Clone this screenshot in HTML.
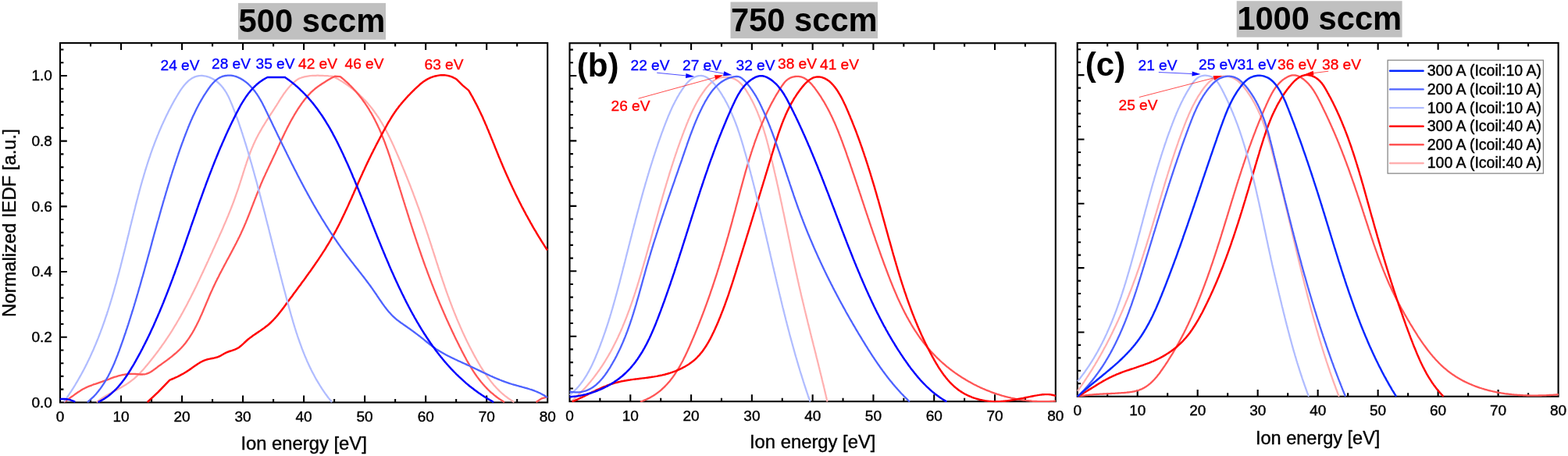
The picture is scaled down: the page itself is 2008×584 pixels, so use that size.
<!DOCTYPE html>
<html lang="en"><head><meta charset="utf-8"><title>Normalized IEDF</title>
<style>html,body{margin:0;padding:0;background:#fff}svg{display:block}text{stroke-linejoin:round}.t{stroke:#000;stroke-width:.4px}.tb{stroke:#00f;stroke-width:.35px}.tr{stroke:#f00;stroke-width:.35px}</style></head>
<body>
<svg width="2008" height="584" viewBox="0 0 2008 584" font-family='"Liberation Sans", sans-serif'>
<rect x="0" y="0" width="2008" height="584" fill="#fff"/>
<rect x="77.0" y="55.1" width="624.2" height="460.29999999999995" fill="none" stroke="#000" stroke-width="2.1"/>
<path d="M116.01,515.4 v-4.4 M116.01,55.1 v4.4 M155.03,515.4 v-8.8 M155.03,55.1 v8.8 M194.04,515.4 v-4.4 M194.04,55.1 v4.4 M233.05,515.4 v-8.8 M233.05,55.1 v8.8 M272.06,515.4 v-4.4 M272.06,55.1 v4.4 M311.08,515.4 v-8.8 M311.08,55.1 v8.8 M350.09,515.4 v-4.4 M350.09,55.1 v4.4 M389.10,515.4 v-8.8 M389.10,55.1 v8.8 M428.11,515.4 v-4.4 M428.11,55.1 v4.4 M467.12,515.4 v-8.8 M467.12,55.1 v8.8 M506.14,515.4 v-4.4 M506.14,55.1 v4.4 M545.15,515.4 v-8.8 M545.15,55.1 v8.8 M584.16,515.4 v-4.4 M584.16,55.1 v4.4 M623.18,515.4 v-8.8 M623.18,55.1 v8.8 M662.19,515.4 v-4.4 M662.19,55.1 v4.4 M77.0,498.66 h4.4 M77.0,481.92 h4.4 M77.0,465.19 h4.4 M77.0,448.45 h4.4 M77.0,431.71 h8.8 M77.0,414.97 h4.4 M77.0,398.23 h4.4 M77.0,381.49 h4.4 M77.0,364.76 h4.4 M77.0,348.02 h8.8 M77.0,331.28 h4.4 M77.0,314.54 h4.4 M77.0,297.80 h4.4 M77.0,281.07 h4.4 M77.0,264.33 h8.8 M77.0,247.59 h4.4 M77.0,230.85 h4.4 M77.0,214.11 h4.4 M77.0,197.37 h4.4 M77.0,180.64 h8.8 M77.0,163.90 h4.4 M77.0,147.16 h4.4 M77.0,130.42 h4.4 M77.0,113.68 h4.4 M77.0,96.95 h8.8 M77.0,80.21 h4.4 M77.0,63.47 h4.4" stroke="#000" stroke-width="2.1" fill="none"/>
<clipPath id="cp1"><rect x="76.0" y="54.1" width="626.2" height="462.29999999999995"/></clipPath>
<g clip-path="url(#cp1)" fill="none" stroke-linejoin="round" stroke-linecap="butt">
<path d="M123.7,515.0 L124.9,514.1 L126.1,513.2 L127.3,512.3 L128.5,511.4 L129.7,510.6 L131.0,509.8 L132.3,509.0 L133.5,508.2 L134.8,507.4 L136.1,506.6 L137.4,505.9 L138.7,505.1 L140.0,504.4 L141.3,503.7 L142.7,503.0 L144.0,502.2 L145.3,501.5 L146.6,500.8 L148.0,500.1 L149.3,499.4 L150.6,498.7 L151.9,497.9 L153.2,497.2 L154.6,496.5 L155.9,495.7 L157.1,495.0 L158.4,494.2 L159.7,493.5 L161.0,492.7 L162.2,491.9 L163.5,491.1 L164.7,490.2 L165.9,489.4 L167.1,488.5 L168.3,487.6 L169.5,486.7 L170.6,485.8 L171.8,484.9 L172.9,483.9 L174.0,482.9 L175.1,481.9 L176.1,480.9 L177.2,479.9 L178.2,478.8 L179.3,477.8 L180.3,476.7 L181.3,475.6 L182.3,474.5 L183.3,473.4 L184.3,472.3 L185.3,471.1 L186.2,470.0 L187.2,468.8 L188.2,467.7 L189.1,466.5 L190.1,465.4 L191.0,464.2 L192.0,463.1 L192.9,461.9 L193.8,460.7 L194.8,459.5 L195.7,458.4 L196.6,457.2 L197.5,456.0 L198.5,454.8 L199.4,453.6 L200.3,452.4 L201.2,451.2 L202.1,450.0 L203.0,448.8 L203.9,447.6 L204.7,446.4 L205.6,445.2 L206.5,444.0 L207.4,442.7 L208.2,441.5 L209.1,440.3 L210.0,439.1 L210.8,437.8 L211.7,436.6 L212.5,435.3 L213.3,434.1 L214.2,432.9 L215.0,431.6 L215.8,430.4 L216.7,429.1 L217.5,427.8 L218.3,426.6 L219.1,425.3 L219.9,424.1 L220.7,422.8 L221.5,421.5 L222.3,420.2 L223.0,419.0 L223.8,417.7 L224.6,416.4 L225.4,415.1 L226.1,413.8 L226.9,412.5 L227.6,411.2 L228.4,410.0 L229.1,408.7 L229.9,407.4 L230.6,406.1 L231.4,404.8 L232.1,403.4 L232.8,402.1 L233.6,400.8 L234.3,399.5 L235.0,398.2 L235.7,396.9 L236.4,395.6 L237.1,394.3 L237.8,392.9 L238.6,391.6 L239.3,390.3 L240.0,389.0 L240.6,387.6 L241.3,386.3 L242.0,385.0 L242.7,383.6 L243.4,382.3 L244.1,381.0 L244.8,379.6 L245.4,378.3 L246.1,376.9 L246.8,375.6 L247.4,374.3 L248.1,372.9 L248.8,371.6 L249.4,370.2 L250.1,368.9 L250.8,367.5 L251.4,366.2 L252.1,364.8 L252.7,363.5 L253.4,362.1 L254.0,360.8 L254.7,359.4 L255.3,358.1 L255.9,356.7 L256.6,355.3 L257.2,354.0 L257.9,352.6 L258.5,351.3 L259.1,349.9 L259.8,348.6 L260.4,347.2 L261.0,345.8 L261.7,344.5 L262.3,343.1 L262.9,341.7 L263.6,340.4 L264.2,339.0 L264.8,337.7 L265.4,336.3 L266.1,334.9 L266.7,333.6 L267.3,332.2 L267.9,330.8 L268.6,329.5 L269.2,328.1 L269.8,326.7 L270.4,325.4 L271.1,324.0 L271.7,322.7 L272.3,321.3 L272.9,319.9 L273.5,318.6 L274.2,317.2 L274.8,315.8 L275.4,314.5 L276.0,313.1 L276.6,311.7 L277.3,310.4 L277.9,309.0 L278.5,307.7 L279.1,306.3 L279.7,304.9 L280.3,303.6 L280.9,302.2 L281.5,300.8 L282.1,299.5 L282.8,298.1 L283.4,296.7 L284.0,295.3 L284.6,294.0 L285.2,292.6 L285.8,291.2 L286.3,289.9 L286.9,288.5 L287.5,287.1 L288.1,285.7 L288.7,284.4 L289.3,283.0 L289.9,281.6 L290.4,280.2 L291.0,278.9 L291.6,277.5 L292.2,276.1 L292.7,274.7 L293.3,273.3 L293.9,271.9 L294.4,270.5 L295.0,269.2 L295.5,267.8 L296.1,266.4 L296.6,265.0 L297.1,263.6 L297.7,262.2 L298.2,260.8 L298.8,259.4 L299.3,258.0 L299.8,256.6 L300.3,255.2 L300.8,253.8 L301.3,252.4 L301.8,251.0 L302.3,249.5 L302.8,248.1 L303.3,246.7 L303.8,245.3 L304.3,243.9 L304.8,242.5 L305.3,241.0 L305.7,239.6 L306.2,238.2 L306.7,236.7 L307.1,235.3 L307.6,233.9 L308.0,232.4 L308.5,231.0 L309.0,229.6 L309.4,228.1 L309.9,226.7 L310.3,225.3 L310.8,223.8 L311.2,222.4 L311.7,221.0 L312.1,219.5 L312.6,218.1 L313.0,216.7 L313.5,215.2 L314.0,213.8 L314.4,212.4 L314.9,211.0 L315.4,209.5 L315.8,208.1 L316.3,206.7 L316.8,205.3 L317.3,203.9 L317.8,202.4 L318.3,201.0 L318.8,199.6 L319.3,198.2 L319.9,196.8 L320.4,195.4 L320.9,194.0 L321.5,192.6 L322.0,191.2 L322.6,189.9 L323.2,188.5 L323.8,187.1 L324.3,185.7 L325.0,184.4 L325.6,183.0 L326.2,181.7 L326.8,180.3 L327.5,179.0 L328.1,177.6 L328.8,176.3 L329.5,175.0 L330.2,173.6 L330.9,172.3 L331.6,171.0 L332.4,169.7 L333.1,168.4 L333.8,167.1 L334.6,165.8 L335.3,164.5 L336.1,163.2 L336.9,161.9 L337.7,160.6 L338.5,159.3 L339.2,158.1 L340.0,156.8 L340.8,155.5 L341.6,154.2 L342.5,153.0 L343.3,151.7 L344.1,150.4 L344.9,149.2 L345.7,147.9 L346.5,146.6 L347.3,145.4 L348.2,144.1 L349.0,142.9 L349.8,141.6 L350.6,140.3 L351.4,139.1 L352.2,137.8 L353.0,136.5 L353.9,135.3 L354.7,134.0 L355.5,132.7 L356.3,131.5 L357.0,130.2 L357.8,128.9 L358.6,127.7 L359.4,126.4 L360.2,125.2 L361.1,123.9 L361.9,122.7 L362.7,121.4 L363.5,120.2 L364.4,119.0 L365.3,117.8 L366.1,116.6 L367.0,115.4 L368.0,114.3 L368.9,113.1 L369.9,112.0 L370.8,110.9 L371.8,109.8 L372.9,108.7 L373.9,107.7 L375.0,106.6 L376.2,105.6 L377.3,104.6 L378.5,103.7 L379.7,102.7 L381.0,101.8 L382.3,101.0 L382.5,100.8 L383.9,100.2 L385.3,99.7 L386.7,99.2 L388.2,98.8 L389.6,98.4 L391.0,98.1 L392.5,97.8 L394.0,97.6 L395.5,97.4 L396.9,97.2 L398.4,97.0 L399.9,96.9 L401.4,96.8 L402.9,96.8 L404.5,96.8 L406.0,96.7 L407.5,96.7 L409.0,96.8 L410.5,96.8 L412.0,96.8 L413.5,96.9 L415.0,97.0 L416.5,97.0 L418.0,97.1 L419.5,97.2 L421.0,97.4 L422.5,97.5 L424.0,97.6 L425.5,97.7 L426.2,97.8 L427.6,98.5 L428.9,99.2 L430.3,99.9 L431.6,100.6 L432.9,101.3 L434.2,102.1 L435.5,102.9 L436.8,103.6 L438.1,104.4 L439.4,105.2 L440.6,106.0 L441.9,106.9 L443.1,107.7 L444.4,108.6 L445.6,109.4 L446.8,110.3 L448.0,111.2 L449.2,112.1 L450.4,113.0 L451.6,113.9 L452.7,114.9 L453.9,115.8 L455.0,116.8 L456.2,117.7 L457.3,118.7 L458.4,119.7 L459.5,120.7 L460.6,121.7 L461.7,122.8 L462.8,123.8 L463.8,124.8 L464.9,125.9 L465.9,127.0 L467.0,128.0 L468.0,129.1 L469.0,130.2 L470.0,131.3 L471.0,132.4 L472.0,133.6 L472.9,134.7 L473.9,135.8 L474.8,137.0 L475.8,138.2 L476.7,139.3 L477.6,140.5 L478.5,141.7 L479.4,142.9 L480.2,144.1 L481.1,145.3 L482.0,146.5 L482.8,147.8 L483.6,149.0 L484.5,150.2 L485.3,151.5 L486.1,152.7 L486.9,154.0 L487.6,155.3 L488.4,156.5 L489.2,157.8 L489.9,159.1 L490.7,160.4 L491.4,161.7 L492.2,163.0 L492.9,164.3 L493.6,165.6 L494.3,166.9 L495.0,168.2 L495.7,169.6 L496.4,170.9 L497.1,172.2 L497.7,173.6 L498.4,174.9 L499.1,176.3 L499.7,177.6 L500.4,179.0 L501.0,180.3 L501.7,181.7 L502.3,183.0 L502.9,184.4 L503.6,185.8 L504.2,187.1 L504.8,188.5 L505.4,189.9 L506.0,191.2 L506.6,192.6 L507.2,194.0 L507.8,195.4 L508.4,196.8 L509.0,198.1 L509.6,199.5 L510.2,200.9 L510.8,202.3 L511.4,203.7 L512.0,205.0 L512.6,206.4 L513.2,207.8 L513.8,209.2 L514.3,210.6 L514.9,212.0 L515.5,213.4 L516.1,214.7 L516.6,216.1 L517.2,217.5 L517.8,218.9 L518.3,220.3 L518.9,221.7 L519.5,223.1 L520.0,224.5 L520.6,225.9 L521.2,227.3 L521.7,228.7 L522.3,230.1 L522.8,231.4 L523.4,232.8 L523.9,234.2 L524.5,235.6 L525.0,237.0 L525.6,238.4 L526.1,239.8 L526.6,241.2 L527.2,242.6 L527.7,244.0 L528.3,245.4 L528.8,246.8 L529.3,248.2 L529.8,249.6 L530.4,251.1 L530.9,252.5 L531.4,253.9 L531.9,255.3 L532.5,256.7 L533.0,258.1 L533.5,259.5 L534.0,260.9 L534.5,262.3 L535.0,263.7 L535.6,265.1 L536.1,266.5 L536.6,267.9 L537.1,269.4 L537.6,270.8 L538.1,272.2 L538.6,273.6 L539.1,275.0 L539.6,276.4 L540.1,277.8 L540.6,279.2 L541.1,280.7 L541.6,282.1 L542.0,283.5 L542.5,284.9 L543.0,286.3 L543.5,287.7 L544.0,289.2 L544.5,290.6 L544.9,292.0 L545.4,293.4 L545.9,294.8 L546.4,296.2 L546.8,297.7 L547.3,299.1 L547.8,300.5 L548.3,301.9 L548.7,303.3 L549.2,304.8 L549.7,306.2 L550.1,307.6 L550.6,309.0 L551.0,310.4 L551.5,311.9 L552.0,313.3 L552.4,314.7 L552.9,316.1 L553.3,317.6 L553.8,319.0 L554.3,320.4 L554.7,321.8 L555.2,323.3 L555.6,324.7 L556.1,326.1 L556.5,327.5 L557.0,328.9 L557.5,330.4 L557.9,331.8 L558.4,333.2 L558.8,334.6 L559.3,336.1 L559.7,337.5 L560.2,338.9 L560.7,340.3 L561.1,341.8 L561.6,343.2 L562.0,344.6 L562.5,346.0 L563.0,347.4 L563.4,348.9 L563.9,350.3 L564.4,351.7 L564.8,353.1 L565.3,354.5 L565.8,356.0 L566.3,357.4 L566.7,358.8 L567.2,360.2 L567.7,361.6 L568.2,363.1 L568.7,364.5 L569.2,365.9 L569.6,367.3 L570.1,368.7 L570.6,370.1 L571.1,371.6 L571.6,373.0 L572.1,374.4 L572.6,375.8 L573.1,377.2 L573.6,378.6 L574.2,380.0 L574.7,381.5 L575.2,382.9 L575.7,384.3 L576.2,385.7 L576.8,387.1 L577.3,388.5 L577.8,389.9 L578.4,391.3 L578.9,392.7 L579.4,394.1 L580.0,395.5 L580.5,396.9 L581.1,398.3 L581.6,399.7 L582.2,401.1 L582.8,402.5 L583.3,403.9 L583.9,405.3 L584.5,406.7 L585.0,408.1 L585.6,409.5 L586.2,410.9 L586.8,412.2 L587.4,413.6 L588.0,415.0 L588.6,416.4 L589.2,417.8 L589.8,419.2 L590.4,420.5 L591.0,421.9 L591.6,423.3 L592.2,424.6 L592.8,426.0 L593.5,427.4 L594.1,428.7 L594.7,430.1 L595.4,431.5 L596.0,432.8 L596.7,434.2 L597.3,435.5 L598.0,436.9 L598.6,438.2 L599.3,439.6 L600.0,440.9 L600.6,442.3 L601.3,443.6 L602.0,445.0 L602.7,446.3 L603.4,447.6 L604.1,449.0 L604.8,450.3 L605.5,451.6 L606.2,452.9 L606.9,454.3 L607.6,455.6 L608.3,456.9 L609.0,458.2 L609.8,459.5 L610.5,460.8 L611.3,462.1 L612.0,463.4 L612.7,464.7 L613.5,466.0 L614.3,467.3 L615.0,468.6 L615.8,469.9 L616.6,471.1 L617.4,472.4 L618.2,473.7 L619.0,474.9 L619.8,476.2 L620.6,477.4 L621.5,478.7 L622.3,479.9 L623.2,481.1 L624.0,482.3 L624.9,483.5 L625.8,484.7 L626.7,485.9 L627.6,487.1 L628.5,488.3 L629.4,489.4 L630.3,490.6 L631.3,491.7 L632.2,492.9 L633.2,494.0 L634.2,495.1 L635.2,496.2 L636.2,497.3 L637.2,498.3 L638.3,499.4 L639.3,500.4 L640.4,501.5 L641.5,502.5 L642.6,503.5 L643.7,504.5 L644.9,505.4 L646.0,506.4 L647.2,507.3 L648.4,508.2 L649.6,509.2 L650.8,510.0 L652.1,510.9 L653.3,511.8 L654.6,512.6 L655.9,513.4 L657.2,514.2 L658.5,515.0" stroke="#ffb0b0" stroke-width="2.25"/>
<path d="M81.9,514.8 L83.2,514.0 L84.4,513.2 L85.7,512.3 L86.9,511.5 L88.2,510.6 L89.4,509.8 L90.6,508.9 L91.8,508.0 L93.1,507.2 L94.3,506.3 L95.5,505.4 L96.7,504.5 L97.9,503.7 L99.2,502.8 L100.4,502.0 L101.7,501.2 L102.9,500.4 L104.2,499.6 L105.5,498.8 L106.8,498.1 L108.1,497.4 L109.4,496.7 L110.7,496.1 L112.1,495.5 L113.5,494.9 L114.9,494.3 L116.3,493.8 L117.7,493.3 L119.1,492.7 L120.5,492.2 L121.9,491.8 L123.3,491.3 L124.8,490.8 L126.2,490.3 L127.6,489.8 L129.0,489.3 L130.5,488.9 L131.9,488.4 L133.3,487.9 L134.7,487.4 L136.1,486.8 L137.5,486.3 L138.9,485.8 L140.3,485.3 L141.7,484.7 L143.1,484.2 L144.5,483.7 L145.9,483.2 L147.3,482.7 L148.7,482.3 L150.2,481.8 L151.6,481.4 L153.0,481.0 L154.5,480.7 L155.9,480.3 L157.4,480.0 L158.8,479.8 L160.3,479.5 L161.8,479.3 L163.2,479.1 L164.7,478.9 L166.2,478.8 L167.7,478.8 L169.1,478.8 L170.6,478.8 L172.1,478.9 L173.6,479.0 L175.1,479.1 L176.6,479.2 L178.1,479.4 L179.5,479.5 L181.0,479.5 L182.4,479.5 L183.8,479.4 L185.2,479.3 L186.6,479.0 L187.9,478.6 L189.2,478.2 L190.5,477.6 L191.8,477.0 L193.1,476.3 L194.3,475.5 L195.5,474.7 L196.7,473.8 L198.0,472.9 L199.2,472.0 L200.4,471.1 L201.6,470.2 L202.8,469.2 L204.0,468.3 L205.3,467.5 L206.5,466.6 L207.7,465.7 L208.9,464.8 L210.1,463.9 L211.4,463.1 L212.6,462.2 L213.8,461.3 L215.0,460.4 L216.2,459.5 L217.3,458.6 L218.5,457.7 L219.7,456.8 L220.8,455.9 L221.9,454.9 L223.0,454.0 L224.2,453.0 L225.3,452.1 L226.4,451.1 L227.5,450.1 L228.5,449.1 L229.6,448.1 L230.7,447.0 L231.7,446.0 L232.7,444.9 L233.7,443.8 L234.7,442.7 L235.7,441.5 L236.6,440.4 L237.6,439.2 L238.5,438.0 L239.4,436.8 L240.2,435.6 L241.1,434.4 L242.0,433.1 L242.8,431.9 L243.6,430.6 L244.4,429.3 L245.2,428.1 L246.0,426.8 L246.8,425.5 L247.5,424.2 L248.3,422.9 L249.0,421.6 L249.7,420.2 L250.4,418.9 L251.1,417.6 L251.8,416.2 L252.4,414.9 L253.1,413.6 L253.8,412.2 L254.4,410.9 L255.1,409.5 L255.7,408.2 L256.3,406.8 L256.9,405.4 L257.5,404.1 L258.2,402.7 L258.8,401.3 L259.4,399.9 L260.0,398.6 L260.5,397.2 L261.1,395.8 L261.7,394.4 L262.3,393.0 L262.9,391.6 L263.5,390.3 L264.0,388.9 L264.6,387.5 L265.2,386.1 L265.8,384.7 L266.4,383.3 L267.0,382.0 L267.5,380.6 L268.1,379.2 L268.7,377.8 L269.3,376.4 L269.9,375.1 L270.5,373.7 L271.2,372.3 L271.8,371.0 L272.4,369.6 L273.0,368.2 L273.7,366.9 L274.3,365.5 L274.9,364.2 L275.6,362.8 L276.2,361.5 L276.9,360.1 L277.6,358.8 L278.2,357.4 L278.9,356.1 L279.6,354.8 L280.3,353.4 L280.9,352.1 L281.6,350.7 L282.3,349.4 L283.0,348.1 L283.7,346.8 L284.4,345.4 L285.1,344.1 L285.8,342.8 L286.5,341.4 L287.2,340.1 L287.9,338.8 L288.6,337.5 L289.3,336.2 L290.0,334.8 L290.7,333.5 L291.4,332.2 L292.2,330.9 L292.9,329.5 L293.6,328.2 L294.3,326.9 L295.0,325.6 L295.7,324.3 L296.4,322.9 L297.1,321.6 L297.8,320.3 L298.5,318.9 L299.2,317.6 L299.9,316.3 L300.6,315.0 L301.3,313.6 L302.0,312.3 L302.7,311.0 L303.3,309.6 L304.0,308.3 L304.7,306.9 L305.3,305.6 L306.0,304.3 L306.7,302.9 L307.3,301.6 L308.0,300.2 L308.6,298.9 L309.2,297.5 L309.8,296.1 L310.5,294.8 L311.1,293.4 L311.7,292.0 L312.3,290.7 L312.9,289.3 L313.5,287.9 L314.1,286.5 L314.7,285.1 L315.2,283.8 L315.8,282.4 L316.4,281.0 L316.9,279.6 L317.5,278.2 L318.1,276.8 L318.6,275.4 L319.2,274.0 L319.7,272.6 L320.3,271.2 L320.8,269.8 L321.4,268.4 L321.9,267.0 L322.4,265.6 L323.0,264.2 L323.5,262.8 L324.1,261.4 L324.6,260.0 L325.1,258.6 L325.7,257.2 L326.2,255.8 L326.8,254.4 L327.3,253.0 L327.9,251.6 L328.4,250.2 L329.0,248.8 L329.5,247.4 L330.1,246.0 L330.6,244.6 L331.2,243.2 L331.8,241.9 L332.3,240.5 L332.9,239.1 L333.5,237.7 L334.0,236.3 L334.6,234.9 L335.2,233.6 L335.8,232.2 L336.4,230.8 L337.0,229.4 L337.6,228.1 L338.2,226.7 L338.9,225.3 L339.5,224.0 L340.1,222.6 L340.7,221.3 L341.4,219.9 L342.0,218.5 L342.6,217.2 L343.3,215.8 L343.9,214.5 L344.5,213.1 L345.2,211.8 L345.8,210.4 L346.5,209.1 L347.1,207.7 L347.7,206.4 L348.4,205.0 L349.0,203.6 L349.7,202.3 L350.3,200.9 L350.9,199.6 L351.6,198.2 L352.2,196.9 L352.9,195.5 L353.5,194.1 L354.1,192.8 L354.8,191.4 L355.4,190.0 L356.0,188.7 L356.6,187.3 L357.3,186.0 L357.9,184.6 L358.5,183.2 L359.2,181.9 L359.8,180.5 L360.5,179.1 L361.1,177.8 L361.7,176.4 L362.4,175.1 L363.0,173.7 L363.7,172.4 L364.3,171.0 L365.0,169.6 L365.6,168.3 L366.3,167.0 L367.0,165.6 L367.6,164.3 L368.3,162.9 L369.0,161.6 L369.7,160.3 L370.4,158.9 L371.1,157.6 L371.8,156.3 L372.5,155.0 L373.2,153.7 L374.0,152.4 L374.7,151.1 L375.4,149.8 L376.2,148.5 L376.9,147.2 L377.7,145.9 L378.5,144.6 L379.2,143.3 L380.0,142.1 L380.8,140.8 L381.6,139.5 L382.5,138.3 L383.3,137.0 L384.1,135.8 L385.0,134.6 L385.8,133.3 L386.7,132.1 L387.6,130.9 L388.5,129.7 L389.4,128.5 L390.3,127.3 L391.3,126.2 L392.2,125.0 L393.2,123.9 L394.1,122.7 L395.1,121.6 L396.2,120.5 L397.2,119.4 L398.2,118.4 L399.3,117.3 L400.4,116.3 L401.5,115.3 L402.7,114.4 L403.8,113.4 L405.0,112.5 L406.2,111.6 L407.4,110.7 L408.6,109.9 L409.9,109.0 L411.1,108.2 L412.4,107.3 L413.7,106.5 L414.9,105.7 L416.2,104.9 L417.5,104.1 L418.7,103.3 L420.0,102.5 L421.3,101.7 L422.6,101.0 L423.9,100.3 L425.2,99.6 L426.5,98.9 L427.8,98.2 L428.7,97.7 L435.6,98.1 L436.8,99.0 L438.0,100.0 L439.1,100.9 L440.3,101.9 L441.4,102.9 L442.5,103.9 L443.7,104.9 L444.8,105.9 L445.9,106.9 L446.9,107.9 L448.0,109.0 L449.1,110.0 L450.1,111.1 L451.2,112.2 L452.2,113.3 L453.2,114.4 L454.2,115.5 L455.2,116.6 L456.2,117.7 L457.2,118.9 L458.1,120.0 L459.1,121.2 L460.0,122.3 L460.9,123.5 L461.9,124.7 L462.8,125.9 L463.7,127.1 L464.6,128.3 L465.4,129.5 L466.3,130.7 L467.2,131.9 L468.0,133.2 L468.8,134.4 L469.7,135.6 L470.5,136.9 L471.3,138.2 L472.1,139.4 L472.9,140.7 L473.6,142.0 L474.4,143.3 L475.2,144.5 L475.9,145.8 L476.6,147.1 L477.4,148.4 L478.1,149.8 L478.8,151.1 L479.5,152.4 L480.2,153.7 L480.8,155.0 L481.5,156.4 L482.2,157.7 L482.8,159.1 L483.5,160.4 L484.1,161.8 L484.7,163.1 L485.4,164.5 L486.0,165.8 L486.6,167.2 L487.2,168.6 L487.8,169.9 L488.3,171.3 L488.9,172.7 L489.5,174.1 L490.0,175.5 L490.6,176.9 L491.1,178.3 L491.7,179.6 L492.2,181.0 L492.8,182.4 L493.3,183.9 L493.8,185.3 L494.3,186.7 L494.8,188.1 L495.3,189.5 L495.9,190.9 L496.4,192.3 L496.8,193.7 L497.3,195.2 L497.8,196.6 L498.3,198.0 L498.8,199.4 L499.3,200.9 L499.7,202.3 L500.2,203.7 L500.7,205.2 L501.1,206.6 L501.6,208.0 L502.0,209.5 L502.5,210.9 L503.0,212.3 L503.4,213.8 L503.9,215.2 L504.3,216.6 L504.8,218.1 L505.2,219.5 L505.7,221.0 L506.1,222.4 L506.5,223.8 L507.0,225.3 L507.4,226.7 L507.9,228.2 L508.3,229.6 L508.8,231.0 L509.2,232.5 L509.7,233.9 L510.1,235.3 L510.5,236.8 L511.0,238.2 L511.4,239.7 L511.9,241.1 L512.3,242.5 L512.8,244.0 L513.2,245.4 L513.7,246.8 L514.1,248.3 L514.5,249.7 L515.0,251.1 L515.4,252.6 L515.9,254.0 L516.3,255.4 L516.8,256.9 L517.2,258.3 L517.7,259.7 L518.1,261.2 L518.6,262.6 L519.0,264.0 L519.5,265.5 L519.9,266.9 L520.4,268.3 L520.8,269.7 L521.3,271.2 L521.7,272.6 L522.2,274.0 L522.6,275.5 L523.1,276.9 L523.5,278.3 L524.0,279.7 L524.4,281.2 L524.9,282.6 L525.3,284.0 L525.8,285.5 L526.3,286.9 L526.7,288.3 L527.2,289.7 L527.6,291.2 L528.1,292.6 L528.6,294.0 L529.0,295.4 L529.5,296.8 L530.0,298.3 L530.4,299.7 L530.9,301.1 L531.4,302.5 L531.8,303.9 L532.3,305.4 L532.8,306.8 L533.3,308.2 L533.7,309.6 L534.2,311.0 L534.7,312.5 L535.2,313.9 L535.6,315.3 L536.1,316.7 L536.6,318.1 L537.1,319.5 L537.6,321.0 L538.1,322.4 L538.6,323.8 L539.0,325.2 L539.5,326.6 L540.0,328.0 L540.5,329.4 L541.0,330.8 L541.5,332.2 L542.0,333.7 L542.5,335.1 L543.0,336.5 L543.5,337.9 L544.0,339.3 L544.5,340.7 L545.0,342.1 L545.6,343.5 L546.1,344.9 L546.6,346.3 L547.1,347.7 L547.6,349.1 L548.1,350.5 L548.7,351.9 L549.2,353.3 L549.7,354.7 L550.3,356.1 L550.8,357.5 L551.3,358.9 L551.9,360.3 L552.4,361.7 L552.9,363.1 L553.5,364.5 L554.0,365.9 L554.6,367.3 L555.1,368.7 L555.7,370.1 L556.2,371.5 L556.8,372.9 L557.3,374.3 L557.9,375.7 L558.5,377.1 L559.0,378.5 L559.6,379.8 L560.2,381.2 L560.7,382.6 L561.3,384.0 L561.9,385.4 L562.5,386.8 L563.0,388.2 L563.6,389.5 L564.2,390.9 L564.8,392.3 L565.4,393.7 L566.0,395.1 L566.6,396.5 L567.2,397.8 L567.8,399.2 L568.4,400.6 L569.0,402.0 L569.6,403.3 L570.2,404.7 L570.8,406.1 L571.4,407.5 L572.0,408.8 L572.6,410.2 L573.3,411.6 L573.9,412.9 L574.5,414.3 L575.1,415.7 L575.8,417.1 L576.4,418.4 L577.0,419.8 L577.7,421.1 L578.3,422.5 L578.9,423.9 L579.6,425.2 L580.2,426.6 L580.9,427.9 L581.5,429.3 L582.2,430.7 L582.8,432.0 L583.5,433.4 L584.1,434.7 L584.8,436.1 L585.5,437.4 L586.1,438.8 L586.8,440.1 L587.5,441.5 L588.1,442.8 L588.8,444.2 L589.5,445.5 L590.2,446.8 L590.8,448.2 L591.5,449.5 L592.2,450.9 L592.9,452.2 L593.6,453.5 L594.3,454.9 L595.0,456.2 L595.7,457.5 L596.4,458.8 L597.1,460.2 L597.8,461.5 L598.6,462.8 L599.3,464.1 L600.0,465.4 L600.8,466.7 L601.6,468.0 L602.3,469.2 L603.1,470.5 L603.9,471.8 L604.7,473.1 L605.5,474.3 L606.3,475.6 L607.1,476.8 L607.9,478.0 L608.7,479.3 L609.6,480.5 L610.4,481.7 L611.3,482.9 L612.2,484.1 L613.1,485.3 L614.0,486.5 L614.9,487.6 L615.8,488.8 L616.8,489.9 L617.7,491.1 L618.7,492.2 L619.7,493.3 L620.7,494.4 L621.7,495.5 L622.7,496.6 L623.7,497.6 L624.8,498.7 L625.8,499.7 L626.9,500.8 L628.0,501.8 L629.1,502.8 L630.2,503.7 L631.4,504.7 L632.5,505.7 L633.7,506.6 L634.9,507.5 L636.1,508.5 L637.3,509.4 L638.5,510.2 L639.8,511.1 L641.0,511.9 L642.3,512.8 L643.6,513.6 L645.0,514.4 L646.0,515.0 M686.6,515.0 L693.5,510.4 L701.0,508.5" stroke="#ff5555" stroke-width="2.3"/>
<path d="M188.8,515.0 L202.5,502.2 L217.5,486.6 L218.9,486.1 L220.3,485.5 L221.7,484.9 L223.1,484.3 L224.4,483.7 L225.8,483.1 L227.1,482.5 L228.5,481.8 L229.8,481.1 L231.2,480.4 L232.5,479.7 L233.8,479.0 L235.1,478.3 L236.4,477.5 L237.7,476.7 L239.0,475.9 L240.2,475.1 L241.5,474.3 L242.7,473.4 L244.0,472.6 L245.2,471.7 L246.4,470.8 L247.6,470.0 L248.9,469.1 L250.1,468.2 L251.3,467.4 L252.6,466.6 L253.8,465.8 L255.1,465.0 L256.3,464.2 L257.6,463.5 L258.9,462.9 L260.3,462.2 L261.6,461.6 L263.0,461.1 L264.4,460.6 L265.8,460.2 L267.2,459.9 L268.7,459.6 L270.2,459.3 L271.7,459.0 L273.2,458.7 L274.6,458.4 L276.1,458.0 L277.5,457.6 L278.9,457.2 L280.3,456.6 L281.7,456.0 L283.0,455.3 L284.3,454.5 L285.6,453.8 L286.9,453.0 L288.2,452.3 L289.5,451.7 L290.9,451.1 L292.3,450.5 L293.7,450.0 L295.2,449.5 L296.6,449.1 L298.0,448.6 L299.4,448.1 L300.8,447.6 L302.2,447.0 L303.5,446.4 L304.8,445.7 L306.0,444.9 L307.2,444.0 L308.4,443.1 L309.5,442.1 L310.6,441.1 L311.7,440.1 L312.8,439.0 L313.9,438.0 L315.0,437.0 L316.1,436.0 L317.2,435.0 L318.4,434.1 L319.6,433.1 L320.7,432.2 L321.9,431.4 L323.1,430.5 L324.4,429.6 L325.6,428.8 L326.8,427.9 L328.1,427.1 L329.3,426.2 L330.6,425.4 L331.8,424.5 L333.1,423.7 L334.4,422.8 L335.6,421.9 L336.9,421.0 L338.1,420.2 L339.3,419.3 L340.5,418.3 L341.7,417.4 L342.9,416.5 L344.1,415.5 L345.2,414.5 L346.3,413.5 L347.4,412.5 L348.4,411.4 L349.5,410.4 L350.5,409.3 L351.5,408.2 L352.5,407.1 L353.5,406.0 L354.5,404.9 L355.5,403.7 L356.4,402.6 L357.3,401.4 L358.3,400.3 L359.2,399.1 L360.1,397.9 L361.0,396.7 L361.9,395.6 L362.8,394.4 L363.7,393.2 L364.6,392.0 L365.5,390.8 L366.4,389.5 L367.2,388.3 L368.1,387.1 L369.0,385.9 L369.9,384.7 L370.8,383.5 L371.7,382.3 L372.6,381.1 L373.5,379.9 L374.4,378.7 L375.2,377.5 L376.1,376.3 L377.0,375.1 L377.9,373.9 L378.8,372.7 L379.7,371.5 L380.6,370.3 L381.5,369.0 L382.4,367.8 L383.3,366.6 L384.2,365.4 L385.1,364.2 L385.9,363.0 L386.8,361.8 L387.7,360.6 L388.6,359.4 L389.5,358.2 L390.4,356.9 L391.3,355.7 L392.1,354.5 L393.0,353.3 L393.9,352.1 L394.8,350.8 L395.6,349.6 L396.5,348.4 L397.4,347.2 L398.3,346.0 L399.1,344.7 L400.0,343.5 L400.9,342.3 L401.7,341.0 L402.6,339.8 L403.4,338.6 L404.3,337.3 L405.1,336.1 L406.0,334.9 L406.8,333.6 L407.7,332.4 L408.5,331.1 L409.3,329.9 L410.2,328.6 L411.0,327.4 L411.8,326.1 L412.6,324.9 L413.4,323.6 L414.2,322.4 L415.1,321.1 L415.9,319.8 L416.7,318.6 L417.4,317.3 L418.2,316.0 L419.0,314.7 L419.8,313.5 L420.6,312.2 L421.4,310.9 L422.1,309.6 L422.9,308.3 L423.6,307.0 L424.4,305.7 L425.1,304.4 L425.9,303.1 L426.6,301.8 L427.3,300.5 L428.1,299.2 L428.8,297.9 L429.5,296.6 L430.2,295.3 L430.9,294.0 L431.6,292.6 L432.3,291.3 L433.0,290.0 L433.7,288.6 L434.4,287.3 L435.0,286.0 L435.7,284.6 L436.4,283.3 L437.0,281.9 L437.7,280.6 L438.3,279.2 L439.0,277.9 L439.6,276.5 L440.3,275.2 L440.9,273.8 L441.6,272.5 L442.2,271.1 L442.8,269.8 L443.5,268.4 L444.1,267.0 L444.7,265.7 L445.4,264.3 L446.0,262.9 L446.6,261.6 L447.2,260.2 L447.8,258.8 L448.4,257.5 L449.1,256.1 L449.7,254.7 L450.3,253.4 L450.9,252.0 L451.5,250.6 L452.1,249.2 L452.7,247.9 L453.3,246.5 L453.9,245.1 L454.5,243.7 L455.1,242.4 L455.7,241.0 L456.4,239.6 L457.0,238.2 L457.6,236.9 L458.2,235.5 L458.8,234.1 L459.4,232.8 L460.0,231.4 L460.6,230.0 L461.2,228.6 L461.8,227.3 L462.4,225.9 L463.1,224.5 L463.7,223.2 L464.3,221.8 L464.9,220.4 L465.5,219.1 L466.2,217.7 L466.8,216.4 L467.4,215.0 L468.1,213.6 L468.7,212.3 L469.3,210.9 L470.0,209.6 L470.6,208.2 L471.3,206.9 L471.9,205.5 L472.6,204.2 L473.2,202.8 L473.9,201.5 L474.5,200.2 L475.2,198.8 L475.8,197.5 L476.5,196.1 L477.2,194.8 L477.9,193.5 L478.5,192.1 L479.2,190.8 L479.9,189.5 L480.6,188.1 L481.2,186.8 L481.9,185.5 L482.6,184.1 L483.3,182.8 L484.0,181.5 L484.7,180.2 L485.4,178.8 L486.1,177.5 L486.8,176.2 L487.5,174.9 L488.2,173.5 L488.9,172.2 L489.6,170.9 L490.3,169.6 L491.0,168.2 L491.8,166.9 L492.5,165.6 L493.2,164.3 L493.9,163.0 L494.7,161.6 L495.4,160.3 L496.1,159.0 L496.9,157.7 L497.6,156.4 L498.4,155.1 L499.2,153.8 L499.9,152.6 L500.7,151.3 L501.5,150.0 L502.3,148.7 L503.1,147.5 L503.9,146.2 L504.8,145.0 L505.6,143.7 L506.5,142.5 L507.3,141.3 L508.2,140.1 L509.1,138.9 L510.0,137.7 L510.9,136.5 L511.8,135.3 L512.8,134.2 L513.7,133.0 L514.7,131.9 L515.6,130.7 L516.6,129.6 L517.6,128.5 L518.6,127.4 L519.6,126.2 L520.6,125.1 L521.6,124.0 L522.6,122.9 L523.6,121.9 L524.7,120.8 L525.7,119.7 L526.8,118.6 L527.8,117.6 L528.9,116.5 L530.0,115.5 L531.0,114.4 L532.1,113.4 L533.2,112.3 L534.3,111.3 L535.4,110.3 L536.5,109.3 L537.6,108.3 L538.8,107.3 L539.9,106.4 L541.1,105.5 L542.3,104.6 L543.6,103.7 L544.8,102.9 L546.1,102.1 L547.4,101.4 L548.8,100.7 L550.1,100.0 L551.5,99.4 L552.9,98.9 L554.3,98.4 L555.8,97.9 L557.2,97.5 L558.7,97.2 L560.2,96.9 L561.6,96.6 L563.1,96.4 L564.6,96.3 L566.1,96.2 L567.6,96.2 L569.1,96.3 L570.5,96.4 L572.0,96.6 L573.5,96.9 L574.9,97.2 L576.4,97.6 L577.8,98.1 L579.2,98.6 L580.6,99.3 L581.9,100.0 L583.3,100.7 L584.6,101.6 L585.0,101.9 L592.5,109.4 L600.0,115.6 L600.8,116.9 L601.6,118.2 L602.3,119.5 L603.1,120.8 L603.8,122.1 L604.6,123.4 L605.3,124.7 L606.0,126.0 L606.7,127.3 L607.4,128.6 L608.1,130.0 L608.8,131.3 L609.5,132.6 L610.2,133.9 L610.9,135.3 L611.6,136.6 L612.2,138.0 L612.9,139.3 L613.5,140.6 L614.2,142.0 L614.8,143.3 L615.5,144.7 L616.1,146.1 L616.7,147.4 L617.4,148.8 L618.0,150.1 L618.6,151.5 L619.2,152.9 L619.8,154.2 L620.4,155.6 L621.0,157.0 L621.6,158.4 L622.2,159.7 L622.8,161.1 L623.4,162.5 L623.9,163.9 L624.5,165.3 L625.1,166.6 L625.7,168.0 L626.2,169.4 L626.8,170.8 L627.4,172.2 L628.0,173.6 L628.5,175.0 L629.1,176.3 L629.6,177.7 L630.2,179.1 L630.8,180.5 L631.3,181.9 L631.9,183.3 L632.5,184.7 L633.0,186.1 L633.6,187.5 L634.1,188.9 L634.7,190.3 L635.3,191.7 L635.8,193.0 L636.4,194.4 L636.9,195.8 L637.5,197.2 L638.1,198.6 L638.6,200.0 L639.2,201.4 L639.8,202.8 L640.4,204.1 L640.9,205.5 L641.5,206.9 L642.1,208.3 L642.7,209.7 L643.3,211.1 L643.8,212.4 L644.4,213.8 L645.0,215.2 L645.6,216.6 L646.2,217.9 L646.8,219.3 L647.4,220.7 L648.0,222.1 L648.6,223.4 L649.2,224.8 L649.8,226.2 L650.5,227.5 L651.1,228.9 L651.7,230.3 L652.3,231.6 L652.9,233.0 L653.6,234.4 L654.2,235.7 L654.8,237.1 L655.5,238.4 L656.1,239.8 L656.7,241.1 L657.4,242.5 L658.0,243.8 L658.7,245.2 L659.3,246.5 L660.0,247.9 L660.6,249.2 L661.3,250.6 L662.0,251.9 L662.6,253.3 L663.3,254.6 L664.0,256.0 L664.6,257.3 L665.3,258.6 L666.0,260.0 L666.7,261.3 L667.3,262.6 L668.0,264.0 L668.7,265.3 L669.4,266.6 L670.1,267.9 L670.8,269.3 L671.5,270.6 L672.2,271.9 L672.9,273.2 L673.6,274.6 L674.3,275.9 L675.1,277.2 L675.8,278.5 L676.5,279.8 L677.2,281.1 L678.0,282.4 L678.7,283.7 L679.4,285.1 L680.2,286.4 L680.9,287.7 L681.6,289.0 L682.4,290.3 L683.1,291.6 L683.9,292.9 L684.6,294.2 L685.4,295.4 L686.2,296.7 L686.9,298.0 L687.7,299.3 L688.5,300.6 L689.2,301.9 L690.0,303.2 L690.8,304.4 L691.6,305.7 L692.4,307.0 L693.2,308.3 L694.0,309.6 L694.8,310.8 L695.6,312.1 L696.4,313.4 L697.2,314.6 L698.0,315.9 L698.8,317.2 L699.6,318.4 L700.5,319.7 L701.0,320.5" stroke="#ff0000" stroke-width="2.45"/>
<path d="M81.9,514.5 L82.8,513.3 L83.7,512.1 L84.5,510.8 L85.4,509.6 L86.3,508.4 L87.1,507.1 L88.0,505.9 L88.8,504.6 L89.6,503.4 L90.5,502.1 L91.3,500.9 L92.1,499.6 L92.9,498.3 L93.7,497.1 L94.5,495.8 L95.3,494.5 L96.1,493.3 L96.8,492.0 L97.6,490.7 L98.4,489.4 L99.1,488.1 L99.9,486.8 L100.6,485.5 L101.4,484.2 L102.1,482.9 L102.8,481.6 L103.6,480.3 L104.3,479.0 L105.0,477.7 L105.7,476.4 L106.4,475.1 L107.1,473.8 L107.8,472.5 L108.5,471.1 L109.2,469.8 L109.8,468.5 L110.5,467.1 L111.2,465.8 L111.8,464.5 L112.5,463.1 L113.1,461.8 L113.8,460.4 L114.4,459.1 L115.1,457.7 L115.7,456.4 L116.3,455.0 L116.9,453.7 L117.5,452.3 L118.1,451.0 L118.8,449.6 L119.4,448.2 L120.0,446.9 L120.5,445.5 L121.1,444.1 L121.7,442.7 L122.3,441.4 L122.9,440.0 L123.4,438.6 L124.0,437.2 L124.6,435.8 L125.1,434.5 L125.7,433.1 L126.2,431.7 L126.8,430.3 L127.3,428.9 L127.8,427.5 L128.4,426.1 L128.9,424.7 L129.4,423.3 L129.9,421.9 L130.5,420.5 L131.0,419.1 L131.5,417.7 L132.0,416.2 L132.5,414.8 L133.0,413.4 L133.5,412.0 L134.0,410.6 L134.5,409.2 L134.9,407.7 L135.4,406.3 L135.9,404.9 L136.4,403.5 L136.9,402.1 L137.3,400.6 L137.8,399.2 L138.3,397.8 L138.7,396.3 L139.2,394.9 L139.6,393.5 L140.1,392.0 L140.5,390.6 L141.0,389.2 L141.4,387.7 L141.8,386.3 L142.3,384.8 L142.7,383.4 L143.2,381.9 L143.6,380.5 L144.0,379.1 L144.4,377.6 L144.9,376.2 L145.3,374.7 L145.7,373.3 L146.1,371.8 L146.5,370.4 L146.9,368.9 L147.3,367.5 L147.7,366.0 L148.1,364.6 L148.6,363.1 L149.0,361.6 L149.3,360.2 L149.7,358.7 L150.1,357.3 L150.5,355.8 L150.9,354.4 L151.3,352.9 L151.7,351.4 L152.1,350.0 L152.5,348.5 L152.9,347.0 L153.2,345.6 L153.6,344.1 L154.0,342.7 L154.4,341.2 L154.7,339.7 L155.1,338.3 L155.5,336.8 L155.9,335.3 L156.2,333.9 L156.6,332.4 L157.0,330.9 L157.3,329.5 L157.7,328.0 L158.1,326.5 L158.4,325.1 L158.8,323.6 L159.2,322.1 L159.5,320.7 L159.9,319.2 L160.3,317.8 L160.6,316.3 L161.0,314.8 L161.3,313.4 L161.7,311.9 L162.1,310.4 L162.4,309.0 L162.8,307.5 L163.1,306.0 L163.5,304.6 L163.8,303.1 L164.2,301.6 L164.6,300.2 L164.9,298.7 L165.3,297.2 L165.6,295.8 L166.0,294.3 L166.3,292.9 L166.7,291.4 L167.0,289.9 L167.4,288.5 L167.8,287.0 L168.1,285.6 L168.5,284.1 L168.8,282.6 L169.2,281.2 L169.6,279.7 L169.9,278.3 L170.3,276.8 L170.6,275.4 L171.0,273.9 L171.4,272.5 L171.7,271.0 L172.1,269.6 L172.5,268.1 L172.8,266.7 L173.2,265.2 L173.5,263.8 L173.9,262.3 L174.3,260.9 L174.7,259.4 L175.0,258.0 L175.4,256.5 L175.8,255.1 L176.2,253.7 L176.5,252.2 L176.9,250.8 L177.3,249.3 L177.7,247.9 L178.1,246.5 L178.4,245.0 L178.8,243.6 L179.2,242.2 L179.6,240.7 L180.0,239.3 L180.4,237.9 L180.8,236.4 L181.2,235.0 L181.6,233.6 L182.0,232.2 L182.4,230.7 L182.8,229.3 L183.3,227.9 L183.7,226.5 L184.1,225.0 L184.5,223.6 L184.9,222.2 L185.4,220.8 L185.8,219.3 L186.2,217.9 L186.7,216.5 L187.1,215.1 L187.5,213.7 L188.0,212.3 L188.4,210.8 L188.9,209.4 L189.3,208.0 L189.8,206.6 L190.3,205.2 L190.7,203.8 L191.2,202.4 L191.7,201.0 L192.2,199.6 L192.6,198.1 L193.1,196.7 L193.6,195.3 L194.1,193.9 L194.6,192.5 L195.1,191.1 L195.6,189.7 L196.1,188.3 L196.7,186.9 L197.2,185.5 L197.7,184.1 L198.2,182.7 L198.8,181.3 L199.3,179.9 L199.9,178.5 L200.4,177.1 L201.0,175.7 L201.5,174.3 L202.1,172.9 L202.7,171.6 L203.2,170.2 L203.8,168.8 L204.4,167.4 L205.0,166.0 L205.6,164.6 L206.2,163.2 L206.8,161.8 L207.4,160.4 L208.0,159.1 L208.7,157.7 L209.3,156.3 L209.9,154.9 L210.6,153.5 L211.2,152.2 L211.9,150.8 L212.5,149.4 L213.2,148.0 L213.9,146.6 L214.6,145.3 L215.2,143.9 L215.9,142.5 L216.6,141.1 L217.3,139.8 L218.1,138.4 L218.8,137.0 L219.5,135.6 L220.2,134.3 L221.0,132.9 L221.7,131.5 L222.5,130.2 L223.2,128.8 L224.0,127.4 L224.8,126.1 L225.6,124.7 L226.4,123.3 L227.2,122.0 L228.0,120.6 L228.8,119.3 L229.6,118.0 L230.5,116.7 L231.3,115.4 L232.2,114.1 L233.1,112.9 L234.0,111.7 L234.9,110.5 L235.8,109.3 L236.8,108.2 L237.7,107.1 L238.7,106.1 L239.7,105.1 L240.7,104.1 L241.8,103.2 L242.8,102.4 L243.9,101.6 L245.0,100.8 L246.1,100.1 L247.3,99.5 L248.5,98.9 L249.7,98.4 L250.9,98.0 L252.1,97.6 L253.4,97.3 L254.7,97.1 L256.1,97.0 L257.4,96.9 L258.8,96.9 L260.3,97.1 L261.7,97.3 L263.2,97.5 L264.7,97.9 L266.1,98.3 L267.6,98.8 L269.1,99.4 L270.5,100.0 L272.0,100.7 L273.4,101.5 L274.7,102.3 L276.0,103.2 L277.3,104.2 L278.6,105.2 L279.7,106.2 L280.9,107.3 L282.0,108.4 L283.1,109.5 L284.1,110.7 L285.1,111.8 L286.0,113.0 L286.9,114.3 L287.8,115.5 L288.6,116.8 L289.4,118.0 L290.2,119.3 L290.9,120.7 L291.6,122.0 L292.3,123.3 L293.0,124.7 L293.6,126.0 L294.2,127.4 L294.9,128.8 L295.4,130.2 L296.0,131.6 L296.6,133.0 L297.2,134.4 L297.7,135.8 L298.3,137.2 L298.8,138.6 L299.4,140.0 L299.9,141.4 L300.4,142.8 L301.0,144.2 L301.5,145.6 L302.0,147.0 L302.5,148.4 L303.0,149.9 L303.6,151.3 L304.1,152.7 L304.6,154.1 L305.1,155.5 L305.6,156.9 L306.1,158.3 L306.6,159.8 L307.0,161.2 L307.5,162.6 L308.0,164.0 L308.5,165.4 L309.0,166.9 L309.4,168.3 L309.9,169.7 L310.4,171.1 L310.8,172.5 L311.3,174.0 L311.7,175.4 L312.2,176.8 L312.6,178.2 L313.1,179.7 L313.5,181.1 L314.0,182.5 L314.4,184.0 L314.9,185.4 L315.3,186.8 L315.7,188.2 L316.2,189.7 L316.6,191.1 L317.0,192.5 L317.5,194.0 L317.9,195.4 L318.3,196.8 L318.7,198.3 L319.2,199.7 L319.6,201.1 L320.0,202.6 L320.4,204.0 L320.8,205.5 L321.2,206.9 L321.7,208.3 L322.1,209.8 L322.5,211.2 L322.9,212.6 L323.3,214.1 L323.7,215.5 L324.1,217.0 L324.5,218.4 L324.9,219.8 L325.3,221.3 L325.7,222.7 L326.1,224.2 L326.5,225.6 L326.9,227.1 L327.3,228.5 L327.7,229.9 L328.1,231.4 L328.5,232.8 L328.9,234.3 L329.3,235.7 L329.7,237.2 L330.0,238.6 L330.4,240.1 L330.8,241.5 L331.2,243.0 L331.6,244.4 L332.0,245.8 L332.4,247.3 L332.7,248.7 L333.1,250.2 L333.5,251.6 L333.9,253.1 L334.3,254.5 L334.6,256.0 L335.0,257.4 L335.4,258.9 L335.8,260.3 L336.1,261.8 L336.5,263.2 L336.9,264.7 L337.3,266.1 L337.6,267.6 L338.0,269.0 L338.4,270.5 L338.8,271.9 L339.1,273.4 L339.5,274.8 L339.9,276.3 L340.2,277.8 L340.6,279.2 L341.0,280.7 L341.3,282.1 L341.7,283.6 L342.1,285.0 L342.4,286.5 L342.8,287.9 L343.2,289.4 L343.6,290.8 L343.9,292.3 L344.3,293.7 L344.7,295.2 L345.0,296.7 L345.4,298.1 L345.7,299.6 L346.1,301.0 L346.5,302.5 L346.8,303.9 L347.2,305.4 L347.6,306.8 L347.9,308.3 L348.3,309.7 L348.7,311.2 L349.0,312.7 L349.4,314.1 L349.8,315.6 L350.1,317.0 L350.5,318.5 L350.9,319.9 L351.2,321.4 L351.6,322.9 L352.0,324.3 L352.3,325.8 L352.7,327.2 L353.1,328.7 L353.4,330.1 L353.8,331.6 L354.2,333.0 L354.5,334.5 L354.9,336.0 L355.3,337.4 L355.7,338.9 L356.0,340.3 L356.4,341.8 L356.8,343.2 L357.1,344.7 L357.5,346.1 L357.9,347.6 L358.3,349.1 L358.6,350.5 L359.0,352.0 L359.4,353.4 L359.7,354.9 L360.1,356.3 L360.5,357.8 L360.9,359.2 L361.3,360.7 L361.6,362.1 L362.0,363.6 L362.4,365.1 L362.8,366.5 L363.2,368.0 L363.5,369.4 L363.9,370.9 L364.3,372.3 L364.7,373.8 L365.1,375.2 L365.5,376.7 L365.9,378.1 L366.2,379.6 L366.6,381.0 L367.0,382.5 L367.4,383.9 L367.8,385.4 L368.2,386.8 L368.6,388.3 L369.0,389.7 L369.4,391.2 L369.8,392.6 L370.2,394.1 L370.6,395.5 L371.0,397.0 L371.4,398.4 L371.8,399.9 L372.2,401.3 L372.6,402.8 L373.0,404.2 L373.4,405.7 L373.9,407.1 L374.3,408.5 L374.7,410.0 L375.1,411.4 L375.5,412.9 L376.0,414.3 L376.4,415.7 L376.8,417.2 L377.3,418.6 L377.7,420.0 L378.2,421.5 L378.6,422.9 L379.1,424.3 L379.5,425.8 L380.0,427.2 L380.5,428.6 L380.9,430.0 L381.4,431.5 L381.9,432.9 L382.4,434.3 L382.9,435.7 L383.4,437.1 L383.8,438.5 L384.4,439.9 L384.9,441.3 L385.4,442.7 L385.9,444.1 L386.4,445.5 L386.9,446.9 L387.5,448.3 L388.0,449.7 L388.6,451.1 L389.1,452.5 L389.7,453.9 L390.2,455.2 L390.8,456.6 L391.4,458.0 L392.0,459.4 L392.6,460.7 L393.1,462.1 L393.7,463.5 L394.4,464.8 L395.0,466.2 L395.6,467.5 L396.2,468.9 L396.9,470.2 L397.5,471.6 L398.2,472.9 L398.8,474.2 L399.5,475.6 L400.2,476.9 L400.9,478.2 L401.6,479.5 L402.3,480.8 L403.0,482.2 L403.7,483.5 L404.4,484.8 L405.2,486.1 L405.9,487.4 L406.7,488.6 L407.4,489.9 L408.2,491.2 L409.0,492.5 L409.8,493.8 L410.6,495.0 L411.4,496.3 L412.2,497.6 L413.0,498.8 L413.9,500.1 L414.7,501.3 L415.6,502.6 L416.4,503.8 L417.3,505.0 L418.2,506.2 L419.1,507.5 L420.0,508.7 L420.9,509.9 L421.9,511.1 L422.8,512.3 L423.8,513.5 L424.7,514.7 L425.0,515.0" stroke="#b0bcff" stroke-width="2.25"/>
<path d="M111.9,515.0 L113.1,514.1 L114.2,513.1 L115.3,512.2 L116.4,511.2 L117.5,510.2 L118.6,509.2 L119.7,508.1 L120.7,507.1 L121.7,506.0 L122.7,504.9 L123.7,503.7 L124.7,502.6 L125.6,501.4 L126.5,500.3 L127.5,499.1 L128.4,497.9 L129.3,496.6 L130.1,495.4 L131.0,494.2 L131.8,492.9 L132.7,491.6 L133.5,490.4 L134.3,489.1 L135.1,487.8 L135.8,486.5 L136.6,485.2 L137.3,483.8 L138.1,482.5 L138.8,481.2 L139.5,479.8 L140.2,478.5 L140.9,477.2 L141.5,475.8 L142.2,474.4 L142.8,473.1 L143.4,471.7 L144.1,470.4 L144.7,469.0 L145.3,467.6 L145.9,466.2 L146.5,464.9 L147.0,463.5 L147.6,462.1 L148.2,460.7 L148.7,459.3 L149.3,457.9 L149.8,456.5 L150.4,455.2 L150.9,453.8 L151.4,452.4 L151.9,451.0 L152.5,449.6 L153.0,448.1 L153.5,446.7 L154.0,445.3 L154.5,443.9 L155.0,442.5 L155.5,441.1 L156.0,439.7 L156.5,438.3 L157.0,436.9 L157.5,435.5 L158.0,434.1 L158.5,432.7 L158.9,431.2 L159.4,429.8 L159.9,428.4 L160.4,427.0 L160.9,425.6 L161.3,424.2 L161.8,422.7 L162.3,421.3 L162.8,419.9 L163.2,418.5 L163.7,417.1 L164.2,415.6 L164.6,414.2 L165.1,412.8 L165.5,411.4 L166.0,409.9 L166.4,408.5 L166.9,407.1 L167.3,405.7 L167.8,404.2 L168.2,402.8 L168.7,401.4 L169.1,399.9 L169.6,398.5 L170.0,397.1 L170.5,395.6 L170.9,394.2 L171.3,392.8 L171.8,391.3 L172.2,389.9 L172.6,388.5 L173.1,387.0 L173.5,385.6 L173.9,384.2 L174.3,382.7 L174.8,381.3 L175.2,379.9 L175.6,378.4 L176.0,377.0 L176.5,375.5 L176.9,374.1 L177.3,372.7 L177.7,371.2 L178.1,369.8 L178.5,368.3 L179.0,366.9 L179.4,365.5 L179.8,364.0 L180.2,362.6 L180.6,361.1 L181.0,359.7 L181.4,358.2 L181.8,356.8 L182.2,355.4 L182.7,353.9 L183.1,352.5 L183.5,351.0 L183.9,349.6 L184.3,348.1 L184.7,346.7 L185.1,345.2 L185.5,343.8 L185.9,342.3 L186.3,340.9 L186.7,339.4 L187.1,338.0 L187.5,336.6 L187.9,335.1 L188.3,333.7 L188.7,332.2 L189.1,330.8 L189.5,329.3 L189.9,327.9 L190.3,326.4 L190.7,325.0 L191.1,323.5 L191.5,322.1 L191.9,320.6 L192.3,319.2 L192.7,317.7 L193.1,316.3 L193.5,314.8 L193.9,313.4 L194.3,311.9 L194.6,310.5 L195.0,309.0 L195.4,307.6 L195.8,306.1 L196.2,304.7 L196.6,303.2 L197.0,301.8 L197.4,300.3 L197.8,298.9 L198.2,297.4 L198.6,296.0 L199.0,294.6 L199.4,293.1 L199.8,291.7 L200.2,290.2 L200.6,288.8 L201.0,287.3 L201.4,285.9 L201.8,284.4 L202.2,283.0 L202.7,281.5 L203.1,280.1 L203.5,278.6 L203.9,277.2 L204.3,275.7 L204.7,274.3 L205.1,272.9 L205.5,271.4 L205.9,270.0 L206.3,268.5 L206.7,267.1 L207.1,265.6 L207.6,264.2 L208.0,262.7 L208.4,261.3 L208.8,259.9 L209.2,258.4 L209.6,257.0 L210.1,255.5 L210.5,254.1 L210.9,252.7 L211.3,251.2 L211.8,249.8 L212.2,248.3 L212.6,246.9 L213.0,245.5 L213.5,244.0 L213.9,242.6 L214.3,241.2 L214.8,239.7 L215.2,238.3 L215.6,236.8 L216.1,235.4 L216.5,234.0 L217.0,232.5 L217.4,231.1 L217.8,229.7 L218.3,228.2 L218.7,226.8 L219.2,225.4 L219.6,224.0 L220.1,222.5 L220.5,221.1 L221.0,219.7 L221.4,218.2 L221.9,216.8 L222.4,215.4 L222.8,214.0 L223.3,212.5 L223.8,211.1 L224.2,209.7 L224.7,208.3 L225.2,206.8 L225.7,205.4 L226.1,204.0 L226.6,202.6 L227.1,201.2 L227.6,199.7 L228.1,198.3 L228.5,196.9 L229.0,195.5 L229.5,194.1 L230.0,192.7 L230.5,191.2 L231.0,189.8 L231.5,188.4 L232.0,187.0 L232.5,185.6 L233.0,184.2 L233.5,182.8 L234.1,181.4 L234.6,180.0 L235.1,178.6 L235.6,177.2 L236.1,175.8 L236.7,174.4 L237.2,173.0 L237.7,171.6 L238.3,170.2 L238.8,168.8 L239.4,167.4 L239.9,166.0 L240.5,164.6 L241.0,163.2 L241.6,161.8 L242.2,160.4 L242.7,159.0 L243.3,157.7 L243.9,156.3 L244.5,154.9 L245.1,153.5 L245.7,152.2 L246.3,150.8 L246.9,149.4 L247.5,148.1 L248.2,146.7 L248.8,145.4 L249.5,144.0 L250.1,142.7 L250.8,141.3 L251.4,140.0 L252.1,138.6 L252.8,137.3 L253.5,136.0 L254.2,134.6 L254.9,133.3 L255.6,132.0 L256.4,130.7 L257.1,129.4 L257.8,128.1 L258.6,126.8 L259.4,125.5 L260.2,124.2 L260.9,122.9 L261.7,121.6 L262.6,120.3 L263.4,119.1 L264.2,117.8 L265.1,116.5 L265.9,115.3 L266.8,114.0 L267.7,112.8 L268.6,111.5 L269.5,110.3 L270.4,109.1 L271.4,108.0 L272.4,106.8 L273.4,105.7 L274.4,104.7 L275.5,103.7 L276.6,102.7 L277.7,101.8 L278.9,100.9 L280.1,100.1 L281.4,99.4 L282.7,98.8 L284.1,98.2 L285.5,97.7 L286.9,97.3 L288.4,97.0 L289.9,96.8 L291.4,96.6 L292.9,96.6 L294.4,96.6 L295.9,96.7 L297.4,96.9 L298.9,97.2 L300.3,97.5 L301.8,97.9 L303.2,98.4 L304.6,99.0 L306.0,99.6 L307.3,100.2 L308.7,100.9 L310.0,101.7 L311.3,102.5 L312.5,103.4 L313.8,104.3 L315.0,105.2 L316.2,106.2 L317.4,107.2 L318.5,108.2 L319.6,109.3 L320.7,110.4 L321.7,111.5 L322.8,112.6 L323.7,113.7 L324.7,114.9 L325.6,116.0 L326.6,117.2 L327.4,118.4 L328.3,119.6 L329.2,120.8 L330.0,122.1 L330.8,123.3 L331.6,124.6 L332.3,125.9 L333.1,127.1 L333.8,128.4 L334.5,129.7 L335.3,131.0 L336.0,132.3 L336.7,133.7 L337.3,135.0 L338.0,136.3 L338.7,137.6 L339.3,139.0 L340.0,140.3 L340.6,141.7 L341.3,143.0 L341.9,144.3 L342.6,145.7 L343.2,147.0 L343.9,148.4 L344.5,149.7 L345.2,151.1 L345.8,152.4 L346.5,153.8 L347.1,155.1 L347.8,156.5 L348.4,157.8 L349.1,159.2 L349.7,160.5 L350.4,161.9 L351.0,163.2 L351.7,164.6 L352.3,165.9 L353.0,167.3 L353.6,168.6 L354.3,170.0 L354.9,171.3 L355.6,172.7 L356.2,174.0 L356.9,175.4 L357.6,176.7 L358.2,178.1 L358.9,179.4 L359.5,180.8 L360.2,182.1 L360.8,183.5 L361.5,184.8 L362.1,186.2 L362.8,187.5 L363.5,188.8 L364.1,190.2 L364.8,191.5 L365.4,192.9 L366.1,194.2 L366.8,195.6 L367.4,196.9 L368.1,198.3 L368.8,199.6 L369.4,201.0 L370.1,202.3 L370.8,203.7 L371.4,205.0 L372.1,206.3 L372.8,207.7 L373.4,209.0 L374.1,210.4 L374.8,211.7 L375.5,213.1 L376.1,214.4 L376.8,215.7 L377.5,217.1 L378.2,218.4 L378.9,219.7 L379.6,221.1 L380.2,222.4 L380.9,223.7 L381.6,225.1 L382.3,226.4 L383.0,227.7 L383.7,229.1 L384.4,230.4 L385.1,231.7 L385.8,233.1 L386.5,234.4 L387.2,235.7 L387.9,237.0 L388.6,238.4 L389.3,239.7 L390.0,241.0 L390.7,242.3 L391.4,243.7 L392.2,245.0 L392.9,246.3 L393.6,247.6 L394.3,248.9 L395.0,250.2 L395.8,251.5 L396.5,252.9 L397.2,254.2 L398.0,255.5 L398.7,256.8 L399.4,258.1 L400.2,259.4 L400.9,260.7 L401.6,262.0 L402.4,263.3 L403.1,264.6 L403.9,265.9 L404.6,267.2 L405.4,268.5 L406.2,269.8 L406.9,271.1 L407.7,272.4 L408.4,273.7 L409.2,274.9 L410.0,276.2 L410.8,277.5 L411.5,278.8 L412.3,280.1 L413.1,281.3 L413.9,282.6 L414.7,283.9 L415.5,285.2 L416.3,286.4 L417.0,287.7 L417.8,289.0 L418.6,290.2 L419.5,291.5 L420.3,292.8 L421.1,294.0 L421.9,295.3 L422.7,296.5 L423.5,297.8 L424.3,299.0 L425.2,300.3 L426.0,301.5 L426.8,302.8 L427.7,304.0 L428.5,305.3 L429.4,306.5 L430.2,307.7 L431.1,309.0 L431.9,310.2 L432.8,311.4 L433.6,312.7 L434.5,313.9 L435.4,315.1 L436.2,316.3 L437.1,317.6 L438.0,318.8 L438.9,320.0 L439.7,321.2 L440.6,322.4 L441.5,323.6 L442.4,324.8 L443.3,326.0 L444.2,327.2 L445.1,328.4 L446.1,329.6 L447.0,330.8 L447.9,332.0 L448.8,333.2 L449.7,334.4 L450.6,335.6 L451.6,336.7 L452.5,337.9 L453.4,339.1 L454.3,340.3 L455.3,341.5 L456.2,342.7 L457.1,343.8 L458.1,345.0 L459.0,346.2 L459.9,347.4 L460.8,348.6 L461.8,349.8 L462.7,350.9 L463.6,352.1 L464.5,353.3 L465.5,354.5 L466.4,355.7 L467.3,356.9 L468.2,358.1 L469.1,359.3 L470.0,360.5 L470.9,361.7 L471.8,362.9 L472.7,364.1 L473.6,365.3 L474.5,366.5 L475.3,367.7 L476.2,368.9 L477.1,370.1 L477.9,371.4 L478.8,372.6 L479.6,373.8 L480.5,375.1 L481.3,376.3 L482.2,377.5 L483.0,378.8 L483.8,380.0 L484.7,381.3 L485.5,382.5 L486.3,383.8 L487.2,385.0 L488.0,386.2 L488.9,387.5 L489.7,388.7 L490.6,389.9 L491.5,391.1 L492.4,392.4 L493.3,393.6 L494.2,394.7 L495.1,395.9 L496.0,397.1 L497.0,398.3 L498.0,399.4 L499.0,400.5 L500.0,401.6 L501.0,402.7 L502.0,403.8 L503.1,404.9 L504.2,405.9 L505.3,406.9 L506.4,407.9 L507.5,408.8 L508.7,409.8 L509.9,410.7 L511.1,411.6 L512.3,412.5 L513.5,413.4 L514.8,414.2 L516.0,415.1 L517.2,416.0 L518.4,416.8 L519.7,417.7 L520.9,418.5 L522.1,419.4 L523.3,420.3 L524.6,421.1 L525.8,422.0 L527.0,422.9 L528.2,423.7 L529.4,424.6 L530.6,425.5 L531.8,426.4 L533.0,427.3 L534.2,428.2 L535.4,429.1 L536.6,430.0 L537.8,430.9 L539.0,431.8 L540.2,432.8 L541.3,433.7 L542.5,434.7 L543.7,435.6 L544.8,436.6 L546.0,437.5 L547.2,438.5 L548.4,439.4 L549.5,440.3 L550.7,441.3 L551.9,442.2 L553.1,443.1 L554.3,444.0 L555.5,444.8 L556.8,445.7 L558.0,446.6 L559.2,447.4 L560.5,448.2 L561.8,449.0 L563.0,449.8 L564.3,450.5 L565.6,451.3 L566.9,452.0 L568.2,452.8 L569.5,453.5 L570.8,454.2 L572.1,454.9 L573.4,455.6 L574.8,456.3 L576.1,456.9 L577.4,457.6 L578.8,458.2 L580.1,458.9 L581.5,459.5 L582.8,460.2 L584.2,460.8 L585.6,461.5 L586.9,462.1 L588.3,462.7 L589.7,463.3 L591.0,464.0 L592.4,464.6 L593.8,465.2 L595.1,465.8 L596.5,466.4 L597.9,467.1 L599.2,467.7 L600.6,468.3 L602.0,469.0 L603.3,469.6 L604.7,470.2 L606.0,470.9 L607.4,471.5 L608.8,472.2 L610.1,472.8 L611.5,473.5 L612.8,474.1 L614.2,474.8 L615.5,475.4 L616.9,476.1 L618.2,476.7 L619.6,477.4 L621.0,478.0 L622.3,478.6 L623.7,479.3 L625.0,479.9 L626.4,480.5 L627.8,481.2 L629.1,481.8 L630.5,482.4 L631.8,483.0 L633.2,483.6 L634.6,484.2 L636.0,484.8 L637.3,485.4 L638.7,485.9 L640.1,486.5 L641.5,487.0 L642.9,487.6 L644.3,488.1 L645.7,488.6 L647.1,489.2 L648.5,489.7 L649.9,490.1 L651.3,490.6 L652.7,491.1 L654.1,491.5 L655.6,492.0 L657.0,492.4 L658.4,492.8 L659.9,493.2 L661.3,493.6 L662.7,494.0 L664.2,494.4 L665.6,494.8 L667.1,495.2 L668.5,495.6 L669.9,496.0 L671.4,496.4 L672.8,496.8 L674.3,497.2 L675.7,497.6 L677.1,498.0 L678.5,498.5 L680.0,498.9 L681.4,499.4 L682.8,499.9 L684.2,500.4 L685.6,501.0 L687.0,501.5 L688.4,502.1 L689.7,502.7 L691.1,503.3 L692.4,504.0 L693.8,504.7 L695.1,505.4 L696.4,506.1 L697.7,506.9 L699.0,507.8 L700.3,508.6 L701.0,509.1" stroke="#4d62ff" stroke-width="2.3"/>
<path d="M76.9,511.2 L78.4,511.0 L79.9,510.9 L81.4,510.9 L82.9,510.9 L84.4,511.1 L85.9,511.3 L87.4,511.6 L88.8,511.9 L90.3,512.3 L91.7,512.8 L93.1,513.3 L94.5,513.9 L95.8,514.5 L96.2,514.8 M125.6,515.0 L127.0,514.3 L128.4,513.6 L129.7,512.9 L131.1,512.1 L132.4,511.4 L133.7,510.6 L134.9,509.7 L136.2,508.9 L137.4,508.0 L138.6,507.2 L139.8,506.3 L141.0,505.3 L142.1,504.4 L143.2,503.4 L144.3,502.4 L145.4,501.4 L146.5,500.4 L147.5,499.4 L148.6,498.4 L149.6,497.3 L150.6,496.2 L151.6,495.1 L152.5,494.0 L153.5,492.9 L154.4,491.8 L155.4,490.6 L156.3,489.4 L157.2,488.3 L158.1,487.1 L159.0,485.9 L159.8,484.7 L160.7,483.5 L161.5,482.3 L162.4,481.0 L163.2,479.8 L164.0,478.5 L164.8,477.3 L165.6,476.0 L166.4,474.8 L167.2,473.5 L168.0,472.2 L168.7,470.9 L169.5,469.6 L170.3,468.3 L171.0,467.1 L171.8,465.8 L172.5,464.5 L173.3,463.2 L174.0,461.9 L174.7,460.5 L175.5,459.2 L176.2,457.9 L176.9,456.6 L177.6,455.3 L178.3,454.0 L179.1,452.7 L179.8,451.3 L180.5,450.0 L181.2,448.7 L181.9,447.4 L182.6,446.0 L183.2,444.7 L183.9,443.4 L184.6,442.0 L185.3,440.7 L186.0,439.4 L186.6,438.0 L187.3,436.7 L188.0,435.4 L188.6,434.0 L189.3,432.7 L189.9,431.3 L190.6,430.0 L191.2,428.6 L191.9,427.3 L192.5,425.9 L193.1,424.5 L193.8,423.2 L194.4,421.8 L195.0,420.5 L195.7,419.1 L196.3,417.7 L196.9,416.4 L197.5,415.0 L198.1,413.6 L198.7,412.3 L199.3,410.9 L199.9,409.5 L200.5,408.1 L201.1,406.8 L201.7,405.4 L202.3,404.0 L202.9,402.6 L203.5,401.3 L204.1,399.9 L204.7,398.5 L205.3,397.1 L205.8,395.7 L206.4,394.3 L207.0,392.9 L207.6,391.6 L208.1,390.2 L208.7,388.8 L209.3,387.4 L209.8,386.0 L210.4,384.6 L210.9,383.2 L211.5,381.8 L212.0,380.4 L212.6,379.0 L213.2,377.6 L213.7,376.2 L214.2,374.8 L214.8,373.4 L215.3,372.0 L215.9,370.6 L216.4,369.2 L216.9,367.8 L217.5,366.4 L218.0,365.0 L218.5,363.6 L219.1,362.2 L219.6,360.7 L220.1,359.3 L220.7,357.9 L221.2,356.5 L221.7,355.1 L222.2,353.7 L222.7,352.3 L223.3,350.9 L223.8,349.5 L224.3,348.0 L224.8,346.6 L225.3,345.2 L225.8,343.8 L226.3,342.4 L226.9,341.0 L227.4,339.5 L227.9,338.1 L228.4,336.7 L228.9,335.3 L229.4,333.9 L229.9,332.5 L230.4,331.0 L230.9,329.6 L231.4,328.2 L231.9,326.8 L232.4,325.4 L232.9,323.9 L233.4,322.5 L233.9,321.1 L234.4,319.7 L234.9,318.3 L235.4,316.8 L235.9,315.4 L236.4,314.0 L236.9,312.6 L237.4,311.1 L237.9,309.7 L238.3,308.3 L238.8,306.9 L239.3,305.5 L239.8,304.0 L240.3,302.6 L240.8,301.2 L241.3,299.8 L241.8,298.3 L242.3,296.9 L242.8,295.5 L243.3,294.1 L243.8,292.7 L244.2,291.2 L244.7,289.8 L245.2,288.4 L245.7,287.0 L246.2,285.5 L246.7,284.1 L247.2,282.7 L247.7,281.3 L248.2,279.9 L248.7,278.4 L249.2,277.0 L249.7,275.6 L250.2,274.2 L250.7,272.8 L251.2,271.3 L251.6,269.9 L252.1,268.5 L252.6,267.1 L253.1,265.7 L253.6,264.3 L254.1,262.8 L254.6,261.4 L255.1,260.0 L255.6,258.6 L256.1,257.2 L256.6,255.8 L257.2,254.3 L257.7,252.9 L258.2,251.5 L258.7,250.1 L259.2,248.7 L259.7,247.3 L260.2,245.9 L260.7,244.5 L261.2,243.0 L261.7,241.6 L262.3,240.2 L262.8,238.8 L263.3,237.4 L263.8,236.0 L264.3,234.6 L264.8,233.2 L265.4,231.8 L265.9,230.4 L266.4,229.0 L267.0,227.6 L267.5,226.2 L268.0,224.8 L268.5,223.4 L269.1,222.0 L269.6,220.6 L270.2,219.2 L270.7,217.8 L271.2,216.4 L271.8,215.0 L272.3,213.6 L272.9,212.2 L273.4,210.8 L274.0,209.4 L274.5,208.0 L275.1,206.6 L275.6,205.2 L276.2,203.8 L276.8,202.5 L277.3,201.1 L277.9,199.7 L278.5,198.3 L279.0,196.9 L279.6,195.5 L280.2,194.1 L280.7,192.8 L281.3,191.4 L281.9,190.0 L282.5,188.6 L283.1,187.3 L283.7,185.9 L284.3,184.5 L284.9,183.1 L285.5,181.8 L286.1,180.4 L286.7,179.0 L287.3,177.7 L287.9,176.3 L288.5,174.9 L289.1,173.6 L289.7,172.2 L290.3,170.8 L291.0,169.5 L291.6,168.1 L292.2,166.8 L292.8,165.4 L293.5,164.1 L294.1,162.7 L294.7,161.4 L295.4,160.0 L296.0,158.7 L296.7,157.3 L297.3,156.0 L298.0,154.6 L298.7,153.3 L299.3,151.9 L300.0,150.6 L300.7,149.3 L301.3,147.9 L302.0,146.6 L302.7,145.2 L303.4,143.9 L304.1,142.6 L304.8,141.3 L305.5,139.9 L306.2,138.6 L306.9,137.3 L307.6,136.0 L308.3,134.7 L309.1,133.4 L309.8,132.1 L310.6,130.9 L311.4,129.6 L312.2,128.3 L313.0,127.1 L313.8,125.9 L314.6,124.6 L315.4,123.4 L316.3,122.2 L317.2,121.0 L318.0,119.9 L318.9,118.7 L319.9,117.6 L320.8,116.4 L321.8,115.3 L322.7,114.2 L323.7,113.1 L324.8,112.1 L325.8,111.0 L326.9,110.0 L327.9,109.0 L329.0,108.0 L330.2,107.1 L331.3,106.1 L332.5,105.2 L333.7,104.3 L335.0,103.5 L336.2,102.6 L337.5,101.8 L338.8,101.0 L340.2,100.2 L341.6,99.5 L342.5,99.0 L365.0,99.0 L366.3,99.9 L367.5,100.8 L368.8,101.7 L370.0,102.6 L371.2,103.5 L372.5,104.4 L373.7,105.4 L374.8,106.3 L376.0,107.3 L377.2,108.2 L378.3,109.2 L379.5,110.2 L380.6,111.2 L381.7,112.2 L382.8,113.2 L383.9,114.2 L385.0,115.3 L386.1,116.3 L387.2,117.3 L388.2,118.4 L389.3,119.5 L390.3,120.5 L391.3,121.6 L392.4,122.7 L393.4,123.8 L394.4,124.9 L395.4,126.0 L396.3,127.1 L397.3,128.2 L398.3,129.4 L399.2,130.5 L400.2,131.6 L401.1,132.8 L402.0,133.9 L402.9,135.1 L403.8,136.3 L404.7,137.4 L405.6,138.6 L406.5,139.8 L407.4,141.0 L408.2,142.2 L409.1,143.4 L409.9,144.6 L410.8,145.9 L411.6,147.1 L412.5,148.3 L413.3,149.5 L414.1,150.8 L414.9,152.0 L415.7,153.3 L416.5,154.5 L417.3,155.8 L418.1,157.1 L418.8,158.3 L419.6,159.6 L420.4,160.9 L421.1,162.2 L421.9,163.4 L422.6,164.7 L423.3,166.0 L424.1,167.3 L424.8,168.6 L425.5,169.9 L426.2,171.2 L426.9,172.6 L427.6,173.9 L428.3,175.2 L429.0,176.5 L429.7,177.8 L430.4,179.2 L431.1,180.5 L431.8,181.8 L432.4,183.2 L433.1,184.5 L433.8,185.9 L434.4,187.2 L435.1,188.6 L435.7,189.9 L436.4,191.3 L437.0,192.6 L437.7,194.0 L438.3,195.3 L439.0,196.7 L439.6,198.0 L440.2,199.4 L440.8,200.8 L441.5,202.1 L442.1,203.5 L442.7,204.9 L443.3,206.2 L443.9,207.6 L444.6,209.0 L445.2,210.3 L445.8,211.7 L446.4,213.1 L447.0,214.5 L447.6,215.8 L448.2,217.2 L448.8,218.6 L449.4,220.0 L450.0,221.3 L450.6,222.7 L451.2,224.1 L451.7,225.5 L452.3,226.9 L452.9,228.2 L453.5,229.6 L454.1,231.0 L454.7,232.4 L455.2,233.8 L455.8,235.2 L456.4,236.5 L457.0,237.9 L457.6,239.3 L458.1,240.7 L458.7,242.1 L459.3,243.5 L459.8,244.9 L460.4,246.2 L461.0,247.6 L461.5,249.0 L462.1,250.4 L462.7,251.8 L463.2,253.2 L463.8,254.6 L464.4,256.0 L464.9,257.4 L465.5,258.8 L466.0,260.2 L466.6,261.6 L467.1,262.9 L467.7,264.3 L468.3,265.7 L468.8,267.1 L469.4,268.5 L469.9,269.9 L470.5,271.3 L471.0,272.7 L471.6,274.1 L472.2,275.5 L472.7,276.9 L473.3,278.3 L473.8,279.7 L474.4,281.1 L474.9,282.5 L475.5,283.9 L476.0,285.3 L476.6,286.6 L477.1,288.0 L477.7,289.4 L478.3,290.8 L478.8,292.2 L479.4,293.6 L479.9,295.0 L480.5,296.4 L481.0,297.8 L481.6,299.2 L482.2,300.6 L482.7,302.0 L483.3,303.4 L483.8,304.8 L484.4,306.2 L485.0,307.5 L485.5,308.9 L486.1,310.3 L486.7,311.7 L487.2,313.1 L487.8,314.5 L488.4,315.9 L488.9,317.3 L489.5,318.7 L490.1,320.1 L490.7,321.4 L491.2,322.8 L491.8,324.2 L492.4,325.6 L493.0,327.0 L493.5,328.4 L494.1,329.8 L494.7,331.1 L495.3,332.5 L495.9,333.9 L496.5,335.3 L497.1,336.7 L497.7,338.1 L498.2,339.4 L498.8,340.8 L499.4,342.2 L500.0,343.6 L500.6,344.9 L501.2,346.3 L501.8,347.7 L502.5,349.1 L503.1,350.4 L503.7,351.8 L504.3,353.2 L504.9,354.6 L505.5,355.9 L506.2,357.3 L506.8,358.7 L507.4,360.0 L508.0,361.4 L508.7,362.8 L509.3,364.1 L509.9,365.5 L510.6,366.8 L511.2,368.2 L511.9,369.6 L512.5,370.9 L513.2,372.3 L513.8,373.6 L514.5,375.0 L515.1,376.3 L515.8,377.7 L516.5,379.0 L517.1,380.4 L517.8,381.7 L518.5,383.1 L519.2,384.4 L519.8,385.8 L520.5,387.1 L521.2,388.5 L521.9,389.8 L522.6,391.1 L523.3,392.5 L524.0,393.8 L524.7,395.2 L525.4,396.5 L526.1,397.8 L526.8,399.1 L527.6,400.5 L528.3,401.8 L529.0,403.1 L529.8,404.4 L530.5,405.8 L531.2,407.1 L532.0,408.4 L532.7,409.7 L533.5,411.0 L534.2,412.3 L535.0,413.6 L535.8,414.9 L536.5,416.2 L537.3,417.5 L538.1,418.8 L538.9,420.1 L539.6,421.4 L540.4,422.7 L541.2,423.9 L542.0,425.2 L542.8,426.5 L543.6,427.8 L544.5,429.0 L545.3,430.3 L546.1,431.5 L546.9,432.8 L547.8,434.0 L548.6,435.3 L549.4,436.5 L550.3,437.8 L551.1,439.0 L552.0,440.2 L552.9,441.5 L553.7,442.7 L554.6,443.9 L555.5,445.1 L556.4,446.3 L557.2,447.5 L558.1,448.7 L559.0,449.9 L559.9,451.1 L560.8,452.3 L561.8,453.5 L562.7,454.7 L563.6,455.8 L564.5,457.0 L565.5,458.1 L566.4,459.3 L567.4,460.5 L568.3,461.6 L569.3,462.7 L570.2,463.9 L571.2,465.0 L572.2,466.1 L573.2,467.2 L574.1,468.3 L575.1,469.4 L576.1,470.5 L577.1,471.6 L578.1,472.7 L579.2,473.8 L580.2,474.9 L581.2,475.9 L582.3,477.0 L583.3,478.0 L584.3,479.1 L585.4,480.1 L586.5,481.2 L587.5,482.2 L588.6,483.2 L589.7,484.2 L590.8,485.2 L591.9,486.2 L593.0,487.2 L594.1,488.2 L595.2,489.2 L596.3,490.2 L597.4,491.1 L598.6,492.1 L599.7,493.0 L600.8,494.0 L602.0,494.9 L603.2,495.8 L604.3,496.7 L605.5,497.6 L606.7,498.5 L607.9,499.4 L609.1,500.3 L610.3,501.2 L611.5,502.1 L612.7,502.9 L613.9,503.8 L615.1,504.6 L616.4,505.5 L617.6,506.3 L618.9,507.1 L620.1,507.9 L621.4,508.7 L622.7,509.5 L624.0,510.3 L625.3,511.1 L626.6,511.8 L627.9,512.6 L629.2,513.3 L630.5,514.1 L631.8,514.8 L632.2,515.0" stroke="#0000ff" stroke-width="2.45"/>
</g>
<g class="t" font-size="19" text-anchor="middle" fill="#000">
<text x="77.0" y="539.8">0</text>
<text x="155.0" y="539.8">10</text>
<text x="233.1" y="539.8">20</text>
<text x="311.1" y="539.8">30</text>
<text x="389.1" y="539.8">40</text>
<text x="467.1" y="539.8">50</text>
<text x="545.2" y="539.8">60</text>
<text x="623.2" y="539.8">70</text>
<text x="701.2" y="539.8">80</text>
</g>
<text x="389.1" y="575.7" font-size="23.8" class="t" text-anchor="middle">Ion energy [eV]</text>
<g class="t" font-size="19" text-anchor="end" fill="#000">
<text x="66.8" y="521.7">0.0</text>
<text x="66.8" y="438.0">0.2</text>
<text x="66.8" y="354.3">0.4</text>
<text x="66.8" y="270.6">0.6</text>
<text x="66.8" y="186.9">0.8</text>
<text x="66.8" y="103.2">1.0</text>
</g>
<text transform="translate(20,285.6) rotate(-90)" font-size="23.8" class="t" text-anchor="middle">Normalized IEDF [a.u.]</text>
<rect x="729.5" y="55.25" width="622.3" height="458.9" fill="none" stroke="#000" stroke-width="2.1"/>
<path d="M768.39,514.15 v-4.4 M768.39,55.25 v4.4 M807.29,514.15 v-8.8 M807.29,55.25 v8.8 M846.18,514.15 v-4.4 M846.18,55.25 v4.4 M885.08,514.15 v-8.8 M885.08,55.25 v8.8 M923.97,514.15 v-4.4 M923.97,55.25 v4.4 M962.86,514.15 v-8.8 M962.86,55.25 v8.8 M1001.76,514.15 v-4.4 M1001.76,55.25 v4.4 M1040.65,514.15 v-8.8 M1040.65,55.25 v8.8 M1079.54,514.15 v-4.4 M1079.54,55.25 v4.4 M1118.44,514.15 v-8.8 M1118.44,55.25 v8.8 M1157.33,514.15 v-4.4 M1157.33,55.25 v4.4 M1196.22,514.15 v-8.8 M1196.22,55.25 v8.8 M1235.12,514.15 v-4.4 M1235.12,55.25 v4.4 M1274.01,514.15 v-8.8 M1274.01,55.25 v8.8 M1312.91,514.15 v-4.4 M1312.91,55.25 v4.4 M729.5,497.46 h4.4 M729.5,480.78 h4.4 M729.5,464.09 h4.4 M729.5,447.40 h4.4 M729.5,430.71 h8.8 M729.5,414.03 h4.4 M729.5,397.34 h4.4 M729.5,380.65 h4.4 M729.5,363.96 h4.4 M729.5,347.28 h8.8 M729.5,330.59 h4.4 M729.5,313.90 h4.4 M729.5,297.22 h4.4 M729.5,280.53 h4.4 M729.5,263.84 h8.8 M729.5,247.15 h4.4 M729.5,230.47 h4.4 M729.5,213.78 h4.4 M729.5,197.09 h4.4 M729.5,180.40 h8.8 M729.5,163.72 h4.4 M729.5,147.03 h4.4 M729.5,130.34 h4.4 M729.5,113.66 h4.4 M729.5,96.97 h8.8 M729.5,80.28 h4.4 M729.5,63.59 h4.4" stroke="#000" stroke-width="2.1" fill="none"/>
<clipPath id="cp2"><rect x="728.5" y="54.25" width="624.3" height="460.9"/></clipPath>
<g clip-path="url(#cp2)" fill="none" stroke-linejoin="round" stroke-linecap="butt">
<path d="M732.5,513.3 L733.7,512.2 L734.8,511.2 L735.9,510.2 L737.0,509.1 L738.2,508.1 L739.3,507.0 L740.4,506.0 L741.4,504.9 L742.5,503.9 L743.6,502.8 L744.6,501.7 L745.7,500.6 L746.7,499.5 L747.7,498.4 L748.8,497.3 L749.8,496.2 L750.8,495.1 L751.8,493.9 L752.8,492.8 L753.7,491.7 L754.7,490.5 L755.7,489.4 L756.6,488.2 L757.5,487.1 L758.5,485.9 L759.4,484.7 L760.3,483.6 L761.2,482.4 L762.1,481.2 L763.0,480.0 L763.9,478.8 L764.8,477.6 L765.6,476.4 L766.5,475.2 L767.4,474.0 L768.2,472.8 L769.0,471.5 L769.9,470.3 L770.7,469.1 L771.5,467.8 L772.3,466.6 L773.1,465.3 L773.9,464.1 L774.7,462.8 L775.5,461.5 L776.2,460.3 L777.0,459.0 L777.8,457.7 L778.5,456.5 L779.3,455.2 L780.0,453.9 L780.7,452.6 L781.5,451.3 L782.2,450.0 L782.9,448.7 L783.6,447.4 L784.3,446.1 L785.0,444.7 L785.7,443.4 L786.3,442.1 L787.0,440.8 L787.7,439.4 L788.4,438.1 L789.0,436.8 L789.7,435.4 L790.3,434.1 L791.0,432.7 L791.6,431.4 L792.2,430.0 L792.8,428.7 L793.5,427.3 L794.1,425.9 L794.7,424.6 L795.3,423.2 L795.9,421.8 L796.5,420.5 L797.1,419.1 L797.6,417.7 L798.2,416.3 L798.8,414.9 L799.4,413.5 L799.9,412.1 L800.5,410.8 L801.0,409.4 L801.6,408.0 L802.1,406.6 L802.7,405.2 L803.2,403.7 L803.8,402.3 L804.3,400.9 L804.8,399.5 L805.3,398.1 L805.9,396.7 L806.4,395.3 L806.9,393.9 L807.4,392.4 L807.9,391.0 L808.4,389.6 L808.9,388.2 L809.4,386.7 L809.9,385.3 L810.4,383.9 L810.8,382.4 L811.3,381.0 L811.8,379.6 L812.3,378.1 L812.7,376.7 L813.2,375.3 L813.7,373.8 L814.1,372.4 L814.6,370.9 L815.1,369.5 L815.5,368.1 L816.0,366.6 L816.4,365.2 L816.9,363.7 L817.3,362.3 L817.8,360.8 L818.2,359.4 L818.6,357.9 L819.1,356.5 L819.5,355.0 L819.9,353.6 L820.4,352.1 L820.8,350.7 L821.2,349.2 L821.7,347.8 L822.1,346.3 L822.5,344.9 L822.9,343.4 L823.4,342.0 L823.8,340.5 L824.2,339.1 L824.6,337.6 L825.0,336.2 L825.4,334.7 L825.9,333.3 L826.3,331.8 L826.7,330.4 L827.1,328.9 L827.5,327.5 L827.9,326.0 L828.3,324.6 L828.7,323.1 L829.1,321.7 L829.5,320.2 L829.9,318.8 L830.3,317.3 L830.7,315.9 L831.1,314.4 L831.6,313.0 L832.0,311.6 L832.4,310.1 L832.8,308.7 L833.2,307.2 L833.6,305.8 L834.0,304.3 L834.4,302.9 L834.8,301.4 L835.2,300.0 L835.6,298.5 L835.9,297.1 L836.3,295.6 L836.7,294.2 L837.1,292.8 L837.5,291.3 L837.9,289.9 L838.3,288.4 L838.7,287.0 L839.1,285.5 L839.5,284.1 L839.9,282.7 L840.3,281.2 L840.7,279.8 L841.1,278.3 L841.5,276.9 L841.9,275.5 L842.3,274.0 L842.7,272.6 L843.1,271.1 L843.5,269.7 L843.9,268.3 L844.3,266.8 L844.7,265.4 L845.1,263.9 L845.6,262.5 L846.0,261.1 L846.4,259.6 L846.8,258.2 L847.2,256.8 L847.6,255.3 L848.0,253.9 L848.4,252.5 L848.8,251.0 L849.2,249.6 L849.7,248.2 L850.1,246.7 L850.5,245.3 L850.9,243.9 L851.3,242.4 L851.7,241.0 L852.2,239.6 L852.6,238.1 L853.0,236.7 L853.4,235.3 L853.9,233.8 L854.3,232.4 L854.7,231.0 L855.2,229.6 L855.6,228.1 L856.0,226.7 L856.5,225.3 L856.9,223.9 L857.3,222.4 L857.8,221.0 L858.2,219.6 L858.7,218.2 L859.1,216.7 L859.6,215.3 L860.0,213.9 L860.5,212.5 L860.9,211.1 L861.4,209.6 L861.8,208.2 L862.3,206.8 L862.8,205.4 L863.2,204.0 L863.7,202.5 L864.2,201.1 L864.6,199.7 L865.1,198.3 L865.6,196.9 L866.1,195.5 L866.6,194.0 L867.0,192.6 L867.5,191.2 L868.0,189.8 L868.5,188.4 L869.0,187.0 L869.5,185.6 L870.0,184.2 L870.5,182.8 L871.0,181.4 L871.5,179.9 L872.0,178.5 L872.6,177.1 L873.1,175.7 L873.6,174.3 L874.1,172.9 L874.6,171.5 L875.2,170.1 L875.7,168.7 L876.2,167.3 L876.8,165.9 L877.3,164.5 L877.9,163.1 L878.4,161.7 L879.0,160.3 L879.5,158.9 L880.1,157.5 L880.7,156.1 L881.2,154.7 L881.8,153.3 L882.4,151.9 L883.0,150.6 L883.6,149.2 L884.2,147.8 L884.8,146.4 L885.4,145.0 L886.0,143.7 L886.7,142.3 L887.3,140.9 L888.0,139.6 L888.7,138.2 L889.3,136.9 L890.0,135.5 L890.7,134.2 L891.4,132.8 L892.2,131.5 L892.9,130.2 L893.7,128.9 L894.4,127.6 L895.2,126.2 L896.0,124.9 L896.8,123.6 L897.6,122.4 L898.5,121.1 L899.3,119.8 L900.2,118.5 L901.1,117.3 L902.0,116.0 L902.9,114.8 L903.8,113.5 L904.8,112.3 L905.8,111.1 L906.8,109.9 L907.8,108.8 L908.9,107.7 L910.0,106.6 L911.1,105.6 L912.2,104.6 L913.4,103.7 L914.6,102.9 L915.9,102.1 L917.1,101.4 L918.4,100.8 L919.8,100.3 L921.2,99.9 L922.5,99.5 L924.0,99.2 L925.4,98.9 L926.8,98.8 L928.2,98.7 L929.7,98.7 L931.1,98.8 L932.5,98.9 L934.0,99.1 L935.4,99.4 L936.8,99.8 L938.1,100.2 L939.5,100.8 L940.8,101.3 L942.1,102.0 L943.4,102.7 L944.6,103.5 L945.8,104.4 L946.9,105.4 L948.0,106.4 L949.0,107.4 L950.1,108.5 L951.1,109.7 L952.0,110.9 L953.0,112.1 L953.9,113.4 L954.8,114.7 L955.6,116.0 L956.5,117.3 L957.3,118.6 L958.1,120.0 L958.9,121.3 L959.7,122.7 L960.5,124.0 L961.2,125.4 L961.9,126.8 L962.7,128.1 L963.4,129.5 L964.1,130.9 L964.8,132.2 L965.4,133.6 L966.1,135.0 L966.7,136.4 L967.4,137.7 L968.0,139.1 L968.6,140.5 L969.2,141.9 L969.8,143.3 L970.4,144.7 L970.9,146.1 L971.5,147.5 L972.0,148.9 L972.6,150.3 L973.1,151.7 L973.6,153.1 L974.1,154.5 L974.6,155.9 L975.1,157.3 L975.6,158.7 L976.1,160.1 L976.6,161.6 L977.0,163.0 L977.5,164.4 L977.9,165.8 L978.4,167.2 L978.8,168.7 L979.2,170.1 L979.6,171.5 L980.1,172.9 L980.5,174.4 L980.9,175.8 L981.3,177.2 L981.7,178.7 L982.1,180.1 L982.5,181.5 L982.8,183.0 L983.2,184.4 L983.6,185.9 L984.0,187.3 L984.3,188.8 L984.7,190.2 L985.1,191.6 L985.4,193.1 L985.8,194.5 L986.1,196.0 L986.5,197.4 L986.9,198.9 L987.2,200.3 L987.6,201.8 L987.9,203.2 L988.3,204.7 L988.6,206.1 L989.0,207.6 L989.3,209.0 L989.7,210.5 L990.0,211.9 L990.3,213.4 L990.7,214.8 L991.0,216.3 L991.4,217.7 L991.7,219.2 L992.0,220.7 L992.4,222.1 L992.7,223.6 L993.0,225.0 L993.4,226.5 L993.7,228.0 L994.0,229.4 L994.4,230.9 L994.7,232.3 L995.0,233.8 L995.3,235.3 L995.7,236.7 L996.0,238.2 L996.3,239.6 L996.6,241.1 L997.0,242.6 L997.3,244.0 L997.6,245.5 L997.9,247.0 L998.2,248.4 L998.6,249.9 L998.9,251.4 L999.2,252.8 L999.5,254.3 L999.8,255.8 L1000.1,257.2 L1000.5,258.7 L1000.8,260.2 L1001.1,261.6 L1001.4,263.1 L1001.7,264.6 L1002.0,266.0 L1002.3,267.5 L1002.6,269.0 L1002.9,270.5 L1003.3,271.9 L1003.6,273.4 L1003.9,274.9 L1004.2,276.3 L1004.5,277.8 L1004.8,279.3 L1005.1,280.7 L1005.4,282.2 L1005.7,283.7 L1006.0,285.2 L1006.3,286.6 L1006.7,288.1 L1007.0,289.6 L1007.3,291.1 L1007.6,292.5 L1007.9,294.0 L1008.2,295.5 L1008.5,296.9 L1008.8,298.4 L1009.1,299.9 L1009.4,301.4 L1009.7,302.8 L1010.0,304.3 L1010.3,305.8 L1010.7,307.2 L1011.0,308.7 L1011.3,310.2 L1011.6,311.7 L1011.9,313.1 L1012.2,314.6 L1012.5,316.1 L1012.8,317.5 L1013.1,319.0 L1013.4,320.5 L1013.7,322.0 L1014.1,323.4 L1014.4,324.9 L1014.7,326.4 L1015.0,327.9 L1015.3,329.3 L1015.6,330.8 L1015.9,332.3 L1016.2,333.7 L1016.6,335.2 L1016.9,336.7 L1017.2,338.1 L1017.5,339.6 L1017.8,341.1 L1018.1,342.6 L1018.5,344.0 L1018.8,345.5 L1019.1,347.0 L1019.4,348.4 L1019.7,349.9 L1020.1,351.4 L1020.4,352.8 L1020.7,354.3 L1021.0,355.8 L1021.4,357.2 L1021.7,358.7 L1022.0,360.2 L1022.4,361.6 L1022.7,363.1 L1023.0,364.6 L1023.3,366.0 L1023.7,367.5 L1024.0,368.9 L1024.3,370.4 L1024.7,371.9 L1025.0,373.3 L1025.4,374.8 L1025.7,376.3 L1026.0,377.7 L1026.4,379.2 L1026.7,380.6 L1027.1,382.1 L1027.4,383.6 L1027.8,385.0 L1028.1,386.5 L1028.5,387.9 L1028.8,389.4 L1029.2,390.8 L1029.5,392.3 L1029.9,393.8 L1030.2,395.2 L1030.6,396.7 L1030.9,398.1 L1031.3,399.6 L1031.6,401.0 L1032.0,402.5 L1032.3,403.9 L1032.7,405.4 L1033.0,406.9 L1033.4,408.3 L1033.8,409.8 L1034.1,411.2 L1034.5,412.7 L1034.8,414.1 L1035.2,415.6 L1035.6,417.0 L1035.9,418.5 L1036.3,419.9 L1036.6,421.4 L1037.0,422.8 L1037.4,424.3 L1037.7,425.7 L1038.1,427.2 L1038.5,428.7 L1038.8,430.1 L1039.2,431.6 L1039.5,433.0 L1039.9,434.5 L1040.3,435.9 L1040.6,437.4 L1041.0,438.8 L1041.4,440.3 L1041.7,441.7 L1042.1,443.2 L1042.5,444.6 L1042.8,446.1 L1043.2,447.5 L1043.6,449.0 L1043.9,450.4 L1044.3,451.9 L1044.7,453.3 L1045.0,454.8 L1045.4,456.2 L1045.7,457.7 L1046.1,459.2 L1046.5,460.6 L1046.8,462.1 L1047.2,463.5 L1047.6,465.0 L1047.9,466.4 L1048.3,467.9 L1048.6,469.3 L1049.0,470.8 L1049.4,472.2 L1049.7,473.7 L1050.1,475.2 L1050.4,476.6 L1050.8,478.1 L1051.2,479.5 L1051.5,481.0 L1051.9,482.4 L1052.2,483.9 L1052.6,485.4 L1052.9,486.8 L1053.3,488.3 L1053.6,489.7 L1054.0,491.2 L1054.4,492.6 L1054.7,494.1 L1055.1,495.6 L1055.4,497.0 L1055.8,498.5 L1056.1,500.0 L1056.4,501.4 L1056.8,502.9 L1057.1,504.3 L1057.5,505.8 L1057.8,507.3 L1058.2,508.7 L1058.5,510.2 L1058.8,511.7 L1059.2,513.1 L1059.5,514.5" stroke="#ffb0b0" stroke-width="2.25"/>
<path d="M820.0,514.5 L821.5,514.0 L823.0,513.5 L824.5,512.9 L825.9,512.3 L827.3,511.7 L828.7,511.1 L830.1,510.4 L831.5,509.7 L832.8,509.0 L834.1,508.3 L835.4,507.5 L836.7,506.8 L837.9,506.0 L839.2,505.1 L840.4,504.3 L841.6,503.4 L842.7,502.6 L843.9,501.7 L845.0,500.8 L846.2,499.8 L847.3,498.9 L848.3,497.9 L849.4,496.9 L850.5,495.9 L851.5,494.9 L852.5,493.8 L853.5,492.8 L854.5,491.7 L855.5,490.6 L856.4,489.5 L857.4,488.4 L858.3,487.3 L859.2,486.1 L860.1,484.9 L861.0,483.8 L861.9,482.6 L862.7,481.4 L863.6,480.2 L864.4,479.0 L865.2,477.7 L866.0,476.5 L866.8,475.2 L867.6,473.9 L868.4,472.7 L869.2,471.4 L869.9,470.1 L870.7,468.8 L871.4,467.5 L872.1,466.2 L872.8,464.8 L873.6,463.5 L874.3,462.2 L875.0,460.8 L875.6,459.5 L876.3,458.1 L877.0,456.7 L877.7,455.4 L878.3,454.0 L879.0,452.6 L879.6,451.2 L880.3,449.8 L880.9,448.4 L881.5,447.1 L882.1,445.7 L882.8,444.3 L883.4,442.9 L884.0,441.5 L884.6,440.1 L885.2,438.7 L885.8,437.3 L886.4,435.9 L887.0,434.5 L887.6,433.1 L888.2,431.7 L888.8,430.3 L889.4,428.9 L890.0,427.5 L890.5,426.1 L891.1,424.7 L891.7,423.3 L892.3,421.9 L892.8,420.5 L893.4,419.1 L894.0,417.7 L894.5,416.3 L895.1,414.9 L895.6,413.5 L896.2,412.0 L896.7,410.6 L897.3,409.2 L897.8,407.8 L898.4,406.4 L898.9,405.0 L899.4,403.6 L900.0,402.2 L900.5,400.8 L901.0,399.4 L901.6,398.0 L902.1,396.6 L902.6,395.2 L903.1,393.8 L903.6,392.4 L904.2,391.0 L904.7,389.5 L905.2,388.1 L905.7,386.7 L906.2,385.3 L906.7,383.9 L907.2,382.5 L907.7,381.1 L908.2,379.7 L908.7,378.3 L909.2,376.9 L909.7,375.4 L910.1,374.0 L910.6,372.6 L911.1,371.2 L911.6,369.8 L912.1,368.4 L912.6,367.0 L913.0,365.5 L913.5,364.1 L914.0,362.7 L914.4,361.3 L914.9,359.9 L915.4,358.5 L915.8,357.0 L916.3,355.6 L916.8,354.2 L917.2,352.8 L917.7,351.4 L918.1,350.0 L918.6,348.5 L919.0,347.1 L919.5,345.7 L919.9,344.3 L920.4,342.8 L920.8,341.4 L921.3,340.0 L921.7,338.6 L922.1,337.2 L922.6,335.7 L923.0,334.3 L923.4,332.9 L923.9,331.5 L924.3,330.0 L924.7,328.6 L925.2,327.2 L925.6,325.7 L926.0,324.3 L926.4,322.9 L926.9,321.5 L927.3,320.0 L927.7,318.6 L928.1,317.2 L928.5,315.7 L929.0,314.3 L929.4,312.9 L929.8,311.4 L930.2,310.0 L930.6,308.6 L931.0,307.1 L931.4,305.7 L931.8,304.3 L932.3,302.8 L932.7,301.4 L933.1,299.9 L933.5,298.5 L933.9,297.1 L934.3,295.6 L934.7,294.2 L935.1,292.8 L935.5,291.3 L935.9,289.9 L936.3,288.4 L936.7,287.0 L937.1,285.5 L937.5,284.1 L937.9,282.6 L938.2,281.2 L938.6,279.8 L939.0,278.3 L939.4,276.9 L939.8,275.4 L940.2,274.0 L940.6,272.5 L941.0,271.1 L941.4,269.6 L941.8,268.2 L942.1,266.7 L942.5,265.3 L942.9,263.8 L943.3,262.3 L943.7,260.9 L944.1,259.4 L944.5,258.0 L944.8,256.5 L945.2,255.1 L945.6,253.6 L946.0,252.2 L946.4,250.7 L946.8,249.2 L947.2,247.8 L947.6,246.3 L947.9,244.9 L948.3,243.4 L948.7,242.0 L949.1,240.5 L949.5,239.1 L949.9,237.6 L950.3,236.1 L950.7,234.7 L951.1,233.2 L951.5,231.8 L951.9,230.3 L952.3,228.9 L952.7,227.4 L953.1,226.0 L953.5,224.5 L953.9,223.0 L954.3,221.6 L954.7,220.1 L955.1,218.7 L955.6,217.2 L956.0,215.8 L956.4,214.4 L956.8,212.9 L957.3,211.5 L957.7,210.0 L958.1,208.6 L958.6,207.1 L959.0,205.7 L959.4,204.2 L959.9,202.8 L960.3,201.4 L960.8,199.9 L961.2,198.5 L961.7,197.1 L962.1,195.6 L962.6,194.2 L963.1,192.8 L963.5,191.3 L964.0,189.9 L964.5,188.5 L965.0,187.1 L965.5,185.6 L965.9,184.2 L966.4,182.8 L966.9,181.4 L967.4,180.0 L967.9,178.6 L968.5,177.1 L969.0,175.7 L969.5,174.3 L970.0,172.9 L970.5,171.5 L971.1,170.1 L971.6,168.7 L972.2,167.3 L972.7,165.9 L973.3,164.5 L973.8,163.1 L974.4,161.8 L975.0,160.4 L975.5,159.0 L976.1,157.6 L976.7,156.2 L977.3,154.9 L977.9,153.5 L978.5,152.1 L979.1,150.7 L979.7,149.4 L980.4,148.0 L981.0,146.7 L981.6,145.3 L982.3,143.9 L982.9,142.6 L983.6,141.2 L984.2,139.9 L984.9,138.6 L985.6,137.2 L986.2,135.9 L986.9,134.6 L987.6,133.2 L988.3,131.9 L989.0,130.6 L989.8,129.3 L990.5,127.9 L991.2,126.6 L992.0,125.3 L992.7,124.0 L993.5,122.7 L994.2,121.4 L995.0,120.1 L995.8,118.8 L996.6,117.6 L997.3,116.3 L998.1,115.0 L999.0,113.7 L999.8,112.4 L1000.6,111.2 L1001.4,109.9 L1002.3,108.7 L1003.2,107.5 L1004.1,106.3 L1005.1,105.1 L1006.1,104.0 L1007.1,103.0 L1008.3,102.1 L1009.5,101.2 L1010.8,100.4 L1012.2,99.7 L1013.6,99.2 L1015.1,98.7 L1016.6,98.3 L1018.2,98.0 L1019.7,97.9 L1021.2,97.8 L1022.6,97.9 L1024.1,98.1 L1025.4,98.4 L1026.8,98.7 L1028.1,99.2 L1029.4,99.8 L1030.6,100.4 L1031.8,101.2 L1033.0,102.0 L1034.1,102.8 L1035.2,103.8 L1036.3,104.8 L1037.4,105.8 L1038.4,106.9 L1039.5,108.0 L1040.5,109.2 L1041.4,110.4 L1042.4,111.6 L1043.4,112.8 L1044.3,114.1 L1045.2,115.3 L1046.1,116.6 L1047.0,117.8 L1047.9,119.1 L1048.8,120.4 L1049.6,121.7 L1050.5,122.9 L1051.3,124.2 L1052.1,125.5 L1052.9,126.8 L1053.7,128.1 L1054.5,129.4 L1055.3,130.7 L1056.1,132.0 L1056.8,133.4 L1057.6,134.7 L1058.3,136.0 L1059.0,137.3 L1059.8,138.7 L1060.5,140.0 L1061.2,141.4 L1061.9,142.7 L1062.6,144.0 L1063.2,145.4 L1063.9,146.8 L1064.6,148.1 L1065.2,149.5 L1065.9,150.8 L1066.5,152.2 L1067.1,153.6 L1067.7,154.9 L1068.4,156.3 L1069.0,157.7 L1069.6,159.1 L1070.2,160.5 L1070.8,161.8 L1071.3,163.2 L1071.9,164.6 L1072.5,166.0 L1073.1,167.4 L1073.6,168.8 L1074.2,170.2 L1074.7,171.6 L1075.3,173.0 L1075.8,174.4 L1076.4,175.8 L1076.9,177.2 L1077.4,178.6 L1078.0,180.0 L1078.5,181.4 L1079.0,182.8 L1079.5,184.2 L1080.0,185.6 L1080.5,187.0 L1081.0,188.4 L1081.6,189.8 L1082.1,191.3 L1082.6,192.7 L1083.1,194.1 L1083.6,195.5 L1084.1,196.9 L1084.5,198.3 L1085.0,199.7 L1085.5,201.1 L1086.0,202.5 L1086.5,203.9 L1087.0,205.4 L1087.5,206.8 L1088.0,208.2 L1088.5,209.6 L1089.0,211.0 L1089.4,212.4 L1089.9,213.8 L1090.4,215.2 L1090.9,216.6 L1091.4,218.1 L1091.8,219.5 L1092.3,220.9 L1092.8,222.3 L1093.3,223.7 L1093.8,225.1 L1094.2,226.5 L1094.7,227.9 L1095.2,229.3 L1095.7,230.8 L1096.1,232.2 L1096.6,233.6 L1097.1,235.0 L1097.5,236.4 L1098.0,237.8 L1098.5,239.2 L1099.0,240.6 L1099.4,242.1 L1099.9,243.5 L1100.4,244.9 L1100.8,246.3 L1101.3,247.7 L1101.8,249.1 L1102.2,250.5 L1102.7,251.9 L1103.2,253.3 L1103.6,254.8 L1104.1,256.2 L1104.6,257.6 L1105.1,259.0 L1105.5,260.4 L1106.0,261.8 L1106.5,263.2 L1106.9,264.6 L1107.4,266.1 L1107.9,267.5 L1108.3,268.9 L1108.8,270.3 L1109.3,271.7 L1109.7,273.1 L1110.2,274.5 L1110.7,276.0 L1111.2,277.4 L1111.6,278.8 L1112.1,280.2 L1112.6,281.6 L1113.1,283.0 L1113.5,284.4 L1114.0,285.8 L1114.5,287.3 L1115.0,288.7 L1115.4,290.1 L1115.9,291.5 L1116.4,292.9 L1116.9,294.3 L1117.4,295.8 L1117.8,297.2 L1118.3,298.6 L1118.8,300.0 L1119.3,301.4 L1119.8,302.8 L1120.3,304.2 L1120.8,305.7 L1121.2,307.1 L1121.7,308.5 L1122.2,309.9 L1122.7,311.3 L1123.2,312.7 L1123.7,314.2 L1124.2,315.6 L1124.7,317.0 L1125.2,318.4 L1125.7,319.8 L1126.2,321.2 L1126.7,322.7 L1127.2,324.1 L1127.7,325.5 L1128.2,326.9 L1128.7,328.3 L1129.2,329.8 L1129.8,331.2 L1130.3,332.6 L1130.8,334.0 L1131.3,335.4 L1131.8,336.8 L1132.3,338.3 L1132.9,339.7 L1133.4,341.1 L1133.9,342.5 L1134.5,343.9 L1135.0,345.4 L1135.5,346.8 L1136.1,348.2 L1136.6,349.6 L1137.1,351.0 L1137.7,352.5 L1138.2,353.9 L1138.8,355.3 L1139.3,356.7 L1139.9,358.1 L1140.4,359.5 L1141.0,361.0 L1141.6,362.4 L1142.1,363.8 L1142.7,365.2 L1143.3,366.6 L1143.8,368.0 L1144.4,369.4 L1145.0,370.8 L1145.6,372.2 L1146.2,373.6 L1146.8,375.0 L1147.4,376.4 L1148.0,377.8 L1148.6,379.2 L1149.2,380.6 L1149.8,382.0 L1150.5,383.4 L1151.1,384.7 L1151.7,386.1 L1152.4,387.5 L1153.0,388.9 L1153.7,390.2 L1154.3,391.6 L1155.0,393.0 L1155.6,394.3 L1156.3,395.7 L1157.0,397.0 L1157.6,398.4 L1158.3,399.7 L1159.0,401.1 L1159.7,402.4 L1160.4,403.7 L1161.1,405.1 L1161.8,406.4 L1162.6,407.7 L1163.3,409.0 L1164.0,410.3 L1164.8,411.6 L1165.5,412.9 L1166.3,414.2 L1167.0,415.5 L1167.8,416.8 L1168.6,418.1 L1169.3,419.4 L1170.1,420.6 L1170.9,421.9 L1171.7,423.2 L1172.5,424.4 L1173.4,425.7 L1174.2,426.9 L1175.0,428.1 L1175.9,429.4 L1176.7,430.6 L1177.6,431.8 L1178.4,433.0 L1179.3,434.2 L1180.2,435.4 L1181.1,436.6 L1182.0,437.8 L1182.9,439.0 L1183.8,440.1 L1184.7,441.3 L1185.7,442.5 L1186.6,443.6 L1187.5,444.8 L1188.5,445.9 L1189.5,447.0 L1190.5,448.1 L1191.4,449.2 L1192.4,450.3 L1193.4,451.4 L1194.5,452.5 L1195.5,453.6 L1196.5,454.7 L1197.6,455.7 L1198.6,456.8 L1199.7,457.9 L1200.7,458.9 L1201.8,459.9 L1202.9,460.9 L1204.0,462.0 L1205.1,463.0 L1206.2,464.0 L1207.3,465.0 L1208.4,465.9 L1209.6,466.9 L1210.7,467.9 L1211.8,468.8 L1213.0,469.8 L1214.2,470.7 L1215.3,471.7 L1216.5,472.6 L1217.7,473.5 L1218.9,474.4 L1220.1,475.3 L1221.3,476.2 L1222.5,477.1 L1223.7,477.9 L1224.9,478.8 L1226.2,479.6 L1227.4,480.5 L1228.7,481.3 L1229.9,482.1 L1231.2,482.9 L1232.4,483.8 L1233.7,484.5 L1235.0,485.3 L1236.3,486.1 L1237.6,486.9 L1238.9,487.6 L1240.2,488.4 L1241.5,489.1 L1242.8,489.8 L1244.1,490.6 L1245.4,491.3 L1246.7,492.0 L1248.1,492.7 L1249.4,493.3 L1250.8,494.0 L1252.1,494.7 L1253.5,495.3 L1254.8,496.0 L1256.2,496.6 L1257.6,497.2 L1258.9,497.8 L1260.3,498.4 L1261.7,499.0 L1263.1,499.6 L1264.5,500.1 L1265.9,500.7 L1267.3,501.2 L1268.7,501.8 L1270.1,502.3 L1271.5,502.8 L1272.9,503.3 L1274.3,503.8 L1275.8,504.3 L1277.2,504.8 L1278.6,505.2 L1280.0,505.7 L1281.5,506.1 L1282.9,506.6 L1284.4,507.0 L1285.8,507.4 L1287.3,507.8 L1288.7,508.2 L1290.2,508.5 L1291.6,508.9 L1293.1,509.2 L1294.6,509.6 L1296.0,509.9 L1297.5,510.2 L1299.0,510.5 L1300.4,510.8 L1301.9,511.1 L1303.4,511.4 L1304.9,511.6 L1306.4,511.9 L1307.8,512.1 L1309.3,512.3 L1310.8,512.5 L1312.3,512.7 L1313.8,512.9 L1315.3,513.1 L1316.8,513.2 L1318.3,513.4 L1319.8,513.5 L1321.3,513.7 L1322.8,513.8 L1324.3,513.9 L1325.8,514.0 L1327.3,514.0 L1328.8,514.1 L1330.3,514.2 L1331.8,514.2 L1333.3,514.2 L1334.8,514.2 L1336.3,514.2 L1337.8,514.2 L1339.3,514.2 L1340.8,514.2 L1342.3,514.1 L1343.9,514.1 L1345.4,514.0 L1346.9,513.9 L1348.4,513.8 L1349.9,513.7 L1351.4,513.6 L1352.0,513.5" stroke="#ff5555" stroke-width="2.3"/>
<path d="M732.5,514.5 L733.9,513.9 L735.2,513.4 L736.6,512.8 L737.9,512.2 L739.3,511.6 L740.6,511.0 L742.0,510.3 L743.3,509.7 L744.7,509.1 L746.0,508.4 L747.4,507.8 L748.7,507.1 L750.1,506.4 L751.4,505.8 L752.8,505.1 L754.2,504.4 L755.5,503.7 L756.9,503.1 L758.2,502.4 L759.6,501.7 L761.0,501.1 L762.4,500.4 L763.7,499.7 L765.1,499.1 L766.5,498.5 L767.9,497.8 L769.3,497.2 L770.6,496.6 L772.0,496.0 L773.4,495.4 L774.8,494.8 L776.2,494.3 L777.6,493.7 L779.0,493.2 L780.5,492.7 L781.9,492.2 L783.3,491.7 L784.7,491.3 L786.2,490.8 L787.6,490.4 L789.0,490.0 L790.5,489.7 L791.9,489.3 L793.4,489.0 L794.8,488.6 L796.3,488.3 L797.8,488.1 L799.2,487.8 L800.7,487.5 L802.2,487.3 L803.6,487.0 L805.1,486.8 L806.6,486.6 L808.1,486.3 L809.5,486.1 L811.0,485.9 L812.5,485.7 L814.0,485.5 L815.5,485.4 L817.0,485.2 L818.5,485.0 L820.0,484.8 L821.4,484.6 L822.9,484.4 L824.4,484.3 L825.9,484.1 L827.4,483.9 L828.9,483.7 L830.4,483.5 L831.9,483.3 L833.4,483.1 L834.9,482.8 L836.3,482.6 L837.8,482.4 L839.3,482.1 L840.8,481.9 L842.3,481.6 L843.7,481.3 L845.2,481.0 L846.7,480.7 L848.2,480.4 L849.6,480.0 L851.1,479.7 L852.6,479.3 L854.0,478.9 L855.5,478.5 L856.9,478.0 L858.3,477.6 L859.8,477.1 L861.2,476.6 L862.6,476.1 L864.0,475.6 L865.4,475.1 L866.8,474.5 L868.2,473.9 L869.6,473.3 L870.9,472.7 L872.2,472.1 L873.6,471.4 L874.9,470.7 L876.2,470.0 L877.5,469.3 L878.8,468.5 L880.0,467.8 L881.3,467.0 L882.5,466.2 L883.7,465.3 L884.9,464.5 L886.1,463.6 L887.2,462.7 L888.4,461.8 L889.5,460.8 L890.6,459.8 L891.6,458.8 L892.7,457.8 L893.7,456.7 L894.7,455.7 L895.7,454.6 L896.7,453.4 L897.6,452.3 L898.6,451.1 L899.5,450.0 L900.4,448.8 L901.2,447.5 L902.1,446.3 L902.9,445.1 L903.8,443.8 L904.6,442.5 L905.4,441.2 L906.2,439.9 L906.9,438.6 L907.7,437.3 L908.4,435.9 L909.2,434.6 L909.9,433.2 L910.6,431.9 L911.3,430.5 L912.0,429.1 L912.6,427.7 L913.3,426.3 L914.0,425.0 L914.6,423.6 L915.3,422.2 L915.9,420.8 L916.5,419.4 L917.1,418.0 L917.8,416.6 L918.4,415.2 L919.0,413.8 L919.6,412.4 L920.2,411.0 L920.8,409.6 L921.3,408.2 L921.9,406.8 L922.5,405.4 L923.0,404.0 L923.6,402.6 L924.1,401.2 L924.7,399.8 L925.2,398.4 L925.8,397.0 L926.3,395.6 L926.8,394.2 L927.4,392.8 L927.9,391.4 L928.4,390.0 L928.9,388.6 L929.4,387.2 L929.9,385.8 L930.4,384.4 L930.9,383.0 L931.4,381.6 L931.9,380.2 L932.4,378.8 L932.9,377.4 L933.4,375.9 L933.8,374.5 L934.3,373.1 L934.8,371.7 L935.2,370.3 L935.7,368.9 L936.2,367.5 L936.6,366.1 L937.1,364.6 L937.6,363.2 L938.0,361.8 L938.5,360.4 L938.9,359.0 L939.4,357.6 L939.8,356.2 L940.3,354.7 L940.7,353.3 L941.2,351.9 L941.6,350.5 L942.1,349.1 L942.5,347.6 L943.0,346.2 L943.4,344.8 L943.8,343.4 L944.3,341.9 L944.7,340.5 L945.2,339.1 L945.6,337.7 L946.1,336.3 L946.5,334.8 L947.0,333.4 L947.4,332.0 L947.8,330.5 L948.3,329.1 L948.7,327.7 L949.2,326.3 L949.6,324.8 L950.1,323.4 L950.5,322.0 L951.0,320.5 L951.4,319.1 L951.8,317.7 L952.3,316.3 L952.7,314.8 L953.2,313.4 L953.6,312.0 L954.1,310.5 L954.5,309.1 L955.0,307.7 L955.4,306.2 L955.8,304.8 L956.3,303.4 L956.7,301.9 L957.2,300.5 L957.6,299.1 L958.1,297.6 L958.5,296.2 L958.9,294.8 L959.4,293.3 L959.8,291.9 L960.3,290.4 L960.7,289.0 L961.2,287.6 L961.6,286.1 L962.0,284.7 L962.5,283.3 L962.9,281.8 L963.4,280.4 L963.8,278.9 L964.3,277.5 L964.7,276.1 L965.1,274.6 L965.6,273.2 L966.0,271.7 L966.5,270.3 L966.9,268.9 L967.4,267.4 L967.8,266.0 L968.2,264.6 L968.7,263.1 L969.1,261.7 L969.6,260.2 L970.0,258.8 L970.5,257.4 L970.9,255.9 L971.3,254.5 L971.8,253.0 L972.2,251.6 L972.7,250.2 L973.1,248.7 L973.5,247.3 L974.0,245.8 L974.4,244.4 L974.9,243.0 L975.3,241.5 L975.7,240.1 L976.2,238.6 L976.6,237.2 L977.1,235.8 L977.5,234.3 L977.9,232.9 L978.4,231.4 L978.8,230.0 L979.3,228.6 L979.7,227.1 L980.1,225.7 L980.6,224.2 L981.0,222.8 L981.4,221.4 L981.9,219.9 L982.3,218.5 L982.8,217.0 L983.2,215.6 L983.6,214.2 L984.1,212.7 L984.5,211.3 L984.9,209.9 L985.4,208.4 L985.8,207.0 L986.3,205.5 L986.7,204.1 L987.1,202.7 L987.6,201.2 L988.0,199.8 L988.4,198.4 L988.9,196.9 L989.3,195.5 L989.7,194.1 L990.2,192.6 L990.6,191.2 L991.0,189.8 L991.5,188.3 L991.9,186.9 L992.4,185.5 L992.8,184.0 L993.2,182.6 L993.7,181.2 L994.1,179.8 L994.6,178.3 L995.1,176.9 L995.5,175.5 L996.0,174.1 L996.4,172.6 L996.9,171.2 L997.4,169.8 L997.9,168.4 L998.4,167.0 L998.9,165.6 L999.4,164.2 L999.9,162.8 L1000.4,161.4 L1000.9,160.0 L1001.4,158.6 L1002.0,157.2 L1002.5,155.8 L1003.1,154.4 L1003.6,153.0 L1004.2,151.7 L1004.8,150.3 L1005.4,148.9 L1005.9,147.5 L1006.6,146.2 L1007.2,144.8 L1007.8,143.5 L1008.4,142.1 L1009.1,140.8 L1009.7,139.4 L1010.4,138.1 L1011.1,136.7 L1011.8,135.4 L1012.5,134.1 L1013.2,132.7 L1014.0,131.4 L1014.7,130.1 L1015.5,128.8 L1016.2,127.5 L1017.0,126.2 L1017.8,124.9 L1018.7,123.6 L1019.5,122.3 L1020.3,121.1 L1021.2,119.8 L1022.1,118.5 L1023.0,117.3 L1023.9,116.0 L1024.8,114.8 L1025.8,113.5 L1026.8,112.3 L1027.7,111.1 L1028.7,109.9 L1029.8,108.7 L1030.8,107.5 L1031.9,106.4 L1033.0,105.4 L1034.1,104.4 L1035.2,103.4 L1036.3,102.5 L1037.5,101.7 L1038.7,101.0 L1039.9,100.3 L1041.1,99.7 L1042.4,99.2 L1043.7,98.9 L1045.0,98.6 L1046.3,98.4 L1047.7,98.4 L1049.1,98.4 L1050.5,98.6 L1051.9,98.9 L1053.3,99.3 L1054.7,99.8 L1056.1,100.4 L1057.4,101.1 L1058.8,101.8 L1060.0,102.7 L1061.3,103.6 L1062.5,104.5 L1063.7,105.6 L1064.8,106.7 L1065.9,107.8 L1067.0,109.0 L1068.0,110.2 L1069.0,111.4 L1070.0,112.7 L1070.9,114.0 L1071.8,115.3 L1072.7,116.6 L1073.5,118.0 L1074.3,119.3 L1075.1,120.6 L1075.9,122.0 L1076.7,123.3 L1077.4,124.6 L1078.1,126.0 L1078.8,127.3 L1079.5,128.7 L1080.1,130.0 L1080.8,131.4 L1081.4,132.7 L1082.1,134.1 L1082.7,135.4 L1083.3,136.8 L1083.9,138.2 L1084.5,139.5 L1085.1,140.9 L1085.7,142.3 L1086.3,143.6 L1086.8,145.0 L1087.4,146.4 L1088.0,147.7 L1088.6,149.1 L1089.1,150.5 L1089.7,151.9 L1090.3,153.2 L1090.8,154.6 L1091.4,156.0 L1091.9,157.4 L1092.5,158.8 L1093.0,160.2 L1093.6,161.5 L1094.1,162.9 L1094.7,164.3 L1095.2,165.7 L1095.7,167.1 L1096.3,168.5 L1096.8,169.9 L1097.3,171.3 L1097.8,172.7 L1098.3,174.1 L1098.9,175.5 L1099.4,176.9 L1099.9,178.3 L1100.4,179.7 L1100.9,181.1 L1101.4,182.5 L1101.9,183.9 L1102.4,185.3 L1102.9,186.7 L1103.4,188.1 L1103.9,189.5 L1104.4,190.9 L1104.8,192.3 L1105.3,193.7 L1105.8,195.2 L1106.3,196.6 L1106.8,198.0 L1107.2,199.4 L1107.7,200.8 L1108.2,202.2 L1108.7,203.7 L1109.1,205.1 L1109.6,206.5 L1110.0,207.9 L1110.5,209.3 L1111.0,210.8 L1111.4,212.2 L1111.9,213.6 L1112.3,215.1 L1112.8,216.5 L1113.2,217.9 L1113.7,219.3 L1114.1,220.8 L1114.6,222.2 L1115.0,223.6 L1115.4,225.1 L1115.9,226.5 L1116.3,227.9 L1116.7,229.4 L1117.2,230.8 L1117.6,232.2 L1118.0,233.7 L1118.5,235.1 L1118.9,236.5 L1119.3,238.0 L1119.8,239.4 L1120.2,240.9 L1120.6,242.3 L1121.0,243.7 L1121.4,245.2 L1121.9,246.6 L1122.3,248.1 L1122.7,249.5 L1123.1,251.0 L1123.5,252.4 L1123.9,253.8 L1124.4,255.3 L1124.8,256.7 L1125.2,258.2 L1125.6,259.6 L1126.0,261.1 L1126.4,262.5 L1126.8,264.0 L1127.2,265.4 L1127.6,266.9 L1128.0,268.3 L1128.4,269.8 L1128.8,271.2 L1129.2,272.7 L1129.6,274.1 L1130.0,275.6 L1130.4,277.0 L1130.8,278.5 L1131.2,279.9 L1131.6,281.4 L1132.0,282.8 L1132.4,284.3 L1132.8,285.7 L1133.2,287.2 L1133.6,288.6 L1134.0,290.1 L1134.4,291.5 L1134.8,293.0 L1135.2,294.4 L1135.6,295.9 L1136.0,297.3 L1136.4,298.8 L1136.8,300.2 L1137.2,301.7 L1137.6,303.2 L1138.0,304.6 L1138.4,306.1 L1138.8,307.5 L1139.3,309.0 L1139.7,310.4 L1140.1,311.9 L1140.5,313.3 L1140.9,314.8 L1141.3,316.2 L1141.7,317.7 L1142.1,319.1 L1142.5,320.6 L1142.9,322.0 L1143.3,323.5 L1143.7,324.9 L1144.1,326.4 L1144.6,327.8 L1145.0,329.3 L1145.4,330.7 L1145.8,332.1 L1146.2,333.6 L1146.7,335.0 L1147.1,336.5 L1147.5,337.9 L1147.9,339.4 L1148.4,340.8 L1148.8,342.3 L1149.2,343.7 L1149.6,345.1 L1150.1,346.6 L1150.5,348.0 L1150.9,349.5 L1151.4,350.9 L1151.8,352.3 L1152.3,353.8 L1152.7,355.2 L1153.2,356.6 L1153.6,358.1 L1154.1,359.5 L1154.5,360.9 L1155.0,362.4 L1155.4,363.8 L1155.9,365.2 L1156.4,366.6 L1156.8,368.1 L1157.3,369.5 L1157.8,370.9 L1158.2,372.3 L1158.7,373.8 L1159.2,375.2 L1159.7,376.6 L1160.2,378.0 L1160.6,379.4 L1161.1,380.9 L1161.6,382.3 L1162.1,383.7 L1162.6,385.1 L1163.1,386.5 L1163.6,387.9 L1164.1,389.3 L1164.6,390.7 L1165.2,392.1 L1165.7,393.6 L1166.2,395.0 L1166.7,396.4 L1167.2,397.8 L1167.8,399.2 L1168.3,400.6 L1168.8,402.0 L1169.4,403.3 L1169.9,404.7 L1170.5,406.1 L1171.0,407.5 L1171.6,408.9 L1172.2,410.3 L1172.7,411.7 L1173.3,413.1 L1173.9,414.4 L1174.4,415.8 L1175.0,417.2 L1175.6,418.6 L1176.2,420.0 L1176.8,421.3 L1177.4,422.7 L1178.0,424.1 L1178.6,425.4 L1179.2,426.8 L1179.8,428.2 L1180.4,429.5 L1181.1,430.9 L1181.7,432.2 L1182.3,433.6 L1183.0,434.9 L1183.6,436.3 L1184.2,437.6 L1184.9,439.0 L1185.5,440.3 L1186.2,441.7 L1186.9,443.0 L1187.5,444.4 L1188.2,445.7 L1188.9,447.0 L1189.6,448.4 L1190.3,449.7 L1191.0,451.0 L1191.7,452.4 L1192.4,453.7 L1193.1,455.0 L1193.8,456.3 L1194.5,457.6 L1195.3,458.9 L1196.0,460.3 L1196.7,461.6 L1197.5,462.9 L1198.2,464.2 L1199.0,465.5 L1199.8,466.8 L1200.6,468.0 L1201.3,469.3 L1202.1,470.6 L1202.9,471.9 L1203.8,473.1 L1204.6,474.4 L1205.4,475.6 L1206.3,476.8 L1207.1,478.1 L1208.0,479.3 L1208.9,480.5 L1209.8,481.6 L1210.7,482.8 L1211.6,484.0 L1212.6,485.1 L1213.5,486.3 L1214.5,487.4 L1215.5,488.5 L1216.5,489.6 L1217.5,490.6 L1218.5,491.7 L1219.6,492.7 L1220.6,493.7 L1221.7,494.7 L1222.9,495.7 L1224.0,496.6 L1225.1,497.6 L1226.3,498.5 L1227.5,499.4 L1228.7,500.3 L1229.9,501.1 L1231.2,501.9 L1232.5,502.7 L1233.8,503.5 L1235.1,504.3 L1236.5,505.0 L1237.8,505.7 L1239.2,506.3 L1240.6,507.0 L1242.1,507.6 L1243.5,508.2 L1245.0,508.8 L1246.4,509.3 L1247.9,509.8 L1249.4,510.3 L1250.9,510.8 L1252.4,511.2 L1253.9,511.6 L1255.4,512.0 L1256.9,512.3 L1258.5,512.6 L1260.0,512.9 L1261.5,513.2 L1263.0,513.4 L1264.5,513.6 L1266.0,513.8 L1267.5,513.9 L1269.0,514.0 L1270.5,514.1 L1272.0,514.2 L1273.5,514.2 L1275.0,514.3 L1276.4,514.3 L1277.9,514.2 L1279.4,514.2 L1280.9,514.1 L1282.3,514.0 L1283.8,513.9 L1285.3,513.8 L1286.7,513.7 L1288.2,513.5 L1289.6,513.4 L1291.1,513.2 L1292.6,513.0 L1294.0,512.8 L1295.5,512.5 L1296.9,512.3 L1298.4,512.1 L1299.8,511.8 L1301.3,511.5 L1302.7,511.3 L1304.2,511.0 L1305.6,510.7 L1307.1,510.4 L1308.6,510.1 L1310.0,509.9 L1311.5,509.6 L1312.9,509.3 L1314.4,509.0 L1315.9,508.7 L1317.3,508.4 L1318.8,508.1 L1320.3,507.8 L1321.8,507.5 L1323.2,507.2 L1324.7,506.9 L1326.2,506.6 L1327.7,506.4 L1329.2,506.1 L1330.7,505.9 L1332.2,505.6 L1333.6,505.5 L1335.1,505.3 L1336.6,505.2 L1338.1,505.1 L1339.6,505.1 L1341.1,505.1 L1342.6,505.1 L1344.1,505.2 L1345.6,505.4 L1347.1,505.7 L1348.6,506.0 L1350.1,506.4 L1351.6,506.9 L1352.0,507.0" stroke="#ff0000" stroke-width="2.45"/>
<path d="M729.5,505.8 L730.7,504.8 L731.8,503.9 L733.0,502.9 L734.1,501.9 L735.2,500.9 L736.3,499.8 L737.3,498.8 L738.4,497.7 L739.4,496.6 L740.4,495.5 L741.3,494.4 L742.3,493.2 L743.2,492.1 L744.1,490.9 L745.0,489.7 L745.9,488.5 L746.8,487.3 L747.6,486.1 L748.4,484.9 L749.2,483.6 L750.0,482.4 L750.8,481.1 L751.6,479.8 L752.3,478.5 L753.1,477.2 L753.8,475.9 L754.5,474.6 L755.2,473.2 L755.9,471.9 L756.6,470.6 L757.3,469.2 L757.9,467.9 L758.6,466.5 L759.2,465.1 L759.8,463.7 L760.5,462.4 L761.1,461.0 L761.7,459.6 L762.3,458.2 L762.9,456.8 L763.4,455.4 L764.0,454.0 L764.6,452.6 L765.2,451.2 L765.7,449.8 L766.3,448.4 L766.8,447.0 L767.4,445.6 L767.9,444.2 L768.5,442.8 L769.0,441.4 L769.5,439.9 L770.0,438.5 L770.6,437.1 L771.1,435.7 L771.6,434.3 L772.1,432.9 L772.6,431.5 L773.1,430.0 L773.6,428.6 L774.1,427.2 L774.6,425.8 L775.1,424.4 L775.6,423.0 L776.0,421.5 L776.5,420.1 L777.0,418.7 L777.4,417.3 L777.9,415.8 L778.4,414.4 L778.8,413.0 L779.3,411.6 L779.7,410.1 L780.2,408.7 L780.6,407.3 L781.1,405.8 L781.5,404.4 L781.9,403.0 L782.4,401.5 L782.8,400.1 L783.2,398.7 L783.6,397.2 L784.1,395.8 L784.5,394.4 L784.9,392.9 L785.3,391.5 L785.7,390.1 L786.1,388.6 L786.5,387.2 L786.9,385.8 L787.3,384.3 L787.8,382.9 L788.1,381.4 L788.5,380.0 L788.9,378.6 L789.3,377.1 L789.7,375.7 L790.1,374.2 L790.5,372.8 L790.9,371.3 L791.3,369.9 L791.7,368.4 L792.0,367.0 L792.4,365.6 L792.8,364.1 L793.2,362.7 L793.6,361.2 L793.9,359.8 L794.3,358.3 L794.7,356.9 L795.1,355.4 L795.4,354.0 L795.8,352.5 L796.2,351.1 L796.6,349.6 L796.9,348.2 L797.3,346.7 L797.7,345.3 L798.0,343.8 L798.4,342.4 L798.8,340.9 L799.2,339.5 L799.5,338.0 L799.9,336.6 L800.3,335.1 L800.6,333.7 L801.0,332.2 L801.4,330.8 L801.7,329.3 L802.1,327.8 L802.5,326.4 L802.8,324.9 L803.2,323.5 L803.6,322.0 L803.9,320.6 L804.3,319.1 L804.7,317.7 L805.0,316.2 L805.4,314.8 L805.8,313.3 L806.2,311.8 L806.5,310.4 L806.9,308.9 L807.3,307.5 L807.6,306.0 L808.0,304.6 L808.4,303.1 L808.8,301.7 L809.1,300.2 L809.5,298.7 L809.9,297.3 L810.2,295.8 L810.6,294.4 L811.0,292.9 L811.4,291.5 L811.7,290.0 L812.1,288.6 L812.5,287.1 L812.9,285.7 L813.3,284.2 L813.6,282.7 L814.0,281.3 L814.4,279.8 L814.8,278.4 L815.2,276.9 L815.5,275.5 L815.9,274.0 L816.3,272.6 L816.7,271.1 L817.1,269.7 L817.5,268.2 L817.9,266.8 L818.3,265.3 L818.6,263.9 L819.0,262.4 L819.4,261.0 L819.8,259.5 L820.2,258.1 L820.6,256.6 L821.0,255.2 L821.4,253.7 L821.8,252.3 L822.2,250.8 L822.6,249.4 L823.0,247.9 L823.4,246.5 L823.8,245.0 L824.2,243.6 L824.6,242.1 L825.1,240.7 L825.5,239.3 L825.9,237.8 L826.3,236.4 L826.7,234.9 L827.1,233.5 L827.6,232.0 L828.0,230.6 L828.4,229.2 L828.8,227.7 L829.2,226.3 L829.7,224.8 L830.1,223.4 L830.5,222.0 L831.0,220.5 L831.4,219.1 L831.8,217.7 L832.3,216.2 L832.7,214.8 L833.2,213.4 L833.6,211.9 L834.1,210.5 L834.5,209.1 L835.0,207.6 L835.4,206.2 L835.9,204.8 L836.3,203.3 L836.8,201.9 L837.2,200.5 L837.7,199.1 L838.2,197.6 L838.6,196.2 L839.1,194.8 L839.6,193.4 L840.0,192.0 L840.5,190.5 L841.0,189.1 L841.5,187.7 L842.0,186.3 L842.4,184.9 L842.9,183.4 L843.4,182.0 L843.9,180.6 L844.4,179.2 L844.9,177.8 L845.4,176.4 L845.9,175.0 L846.4,173.6 L846.9,172.2 L847.4,170.7 L847.9,169.3 L848.5,167.9 L849.0,166.5 L849.5,165.1 L850.0,163.7 L850.5,162.3 L851.1,160.9 L851.6,159.5 L852.1,158.1 L852.7,156.7 L853.2,155.3 L853.8,154.0 L854.3,152.6 L854.9,151.2 L855.4,149.8 L856.0,148.4 L856.6,147.0 L857.2,145.7 L857.8,144.3 L858.4,142.9 L859.0,141.5 L859.6,140.2 L860.2,138.8 L860.8,137.5 L861.5,136.1 L862.1,134.8 L862.8,133.4 L863.5,132.1 L864.2,130.7 L864.8,129.4 L865.6,128.1 L866.3,126.8 L867.0,125.4 L867.7,124.1 L868.5,122.8 L869.3,121.5 L870.0,120.2 L870.8,118.9 L871.7,117.7 L872.5,116.4 L873.3,115.1 L874.2,113.9 L875.0,112.6 L875.9,111.3 L876.8,110.1 L877.8,108.9 L878.7,107.7 L879.7,106.5 L880.7,105.4 L881.8,104.3 L882.9,103.3 L884.0,102.3 L885.2,101.4 L886.5,100.5 L887.8,99.7 L889.1,99.0 L890.5,98.4 L892.0,97.8 L893.4,97.4 L894.9,97.1 L896.4,97.0 L897.8,96.9 L899.3,97.1 L900.7,97.3 L902.0,97.8 L903.4,98.3 L904.7,99.0 L905.9,99.7 L907.2,100.6 L908.4,101.5 L909.5,102.5 L910.7,103.5 L911.8,104.5 L912.8,105.6 L913.9,106.7 L914.9,107.8 L915.9,109.0 L916.8,110.2 L917.8,111.4 L918.7,112.6 L919.6,113.8 L920.5,115.1 L921.3,116.4 L922.2,117.6 L923.0,118.9 L923.8,120.2 L924.7,121.5 L925.4,122.8 L926.2,124.1 L927.0,125.4 L927.8,126.7 L928.5,128.0 L929.2,129.4 L929.9,130.7 L930.7,132.0 L931.4,133.4 L932.0,134.7 L932.7,136.0 L933.4,137.4 L934.0,138.7 L934.7,140.1 L935.3,141.5 L935.9,142.8 L936.5,144.2 L937.2,145.6 L937.7,146.9 L938.3,148.3 L938.9,149.7 L939.5,151.1 L940.0,152.5 L940.6,153.8 L941.1,155.2 L941.7,156.6 L942.2,158.0 L942.7,159.4 L943.2,160.8 L943.8,162.2 L944.3,163.6 L944.8,165.1 L945.2,166.5 L945.7,167.9 L946.2,169.3 L946.7,170.7 L947.1,172.1 L947.6,173.6 L948.1,175.0 L948.5,176.4 L949.0,177.8 L949.4,179.3 L949.8,180.7 L950.3,182.1 L950.7,183.6 L951.1,185.0 L951.6,186.4 L952.0,187.9 L952.4,189.3 L952.8,190.7 L953.2,192.2 L953.6,193.6 L954.1,195.1 L954.5,196.5 L954.9,197.9 L955.3,199.4 L955.7,200.8 L956.1,202.3 L956.5,203.7 L956.9,205.2 L957.3,206.6 L957.7,208.0 L958.1,209.5 L958.5,210.9 L958.8,212.4 L959.2,213.8 L959.6,215.3 L960.0,216.7 L960.4,218.2 L960.8,219.6 L961.2,221.1 L961.5,222.5 L961.9,224.0 L962.3,225.4 L962.7,226.9 L963.1,228.3 L963.4,229.8 L963.8,231.2 L964.2,232.7 L964.6,234.1 L964.9,235.6 L965.3,237.0 L965.7,238.5 L966.0,239.9 L966.4,241.4 L966.8,242.8 L967.1,244.3 L967.5,245.7 L967.9,247.2 L968.2,248.6 L968.6,250.1 L968.9,251.6 L969.3,253.0 L969.7,254.5 L970.0,255.9 L970.4,257.4 L970.7,258.8 L971.1,260.3 L971.4,261.8 L971.8,263.2 L972.1,264.7 L972.5,266.1 L972.8,267.6 L973.2,269.0 L973.5,270.5 L973.9,272.0 L974.2,273.4 L974.6,274.9 L974.9,276.3 L975.3,277.8 L975.6,279.3 L976.0,280.7 L976.3,282.2 L976.7,283.6 L977.0,285.1 L977.3,286.6 L977.7,288.0 L978.0,289.5 L978.4,290.9 L978.7,292.4 L979.1,293.9 L979.4,295.3 L979.7,296.8 L980.1,298.2 L980.4,299.7 L980.8,301.2 L981.1,302.6 L981.4,304.1 L981.8,305.6 L982.1,307.0 L982.4,308.5 L982.8,309.9 L983.1,311.4 L983.5,312.9 L983.8,314.3 L984.1,315.8 L984.5,317.3 L984.8,318.7 L985.1,320.2 L985.5,321.6 L985.8,323.1 L986.2,324.6 L986.5,326.0 L986.8,327.5 L987.2,329.0 L987.5,330.4 L987.8,331.9 L988.2,333.3 L988.5,334.8 L988.9,336.3 L989.2,337.7 L989.5,339.2 L989.9,340.7 L990.2,342.1 L990.6,343.6 L990.9,345.0 L991.2,346.5 L991.6,348.0 L991.9,349.4 L992.3,350.9 L992.6,352.4 L992.9,353.8 L993.3,355.3 L993.6,356.7 L994.0,358.2 L994.3,359.7 L994.6,361.1 L995.0,362.6 L995.3,364.0 L995.7,365.5 L996.0,367.0 L996.4,368.4 L996.7,369.9 L997.1,371.3 L997.4,372.8 L997.8,374.3 L998.1,375.7 L998.5,377.2 L998.8,378.6 L999.2,380.1 L999.5,381.6 L999.9,383.0 L1000.2,384.5 L1000.6,385.9 L1000.9,387.4 L1001.3,388.9 L1001.6,390.3 L1002.0,391.8 L1002.3,393.2 L1002.7,394.7 L1003.1,396.1 L1003.4,397.6 L1003.8,399.1 L1004.2,400.5 L1004.5,402.0 L1004.9,403.4 L1005.2,404.9 L1005.6,406.3 L1006.0,407.8 L1006.3,409.2 L1006.7,410.7 L1007.1,412.1 L1007.5,413.6 L1007.8,415.0 L1008.2,416.5 L1008.6,418.0 L1009.0,419.4 L1009.3,420.9 L1009.7,422.3 L1010.1,423.8 L1010.5,425.2 L1010.9,426.7 L1011.2,428.1 L1011.6,429.6 L1012.0,431.0 L1012.4,432.5 L1012.8,433.9 L1013.2,435.4 L1013.6,436.8 L1014.0,438.2 L1014.4,439.7 L1014.8,441.1 L1015.2,442.6 L1015.6,444.0 L1016.0,445.5 L1016.4,446.9 L1016.8,448.4 L1017.2,449.8 L1017.6,451.3 L1018.0,452.7 L1018.4,454.1 L1018.8,455.6 L1019.2,457.0 L1019.7,458.5 L1020.1,459.9 L1020.5,461.3 L1020.9,462.8 L1021.3,464.2 L1021.8,465.7 L1022.2,467.1 L1022.6,468.5 L1023.0,470.0 L1023.5,471.4 L1023.9,472.8 L1024.3,474.3 L1024.8,475.7 L1025.2,477.1 L1025.7,478.6 L1026.1,480.0 L1026.6,481.4 L1027.0,482.9 L1027.5,484.3 L1027.9,485.7 L1028.4,487.2 L1028.8,488.6 L1029.3,490.0 L1029.7,491.4 L1030.2,492.9 L1030.7,494.3 L1031.1,495.7 L1031.6,497.2 L1032.1,498.6 L1032.5,500.0 L1033.0,501.4 L1033.5,502.9 L1034.0,504.3 L1034.5,505.7 L1034.9,507.1 L1035.4,508.5 L1035.9,510.0 L1036.4,511.4 L1036.9,512.8 L1037.4,514.2 L1037.5,514.5" stroke="#b0bcff" stroke-width="2.25"/>
<path d="M729.5,501.5 L731.2,501.8 L733.0,502.1 L734.6,502.2 L736.3,502.4 L737.9,502.4 L739.5,502.4 L741.0,502.3 L742.6,502.2 L744.0,502.0 L745.5,501.7 L746.9,501.4 L748.4,501.0 L749.7,500.6 L751.1,500.1 L752.4,499.6 L753.7,499.0 L755.0,498.4 L756.2,497.7 L757.5,497.0 L758.7,496.3 L759.9,495.5 L761.0,494.6 L762.2,493.8 L763.3,492.9 L764.4,491.9 L765.4,490.9 L766.5,489.9 L767.5,488.9 L768.5,487.8 L769.5,486.7 L770.5,485.6 L771.5,484.5 L772.4,483.3 L773.4,482.1 L774.3,480.9 L775.2,479.7 L776.0,478.5 L776.9,477.2 L777.8,476.0 L778.6,474.7 L779.4,473.4 L780.3,472.1 L781.1,470.8 L781.9,469.5 L782.6,468.2 L783.4,466.9 L784.2,465.6 L784.9,464.2 L785.7,462.9 L786.4,461.6 L787.2,460.3 L787.9,458.9 L788.6,457.6 L789.3,456.3 L790.0,454.9 L790.6,453.6 L791.3,452.2 L792.0,450.9 L792.6,449.5 L793.3,448.2 L793.9,446.8 L794.6,445.4 L795.2,444.1 L795.8,442.7 L796.4,441.3 L797.0,440.0 L797.6,438.6 L798.2,437.2 L798.8,435.8 L799.3,434.4 L799.9,433.1 L800.5,431.7 L801.0,430.3 L801.6,428.9 L802.1,427.5 L802.6,426.1 L803.2,424.7 L803.7,423.3 L804.2,421.9 L804.7,420.5 L805.2,419.1 L805.7,417.7 L806.2,416.3 L806.7,414.8 L807.2,413.4 L807.6,412.0 L808.1,410.6 L808.6,409.2 L809.1,407.8 L809.5,406.3 L810.0,404.9 L810.4,403.5 L810.9,402.1 L811.3,400.6 L811.8,399.2 L812.2,397.8 L812.6,396.4 L813.1,394.9 L813.5,393.5 L813.9,392.0 L814.4,390.6 L814.8,389.2 L815.2,387.7 L815.6,386.3 L816.0,384.9 L816.4,383.4 L816.9,382.0 L817.3,380.5 L817.7,379.1 L818.1,377.7 L818.5,376.2 L818.9,374.8 L819.3,373.3 L819.7,371.9 L820.1,370.4 L820.5,369.0 L820.9,367.5 L821.3,366.1 L821.7,364.6 L822.1,363.2 L822.5,361.7 L822.9,360.3 L823.3,358.8 L823.7,357.4 L824.1,355.9 L824.5,354.5 L824.9,353.1 L825.3,351.6 L825.7,350.2 L826.1,348.7 L826.5,347.3 L826.9,345.8 L827.3,344.4 L827.7,342.9 L828.1,341.5 L828.5,340.0 L829.0,338.6 L829.4,337.1 L829.8,335.7 L830.2,334.2 L830.6,332.8 L831.1,331.4 L831.5,329.9 L831.9,328.5 L832.4,327.0 L832.8,325.6 L833.2,324.1 L833.7,322.7 L834.1,321.3 L834.5,319.8 L835.0,318.4 L835.4,316.9 L835.9,315.5 L836.3,314.1 L836.7,312.6 L837.2,311.2 L837.6,309.8 L838.1,308.3 L838.5,306.9 L839.0,305.5 L839.5,304.0 L839.9,302.6 L840.4,301.1 L840.8,299.7 L841.3,298.3 L841.8,296.8 L842.2,295.4 L842.7,294.0 L843.1,292.6 L843.6,291.1 L844.1,289.7 L844.5,288.3 L845.0,286.8 L845.5,285.4 L846.0,284.0 L846.4,282.5 L846.9,281.1 L847.4,279.7 L847.8,278.3 L848.3,276.8 L848.8,275.4 L849.3,274.0 L849.8,272.5 L850.2,271.1 L850.7,269.7 L851.2,268.3 L851.7,266.8 L852.2,265.4 L852.6,264.0 L853.1,262.6 L853.6,261.2 L854.1,259.7 L854.6,258.3 L855.1,256.9 L855.5,255.5 L856.0,254.0 L856.5,252.6 L857.0,251.2 L857.5,249.8 L858.0,248.4 L858.5,246.9 L859.0,245.5 L859.4,244.1 L859.9,242.7 L860.4,241.3 L860.9,239.9 L861.4,238.4 L861.9,237.0 L862.4,235.6 L862.9,234.2 L863.4,232.8 L863.9,231.4 L864.3,230.0 L864.8,228.5 L865.3,227.1 L865.8,225.7 L866.3,224.3 L866.8,222.9 L867.3,221.5 L867.8,220.1 L868.3,218.7 L868.8,217.2 L869.2,215.8 L869.7,214.4 L870.2,213.0 L870.7,211.6 L871.2,210.2 L871.7,208.8 L872.2,207.4 L872.7,206.0 L873.2,204.6 L873.6,203.2 L874.1,201.8 L874.6,200.4 L875.1,198.9 L875.6,197.5 L876.1,196.1 L876.6,194.7 L877.0,193.3 L877.5,191.9 L878.0,190.5 L878.5,189.1 L879.0,187.7 L879.5,186.3 L879.9,184.9 L880.4,183.5 L880.9,182.1 L881.4,180.7 L881.9,179.3 L882.4,177.9 L882.9,176.5 L883.4,175.1 L883.9,173.7 L884.4,172.3 L885.0,170.9 L885.5,169.5 L886.0,168.1 L886.5,166.8 L887.1,165.4 L887.6,164.0 L888.1,162.6 L888.7,161.2 L889.2,159.8 L889.8,158.4 L890.4,157.0 L890.9,155.6 L891.5,154.2 L892.1,152.9 L892.7,151.5 L893.3,150.1 L893.9,148.7 L894.5,147.3 L895.2,145.9 L895.8,144.5 L896.5,143.2 L897.1,141.8 L897.8,140.4 L898.5,139.0 L899.1,137.6 L899.8,136.3 L900.5,134.9 L901.3,133.5 L902.0,132.2 L902.7,130.8 L903.5,129.4 L904.3,128.1 L905.1,126.8 L905.9,125.4 L906.7,124.1 L907.5,122.8 L908.3,121.6 L909.2,120.3 L910.1,119.0 L911.0,117.8 L911.9,116.6 L912.8,115.5 L913.8,114.3 L914.8,113.2 L915.8,112.1 L916.8,111.0 L917.9,110.0 L918.9,109.0 L920.0,108.0 L921.1,107.1 L922.3,106.1 L923.4,105.3 L924.6,104.5 L925.8,103.7 L927.1,102.9 L928.3,102.2 L929.6,101.6 L931.0,101.0 L932.3,100.4 L933.7,99.9 L935.1,99.4 L936.5,99.0 L938.0,98.7 L939.5,98.3 L941.1,98.1 L942.6,98.0 L944.1,98.0 L945.6,98.1 L947.0,98.5 L948.3,99.1 L949.5,99.9 L950.7,100.8 L951.9,101.8 L953.0,102.8 L954.1,104.0 L955.1,105.1 L956.1,106.3 L957.2,107.5 L958.1,108.7 L959.1,109.9 L960.0,111.1 L960.9,112.3 L961.8,113.6 L962.7,114.8 L963.6,116.1 L964.4,117.3 L965.2,118.6 L966.1,119.9 L966.8,121.1 L967.6,122.4 L968.4,123.7 L969.1,125.0 L969.9,126.3 L970.6,127.7 L971.3,129.0 L972.0,130.3 L972.7,131.6 L973.3,133.0 L974.0,134.3 L974.6,135.7 L975.3,137.0 L975.9,138.4 L976.5,139.7 L977.2,141.1 L977.8,142.5 L978.4,143.8 L979.0,145.2 L979.6,146.6 L980.2,147.9 L980.7,149.3 L981.3,150.7 L981.9,152.1 L982.5,153.5 L983.0,154.8 L983.6,156.2 L984.2,157.6 L984.7,159.0 L985.3,160.4 L985.8,161.8 L986.4,163.2 L986.9,164.6 L987.5,166.0 L988.0,167.4 L988.5,168.8 L989.1,170.2 L989.6,171.6 L990.1,173.0 L990.6,174.4 L991.1,175.8 L991.7,177.2 L992.2,178.6 L992.7,180.0 L993.2,181.4 L993.7,182.9 L994.2,184.3 L994.7,185.7 L995.2,187.1 L995.7,188.5 L996.2,189.9 L996.7,191.4 L997.2,192.8 L997.7,194.2 L998.2,195.6 L998.7,197.0 L999.1,198.5 L999.6,199.9 L1000.1,201.3 L1000.6,202.7 L1001.1,204.1 L1001.6,205.6 L1002.0,207.0 L1002.5,208.4 L1003.0,209.8 L1003.5,211.3 L1003.9,212.7 L1004.4,214.1 L1004.9,215.6 L1005.4,217.0 L1005.8,218.4 L1006.3,219.8 L1006.8,221.3 L1007.3,222.7 L1007.7,224.1 L1008.2,225.5 L1008.7,227.0 L1009.2,228.4 L1009.6,229.8 L1010.1,231.3 L1010.6,232.7 L1011.1,234.1 L1011.5,235.5 L1012.0,237.0 L1012.5,238.4 L1013.0,239.8 L1013.4,241.2 L1013.9,242.7 L1014.4,244.1 L1014.9,245.5 L1015.4,246.9 L1015.9,248.4 L1016.3,249.8 L1016.8,251.2 L1017.3,252.6 L1017.8,254.0 L1018.3,255.5 L1018.8,256.9 L1019.3,258.3 L1019.8,259.7 L1020.3,261.1 L1020.8,262.6 L1021.3,264.0 L1021.8,265.4 L1022.3,266.8 L1022.8,268.2 L1023.4,269.6 L1023.9,271.0 L1024.4,272.4 L1024.9,273.8 L1025.4,275.2 L1026.0,276.6 L1026.5,278.0 L1027.0,279.4 L1027.6,280.9 L1028.1,282.2 L1028.6,283.6 L1029.2,285.0 L1029.7,286.4 L1030.3,287.8 L1030.8,289.2 L1031.4,290.6 L1031.9,292.0 L1032.5,293.4 L1033.0,294.8 L1033.6,296.2 L1034.2,297.6 L1034.7,299.0 L1035.3,300.3 L1035.9,301.7 L1036.5,303.1 L1037.0,304.5 L1037.6,305.9 L1038.2,307.3 L1038.8,308.6 L1039.4,310.0 L1040.0,311.4 L1040.5,312.8 L1041.1,314.1 L1041.7,315.5 L1042.3,316.9 L1042.9,318.3 L1043.5,319.6 L1044.1,321.0 L1044.7,322.4 L1045.4,323.7 L1046.0,325.1 L1046.6,326.5 L1047.2,327.8 L1047.8,329.2 L1048.4,330.6 L1049.1,331.9 L1049.7,333.3 L1050.3,334.6 L1050.9,336.0 L1051.6,337.3 L1052.2,338.7 L1052.9,340.1 L1053.5,341.4 L1054.1,342.8 L1054.8,344.1 L1055.4,345.5 L1056.1,346.8 L1056.7,348.2 L1057.4,349.5 L1058.0,350.9 L1058.7,352.2 L1059.3,353.5 L1060.0,354.9 L1060.7,356.2 L1061.3,357.6 L1062.0,358.9 L1062.7,360.3 L1063.4,361.6 L1064.0,362.9 L1064.7,364.3 L1065.4,365.6 L1066.1,366.9 L1066.7,368.3 L1067.4,369.6 L1068.1,370.9 L1068.8,372.3 L1069.5,373.6 L1070.2,374.9 L1070.9,376.2 L1071.6,377.6 L1072.3,378.9 L1073.0,380.2 L1073.7,381.5 L1074.4,382.9 L1075.1,384.2 L1075.8,385.5 L1076.5,386.8 L1077.2,388.1 L1078.0,389.5 L1078.7,390.8 L1079.4,392.1 L1080.1,393.4 L1080.8,394.7 L1081.6,396.0 L1082.3,397.3 L1083.0,398.7 L1083.7,400.0 L1084.5,401.3 L1085.2,402.6 L1086.0,403.9 L1086.7,405.2 L1087.4,406.5 L1088.2,407.8 L1088.9,409.1 L1089.7,410.4 L1090.4,411.7 L1091.2,413.0 L1091.9,414.3 L1092.7,415.6 L1093.4,416.9 L1094.2,418.2 L1095.0,419.5 L1095.7,420.8 L1096.5,422.1 L1097.2,423.4 L1098.0,424.7 L1098.8,426.0 L1099.5,427.3 L1100.3,428.5 L1101.1,429.8 L1101.9,431.1 L1102.7,432.4 L1103.4,433.7 L1104.2,435.0 L1105.0,436.3 L1105.8,437.5 L1106.6,438.8 L1107.4,440.1 L1108.1,441.4 L1108.9,442.7 L1109.7,443.9 L1110.5,445.2 L1111.3,446.5 L1112.1,447.8 L1112.9,449.0 L1113.8,450.3 L1114.6,451.6 L1115.4,452.8 L1116.2,454.1 L1117.0,455.3 L1117.8,456.6 L1118.7,457.9 L1119.5,459.1 L1120.3,460.4 L1121.2,461.6 L1122.0,462.9 L1122.9,464.1 L1123.7,465.3 L1124.6,466.6 L1125.4,467.8 L1126.3,469.0 L1127.1,470.3 L1128.0,471.5 L1128.9,472.7 L1129.8,473.9 L1130.6,475.1 L1131.5,476.3 L1132.4,477.5 L1133.3,478.7 L1134.2,479.9 L1135.1,481.1 L1136.0,482.3 L1136.9,483.5 L1137.9,484.7 L1138.8,485.9 L1139.7,487.0 L1140.7,488.2 L1141.6,489.3 L1142.6,490.5 L1143.5,491.7 L1144.5,492.8 L1145.4,493.9 L1146.4,495.1 L1147.4,496.2 L1148.4,497.3 L1149.4,498.5 L1150.4,499.6 L1151.4,500.7 L1152.4,501.8 L1153.4,502.9 L1154.4,504.0 L1155.4,505.0 L1156.5,506.1 L1157.5,507.2 L1158.6,508.3 L1159.6,509.3 L1160.7,510.4 L1161.8,511.4 L1162.8,512.5 L1163.9,513.5 L1165.0,514.5" stroke="#4d62ff" stroke-width="2.3"/>
<path d="M729.5,508.2 L731.0,508.2 L732.4,508.0 L733.9,507.9 L735.4,507.7 L736.9,507.6 L738.4,507.4 L739.8,507.2 L741.3,506.9 L742.8,506.7 L744.3,506.4 L745.7,506.1 L747.2,505.8 L748.7,505.4 L750.2,505.1 L751.6,504.7 L753.1,504.3 L754.5,503.9 L756.0,503.5 L757.5,503.0 L758.9,502.5 L760.3,502.1 L761.8,501.6 L763.2,501.0 L764.6,500.5 L766.0,499.9 L767.4,499.4 L768.8,498.8 L770.2,498.1 L771.6,497.5 L773.0,496.9 L774.4,496.2 L775.7,495.5 L777.1,494.8 L778.4,494.1 L779.7,493.4 L781.1,492.6 L782.4,491.9 L783.6,491.1 L784.9,490.3 L786.2,489.5 L787.4,488.6 L788.7,487.8 L789.9,486.9 L791.1,486.1 L792.3,485.2 L793.5,484.3 L794.7,483.3 L795.8,482.4 L797.0,481.5 L798.1,480.5 L799.2,479.5 L800.3,478.5 L801.4,477.5 L802.4,476.5 L803.5,475.4 L804.5,474.4 L805.5,473.3 L806.5,472.3 L807.5,471.2 L808.4,470.1 L809.4,469.0 L810.3,467.8 L811.3,466.7 L812.2,465.6 L813.1,464.4 L814.0,463.2 L814.8,462.0 L815.7,460.9 L816.6,459.7 L817.4,458.4 L818.2,457.2 L819.0,456.0 L819.8,454.7 L820.6,453.5 L821.4,452.2 L822.2,451.0 L823.0,449.7 L823.7,448.4 L824.4,447.1 L825.2,445.8 L825.9,444.5 L826.6,443.2 L827.3,441.9 L828.0,440.6 L828.7,439.2 L829.4,437.9 L830.0,436.5 L830.7,435.2 L831.4,433.8 L832.0,432.5 L832.6,431.1 L833.3,429.7 L833.9,428.3 L834.5,427.0 L835.1,425.6 L835.7,424.2 L836.3,422.8 L836.9,421.4 L837.5,420.0 L838.1,418.6 L838.7,417.2 L839.3,415.8 L839.8,414.4 L840.4,412.9 L840.9,411.5 L841.5,410.1 L842.1,408.7 L842.6,407.3 L843.2,405.8 L843.7,404.4 L844.2,403.0 L844.8,401.6 L845.3,400.1 L845.9,398.7 L846.4,397.3 L846.9,395.9 L847.4,394.4 L848.0,393.0 L848.5,391.6 L849.0,390.2 L849.5,388.7 L850.1,387.3 L850.6,385.9 L851.1,384.5 L851.6,383.0 L852.1,381.6 L852.6,380.2 L853.1,378.8 L853.6,377.3 L854.1,375.9 L854.6,374.5 L855.1,373.1 L855.6,371.6 L856.1,370.2 L856.6,368.8 L857.1,367.4 L857.6,365.9 L858.1,364.5 L858.6,363.1 L859.0,361.7 L859.5,360.2 L860.0,358.8 L860.5,357.4 L861.0,356.0 L861.5,354.5 L861.9,353.1 L862.4,351.7 L862.9,350.3 L863.4,348.8 L863.8,347.4 L864.3,346.0 L864.8,344.5 L865.2,343.1 L865.7,341.7 L866.2,340.3 L866.6,338.8 L867.1,337.4 L867.6,336.0 L868.0,334.6 L868.5,333.1 L868.9,331.7 L869.4,330.3 L869.9,328.9 L870.3,327.4 L870.8,326.0 L871.2,324.6 L871.7,323.2 L872.2,321.7 L872.6,320.3 L873.1,318.9 L873.5,317.5 L874.0,316.0 L874.4,314.6 L874.9,313.2 L875.3,311.7 L875.8,310.3 L876.2,308.9 L876.7,307.5 L877.1,306.1 L877.6,304.6 L878.0,303.2 L878.5,301.8 L878.9,300.4 L879.4,298.9 L879.8,297.5 L880.3,296.1 L880.7,294.7 L881.2,293.2 L881.6,291.8 L882.1,290.4 L882.5,289.0 L883.0,287.5 L883.4,286.1 L883.9,284.7 L884.3,283.3 L884.8,281.8 L885.2,280.4 L885.7,279.0 L886.1,277.6 L886.6,276.2 L887.0,274.7 L887.5,273.3 L887.9,271.9 L888.4,270.5 L888.8,269.1 L889.3,267.6 L889.7,266.2 L890.2,264.8 L890.6,263.4 L891.1,262.0 L891.5,260.5 L892.0,259.1 L892.5,257.7 L892.9,256.3 L893.4,254.9 L893.8,253.4 L894.3,252.0 L894.8,250.6 L895.2,249.2 L895.7,247.8 L896.1,246.4 L896.6,244.9 L897.1,243.5 L897.5,242.1 L898.0,240.7 L898.5,239.3 L899.0,237.9 L899.4,236.4 L899.9,235.0 L900.4,233.6 L900.8,232.2 L901.3,230.8 L901.8,229.4 L902.3,228.0 L902.8,226.5 L903.2,225.1 L903.7,223.7 L904.2,222.3 L904.7,220.9 L905.2,219.5 L905.7,218.1 L906.2,216.7 L906.6,215.3 L907.1,213.8 L907.6,212.4 L908.1,211.0 L908.6,209.6 L909.1,208.2 L909.6,206.8 L910.1,205.4 L910.6,204.0 L911.2,202.6 L911.7,201.2 L912.2,199.8 L912.7,198.4 L913.2,197.0 L913.7,195.6 L914.2,194.1 L914.8,192.7 L915.3,191.3 L915.8,189.9 L916.3,188.5 L916.9,187.1 L917.4,185.7 L917.9,184.3 L918.5,182.9 L919.0,181.5 L919.6,180.1 L920.1,178.7 L920.6,177.3 L921.2,175.9 L921.7,174.5 L922.3,173.1 L922.9,171.7 L923.4,170.3 L924.0,168.9 L924.5,167.5 L925.1,166.1 L925.7,164.7 L926.3,163.3 L926.8,161.9 L927.4,160.5 L928.0,159.1 L928.6,157.7 L929.2,156.3 L929.7,154.9 L930.3,153.5 L930.9,152.1 L931.5,150.7 L932.1,149.3 L932.7,147.9 L933.3,146.5 L934.0,145.1 L934.6,143.7 L935.2,142.3 L935.8,140.9 L936.4,139.5 L937.1,138.1 L937.7,136.7 L938.3,135.3 L939.0,134.0 L939.6,132.6 L940.3,131.2 L940.9,129.8 L941.6,128.4 L942.3,127.0 L943.0,125.7 L943.7,124.3 L944.4,123.0 L945.1,121.7 L945.9,120.4 L946.7,119.1 L947.5,117.8 L948.3,116.5 L949.1,115.3 L950.0,114.1 L950.9,112.9 L951.8,111.7 L952.7,110.6 L953.7,109.5 L954.7,108.4 L955.7,107.3 L956.8,106.3 L957.9,105.3 L959.0,104.3 L960.2,103.4 L961.4,102.5 L962.6,101.7 L963.9,100.8 L965.2,100.1 L966.5,99.4 L967.9,98.7 L969.3,98.2 L970.7,97.8 L972.1,97.4 L973.5,97.2 L975.0,97.2 L976.4,97.3 L977.8,97.5 L979.2,97.9 L980.5,98.3 L981.9,98.9 L983.2,99.6 L984.5,100.3 L985.8,101.1 L987.1,101.9 L988.3,102.8 L989.5,103.7 L990.6,104.7 L991.7,105.6 L992.8,106.6 L993.9,107.7 L994.9,108.7 L995.9,109.8 L996.9,110.9 L997.8,112.1 L998.7,113.2 L999.6,114.4 L1000.5,115.6 L1001.4,116.8 L1002.2,118.0 L1003.1,119.3 L1003.9,120.5 L1004.7,121.8 L1005.4,123.1 L1006.2,124.4 L1006.9,125.7 L1007.7,127.0 L1008.4,128.4 L1009.1,129.7 L1009.8,131.1 L1010.5,132.4 L1011.2,133.8 L1011.9,135.1 L1012.6,136.5 L1013.3,137.8 L1014.0,139.2 L1014.6,140.6 L1015.3,141.9 L1016.0,143.3 L1016.7,144.7 L1017.3,146.0 L1018.0,147.4 L1018.7,148.8 L1019.3,150.1 L1020.0,151.5 L1020.6,152.9 L1021.3,154.2 L1021.9,155.6 L1022.6,157.0 L1023.2,158.3 L1023.8,159.7 L1024.5,161.1 L1025.1,162.4 L1025.7,163.8 L1026.4,165.2 L1027.0,166.6 L1027.6,167.9 L1028.2,169.3 L1028.8,170.7 L1029.5,172.1 L1030.1,173.4 L1030.7,174.8 L1031.3,176.2 L1031.9,177.6 L1032.5,179.0 L1033.1,180.3 L1033.7,181.7 L1034.3,183.1 L1034.9,184.5 L1035.5,185.9 L1036.1,187.2 L1036.7,188.6 L1037.3,190.0 L1037.9,191.4 L1038.4,192.8 L1039.0,194.2 L1039.6,195.6 L1040.2,196.9 L1040.8,198.3 L1041.3,199.7 L1041.9,201.1 L1042.5,202.5 L1043.1,203.9 L1043.6,205.3 L1044.2,206.7 L1044.8,208.0 L1045.3,209.4 L1045.9,210.8 L1046.5,212.2 L1047.0,213.6 L1047.6,215.0 L1048.1,216.4 L1048.7,217.8 L1049.3,219.2 L1049.8,220.6 L1050.4,222.0 L1050.9,223.3 L1051.5,224.7 L1052.0,226.1 L1052.6,227.5 L1053.1,228.9 L1053.7,230.3 L1054.2,231.7 L1054.7,233.1 L1055.3,234.5 L1055.8,235.9 L1056.4,237.3 L1056.9,238.7 L1057.5,240.1 L1058.0,241.5 L1058.5,242.9 L1059.1,244.3 L1059.6,245.7 L1060.2,247.1 L1060.7,248.4 L1061.2,249.8 L1061.8,251.2 L1062.3,252.6 L1062.8,254.0 L1063.4,255.4 L1063.9,256.8 L1064.4,258.2 L1065.0,259.6 L1065.5,261.0 L1066.0,262.4 L1066.6,263.8 L1067.1,265.2 L1067.6,266.6 L1068.2,268.0 L1068.7,269.4 L1069.2,270.8 L1069.8,272.2 L1070.3,273.6 L1070.8,275.0 L1071.4,276.4 L1071.9,277.8 L1072.4,279.2 L1073.0,280.6 L1073.5,282.0 L1074.0,283.4 L1074.6,284.8 L1075.1,286.2 L1075.6,287.6 L1076.2,289.0 L1076.7,290.4 L1077.2,291.8 L1077.8,293.2 L1078.3,294.6 L1078.8,296.0 L1079.4,297.3 L1079.9,298.7 L1080.4,300.1 L1081.0,301.5 L1081.5,302.9 L1082.1,304.3 L1082.6,305.7 L1083.1,307.1 L1083.7,308.5 L1084.2,309.9 L1084.8,311.3 L1085.3,312.7 L1085.9,314.1 L1086.4,315.5 L1087.0,316.9 L1087.5,318.3 L1088.1,319.7 L1088.6,321.1 L1089.2,322.4 L1089.7,323.8 L1090.3,325.2 L1090.8,326.6 L1091.4,328.0 L1091.9,329.4 L1092.5,330.8 L1093.0,332.2 L1093.6,333.6 L1094.2,335.0 L1094.7,336.4 L1095.3,337.7 L1095.9,339.1 L1096.4,340.5 L1097.0,341.9 L1097.6,343.3 L1098.2,344.7 L1098.7,346.1 L1099.3,347.5 L1099.9,348.8 L1100.5,350.2 L1101.1,351.6 L1101.6,353.0 L1102.2,354.4 L1102.8,355.8 L1103.4,357.1 L1104.0,358.5 L1104.6,359.9 L1105.2,361.3 L1105.8,362.7 L1106.4,364.0 L1107.0,365.4 L1107.6,366.8 L1108.2,368.2 L1108.8,369.5 L1109.4,370.9 L1110.0,372.3 L1110.6,373.6 L1111.3,375.0 L1111.9,376.4 L1112.5,377.8 L1113.1,379.1 L1113.8,380.5 L1114.4,381.8 L1115.0,383.2 L1115.7,384.6 L1116.3,385.9 L1116.9,387.3 L1117.6,388.6 L1118.2,390.0 L1118.9,391.4 L1119.5,392.7 L1120.2,394.1 L1120.9,395.4 L1121.5,396.8 L1122.2,398.1 L1122.8,399.5 L1123.5,400.8 L1124.2,402.1 L1124.9,403.5 L1125.6,404.8 L1126.2,406.2 L1126.9,407.5 L1127.6,408.8 L1128.3,410.2 L1129.0,411.5 L1129.7,412.8 L1130.4,414.1 L1131.1,415.5 L1131.8,416.8 L1132.5,418.1 L1133.3,419.4 L1134.0,420.7 L1134.7,422.1 L1135.4,423.4 L1136.2,424.7 L1136.9,426.0 L1137.6,427.3 L1138.4,428.6 L1139.1,429.9 L1139.9,431.2 L1140.6,432.5 L1141.4,433.8 L1142.2,435.1 L1142.9,436.4 L1143.7,437.7 L1144.5,438.9 L1145.3,440.2 L1146.0,441.5 L1146.8,442.8 L1147.6,444.0 L1148.4,445.3 L1149.2,446.6 L1150.0,447.9 L1150.8,449.1 L1151.7,450.4 L1152.5,451.6 L1153.3,452.9 L1154.1,454.1 L1155.0,455.4 L1155.8,456.6 L1156.6,457.9 L1157.5,459.1 L1158.3,460.4 L1159.2,461.6 L1160.1,462.8 L1160.9,464.1 L1161.8,465.3 L1162.7,466.5 L1163.5,467.7 L1164.4,468.9 L1165.3,470.1 L1166.2,471.4 L1167.1,472.6 L1168.0,473.7 L1169.0,474.9 L1169.9,476.1 L1170.8,477.3 L1171.8,478.5 L1172.7,479.6 L1173.6,480.8 L1174.6,481.9 L1175.6,483.1 L1176.6,484.2 L1177.5,485.3 L1178.5,486.5 L1179.5,487.6 L1180.5,488.7 L1181.6,489.8 L1182.6,490.9 L1183.6,491.9 L1184.7,493.0 L1185.7,494.0 L1186.8,495.1 L1187.9,496.1 L1189.0,497.1 L1190.1,498.2 L1191.2,499.2 L1192.3,500.1 L1193.4,501.1 L1194.6,502.1 L1195.7,503.0 L1196.9,504.0 L1198.1,504.9 L1199.3,505.8 L1200.5,506.7 L1201.7,507.6 L1202.9,508.5 L1204.1,509.3 L1205.4,510.2 L1206.6,511.0 L1207.9,511.8 L1209.2,512.6 L1210.5,513.4 L1211.8,514.1 L1212.5,514.5" stroke="#0000ff" stroke-width="2.45"/>
</g>
<g class="t" font-size="19" text-anchor="middle" fill="#000">
<text x="729.5" y="538.5">0</text>
<text x="807.3" y="538.5">10</text>
<text x="885.1" y="538.5">20</text>
<text x="962.9" y="538.5">30</text>
<text x="1040.7" y="538.5">40</text>
<text x="1118.4" y="538.5">50</text>
<text x="1196.2" y="538.5">60</text>
<text x="1274.0" y="538.5">70</text>
<text x="1351.8" y="538.5">80</text>
</g>
<text x="1040.7" y="574.4" font-size="23.8" class="t" text-anchor="middle">Ion energy [eV]</text>
<rect x="1379.7" y="55.0" width="615.8999999999999" height="452.75" fill="none" stroke="#000" stroke-width="2.1"/>
<path d="M1418.19,507.75 v-4.4 M1418.19,55.0 v4.4 M1456.69,507.75 v-8.8 M1456.69,55.0 v8.8 M1495.18,507.75 v-4.4 M1495.18,55.0 v4.4 M1533.67,507.75 v-8.8 M1533.67,55.0 v8.8 M1572.17,507.75 v-4.4 M1572.17,55.0 v4.4 M1610.66,507.75 v-8.8 M1610.66,55.0 v8.8 M1649.16,507.75 v-4.4 M1649.16,55.0 v4.4 M1687.65,507.75 v-8.8 M1687.65,55.0 v8.8 M1726.14,507.75 v-4.4 M1726.14,55.0 v4.4 M1764.64,507.75 v-8.8 M1764.64,55.0 v8.8 M1803.13,507.75 v-4.4 M1803.13,55.0 v4.4 M1841.62,507.75 v-8.8 M1841.62,55.0 v8.8 M1880.12,507.75 v-4.4 M1880.12,55.0 v4.4 M1918.61,507.75 v-8.8 M1918.61,55.0 v8.8 M1957.11,507.75 v-4.4 M1957.11,55.0 v4.4 M1379.7,491.29 h4.4 M1379.7,474.82 h4.4 M1379.7,458.36 h4.4 M1379.7,441.90 h4.4 M1379.7,425.43 h8.8 M1379.7,408.97 h4.4 M1379.7,392.50 h4.4 M1379.7,376.04 h4.4 M1379.7,359.58 h4.4 M1379.7,343.11 h8.8 M1379.7,326.65 h4.4 M1379.7,310.19 h4.4 M1379.7,293.72 h4.4 M1379.7,277.26 h4.4 M1379.7,260.80 h8.8 M1379.7,244.33 h4.4 M1379.7,227.87 h4.4 M1379.7,211.40 h4.4 M1379.7,194.94 h4.4 M1379.7,178.48 h8.8 M1379.7,162.01 h4.4 M1379.7,145.55 h4.4 M1379.7,129.09 h4.4 M1379.7,112.62 h4.4 M1379.7,96.16 h8.8 M1379.7,79.70 h4.4 M1379.7,63.23 h4.4" stroke="#000" stroke-width="2.1" fill="none"/>
<clipPath id="cp3"><rect x="1378.7" y="54.0" width="617.8999999999999" height="454.75"/></clipPath>
<g clip-path="url(#cp3)" fill="none" stroke-linejoin="round" stroke-linecap="butt">
<path d="M1380.0,500.8 L1380.9,499.5 L1381.8,498.3 L1382.6,497.1 L1383.5,495.9 L1384.4,494.6 L1385.2,493.4 L1386.1,492.2 L1386.9,490.9 L1387.8,489.7 L1388.6,488.5 L1389.4,487.2 L1390.3,486.0 L1391.1,484.7 L1391.9,483.5 L1392.7,482.2 L1393.6,481.0 L1394.4,479.7 L1395.2,478.4 L1396.0,477.2 L1396.8,475.9 L1397.6,474.6 L1398.4,473.4 L1399.2,472.1 L1399.9,470.8 L1400.7,469.5 L1401.5,468.3 L1402.3,467.0 L1403.0,465.7 L1403.8,464.4 L1404.6,463.1 L1405.3,461.8 L1406.1,460.5 L1406.8,459.2 L1407.6,457.9 L1408.3,456.6 L1409.1,455.3 L1409.8,454.0 L1410.5,452.7 L1411.3,451.4 L1412.0,450.1 L1412.7,448.8 L1413.4,447.5 L1414.1,446.1 L1414.8,444.8 L1415.6,443.5 L1416.3,442.2 L1417.0,440.9 L1417.7,439.5 L1418.3,438.2 L1419.0,436.9 L1419.7,435.5 L1420.4,434.2 L1421.1,432.9 L1421.8,431.5 L1422.4,430.2 L1423.1,428.8 L1423.8,427.5 L1424.4,426.1 L1425.1,424.8 L1425.7,423.4 L1426.4,422.1 L1427.0,420.7 L1427.7,419.4 L1428.3,418.0 L1429.0,416.7 L1429.6,415.3 L1430.2,414.0 L1430.9,412.6 L1431.5,411.2 L1432.1,409.9 L1432.7,408.5 L1433.3,407.1 L1434.0,405.8 L1434.6,404.4 L1435.2,403.0 L1435.8,401.6 L1436.4,400.3 L1437.0,398.9 L1437.6,397.5 L1438.2,396.1 L1438.7,394.7 L1439.3,393.4 L1439.9,392.0 L1440.5,390.6 L1441.1,389.2 L1441.6,387.8 L1442.2,386.4 L1442.8,385.0 L1443.4,383.6 L1443.9,382.3 L1444.5,380.9 L1445.0,379.5 L1445.6,378.1 L1446.1,376.7 L1446.7,375.3 L1447.2,373.9 L1447.8,372.5 L1448.3,371.1 L1448.9,369.7 L1449.4,368.3 L1449.9,366.9 L1450.5,365.5 L1451.0,364.0 L1451.5,362.6 L1452.0,361.2 L1452.5,359.8 L1453.1,358.4 L1453.6,357.0 L1454.1,355.6 L1454.6,354.2 L1455.1,352.8 L1455.6,351.4 L1456.1,349.9 L1456.6,348.5 L1457.1,347.1 L1457.6,345.7 L1458.1,344.3 L1458.6,342.8 L1459.1,341.4 L1459.6,340.0 L1460.0,338.6 L1460.5,337.2 L1461.0,335.7 L1461.5,334.3 L1462.0,332.9 L1462.4,331.5 L1462.9,330.1 L1463.4,328.6 L1463.8,327.2 L1464.3,325.8 L1464.8,324.3 L1465.2,322.9 L1465.7,321.5 L1466.1,320.1 L1466.6,318.6 L1467.1,317.2 L1467.5,315.8 L1468.0,314.4 L1468.4,312.9 L1468.9,311.5 L1469.3,310.1 L1469.7,308.6 L1470.2,307.2 L1470.6,305.8 L1471.1,304.3 L1471.5,302.9 L1472.0,301.5 L1472.4,300.0 L1472.8,298.6 L1473.3,297.2 L1473.7,295.7 L1474.1,294.3 L1474.6,292.9 L1475.0,291.4 L1475.4,290.0 L1475.9,288.6 L1476.3,287.1 L1476.7,285.7 L1477.1,284.3 L1477.6,282.8 L1478.0,281.4 L1478.4,279.9 L1478.9,278.5 L1479.3,277.1 L1479.7,275.6 L1480.1,274.2 L1480.6,272.8 L1481.0,271.3 L1481.4,269.9 L1481.8,268.5 L1482.3,267.0 L1482.7,265.6 L1483.1,264.1 L1483.5,262.7 L1483.9,261.3 L1484.4,259.8 L1484.8,258.4 L1485.2,257.0 L1485.6,255.5 L1486.1,254.1 L1486.5,252.7 L1486.9,251.2 L1487.4,249.8 L1487.8,248.3 L1488.2,246.9 L1488.6,245.5 L1489.1,244.0 L1489.5,242.6 L1489.9,241.2 L1490.3,239.7 L1490.8,238.3 L1491.2,236.9 L1491.6,235.4 L1492.1,234.0 L1492.5,232.6 L1492.9,231.1 L1493.4,229.7 L1493.8,228.3 L1494.3,226.8 L1494.7,225.4 L1495.1,224.0 L1495.6,222.5 L1496.0,221.1 L1496.5,219.7 L1496.9,218.3 L1497.4,216.8 L1497.8,215.4 L1498.3,214.0 L1498.7,212.5 L1499.2,211.1 L1499.6,209.7 L1500.1,208.3 L1500.5,206.8 L1501.0,205.4 L1501.5,204.0 L1501.9,202.6 L1502.4,201.1 L1502.9,199.7 L1503.3,198.3 L1503.8,196.9 L1504.3,195.4 L1504.8,194.0 L1505.2,192.6 L1505.7,191.2 L1506.2,189.8 L1506.7,188.4 L1507.2,186.9 L1507.7,185.5 L1508.2,184.1 L1508.6,182.7 L1509.1,181.3 L1509.6,179.9 L1510.1,178.4 L1510.7,177.0 L1511.2,175.6 L1511.7,174.2 L1512.2,172.8 L1512.7,171.4 L1513.2,170.0 L1513.7,168.6 L1514.3,167.2 L1514.8,165.8 L1515.3,164.4 L1515.9,163.0 L1516.4,161.6 L1516.9,160.2 L1517.5,158.8 L1518.0,157.4 L1518.6,156.0 L1519.1,154.6 L1519.7,153.2 L1520.3,151.8 L1520.9,150.4 L1521.5,149.0 L1522.0,147.6 L1522.6,146.2 L1523.3,144.9 L1523.9,143.5 L1524.5,142.1 L1525.1,140.8 L1525.8,139.4 L1526.4,138.0 L1527.1,136.7 L1527.8,135.3 L1528.5,134.0 L1529.2,132.7 L1529.9,131.3 L1530.6,130.0 L1531.3,128.7 L1532.1,127.4 L1532.9,126.0 L1533.6,124.7 L1534.4,123.4 L1535.2,122.1 L1536.1,120.8 L1536.9,119.6 L1537.7,118.3 L1538.6,117.0 L1539.5,115.8 L1540.4,114.5 L1541.3,113.3 L1542.2,112.0 L1543.2,110.8 L1544.2,109.6 L1545.2,108.5 L1546.2,107.3 L1547.3,106.2 L1548.4,105.2 L1549.5,104.2 L1550.6,103.3 L1551.8,102.4 L1553.0,101.6 L1554.3,100.9 L1555.6,100.2 L1556.9,99.6 L1558.3,99.1 L1559.7,98.7 L1561.1,98.3 L1562.5,98.0 L1563.9,97.8 L1565.4,97.6 L1566.8,97.5 L1568.3,97.5 L1569.7,97.6 L1571.1,97.7 L1572.6,98.0 L1574.0,98.2 L1575.4,98.6 L1576.8,99.0 L1578.2,99.5 L1579.5,100.1 L1580.8,100.8 L1582.1,101.5 L1583.3,102.3 L1584.5,103.2 L1585.7,104.1 L1586.8,105.1 L1587.9,106.1 L1589.0,107.2 L1590.0,108.4 L1591.1,109.5 L1592.1,110.7 L1593.0,111.9 L1594.0,113.1 L1594.9,114.3 L1595.9,115.6 L1596.8,116.8 L1597.7,118.1 L1598.5,119.3 L1599.4,120.6 L1600.2,121.9 L1601.1,123.1 L1601.9,124.4 L1602.7,125.7 L1603.5,127.0 L1604.2,128.3 L1605.0,129.6 L1605.7,130.9 L1606.5,132.2 L1607.2,133.6 L1607.9,134.9 L1608.6,136.2 L1609.2,137.6 L1609.9,138.9 L1610.6,140.3 L1611.2,141.6 L1611.8,143.0 L1612.4,144.3 L1613.1,145.7 L1613.6,147.1 L1614.2,148.4 L1614.8,149.8 L1615.4,151.2 L1615.9,152.6 L1616.5,154.0 L1617.0,155.4 L1617.5,156.8 L1618.1,158.2 L1618.6,159.6 L1619.1,161.0 L1619.6,162.4 L1620.1,163.8 L1620.5,165.2 L1621.0,166.7 L1621.5,168.1 L1621.9,169.5 L1622.4,170.9 L1622.9,172.4 L1623.3,173.8 L1623.7,175.2 L1624.2,176.7 L1624.6,178.1 L1625.0,179.6 L1625.4,181.0 L1625.9,182.4 L1626.3,183.9 L1626.7,185.3 L1627.1,186.8 L1627.5,188.2 L1627.9,189.7 L1628.3,191.1 L1628.7,192.6 L1629.1,194.0 L1629.4,195.5 L1629.8,196.9 L1630.2,198.4 L1630.6,199.8 L1631.0,201.3 L1631.4,202.7 L1631.8,204.2 L1632.1,205.6 L1632.5,207.1 L1632.9,208.6 L1633.3,210.0 L1633.7,211.5 L1634.0,212.9 L1634.4,214.4 L1634.8,215.8 L1635.2,217.3 L1635.5,218.7 L1635.9,220.2 L1636.3,221.6 L1636.6,223.1 L1637.0,224.6 L1637.4,226.0 L1637.8,227.5 L1638.1,228.9 L1638.5,230.4 L1638.8,231.8 L1639.2,233.3 L1639.6,234.8 L1639.9,236.2 L1640.3,237.7 L1640.7,239.1 L1641.0,240.6 L1641.4,242.0 L1641.7,243.5 L1642.1,245.0 L1642.4,246.4 L1642.8,247.9 L1643.2,249.3 L1643.5,250.8 L1643.9,252.3 L1644.2,253.7 L1644.6,255.2 L1644.9,256.6 L1645.3,258.1 L1645.6,259.6 L1646.0,261.0 L1646.3,262.5 L1646.7,263.9 L1647.0,265.4 L1647.4,266.9 L1647.7,268.3 L1648.1,269.8 L1648.4,271.2 L1648.8,272.7 L1649.1,274.2 L1649.5,275.6 L1649.8,277.1 L1650.2,278.5 L1650.5,280.0 L1650.9,281.5 L1651.2,282.9 L1651.5,284.4 L1651.9,285.8 L1652.2,287.3 L1652.6,288.8 L1652.9,290.2 L1653.3,291.7 L1653.6,293.1 L1654.0,294.6 L1654.3,296.1 L1654.7,297.5 L1655.0,299.0 L1655.3,300.4 L1655.7,301.9 L1656.0,303.4 L1656.4,304.8 L1656.7,306.3 L1657.1,307.7 L1657.4,309.2 L1657.8,310.7 L1658.1,312.1 L1658.5,313.6 L1658.8,315.0 L1659.1,316.5 L1659.5,318.0 L1659.8,319.4 L1660.2,320.9 L1660.5,322.3 L1660.9,323.8 L1661.2,325.3 L1661.6,326.7 L1661.9,328.2 L1662.3,329.6 L1662.6,331.1 L1663.0,332.5 L1663.3,334.0 L1663.7,335.5 L1664.0,336.9 L1664.4,338.4 L1664.7,339.8 L1665.1,341.3 L1665.5,342.7 L1665.8,344.2 L1666.2,345.7 L1666.5,347.1 L1666.9,348.6 L1667.2,350.0 L1667.6,351.5 L1667.9,352.9 L1668.3,354.4 L1668.7,355.8 L1669.0,357.3 L1669.4,358.8 L1669.8,360.2 L1670.1,361.7 L1670.5,363.1 L1670.8,364.6 L1671.2,366.0 L1671.6,367.5 L1671.9,368.9 L1672.3,370.4 L1672.7,371.8 L1673.1,373.3 L1673.4,374.7 L1673.8,376.2 L1674.2,377.6 L1674.5,379.1 L1674.9,380.5 L1675.3,382.0 L1675.7,383.4 L1676.1,384.9 L1676.4,386.3 L1676.8,387.8 L1677.2,389.2 L1677.6,390.7 L1678.0,392.1 L1678.3,393.6 L1678.7,395.0 L1679.1,396.5 L1679.5,397.9 L1679.9,399.4 L1680.3,400.8 L1680.7,402.3 L1681.1,403.7 L1681.5,405.1 L1681.9,406.6 L1682.3,408.0 L1682.7,409.5 L1683.1,410.9 L1683.5,412.4 L1683.9,413.8 L1684.3,415.2 L1684.7,416.7 L1685.1,418.1 L1685.5,419.6 L1685.9,421.0 L1686.3,422.4 L1686.8,423.9 L1687.2,425.3 L1687.6,426.8 L1688.0,428.2 L1688.4,429.6 L1688.9,431.1 L1689.3,432.5 L1689.7,433.9 L1690.1,435.4 L1690.6,436.8 L1691.0,438.2 L1691.4,439.7 L1691.9,441.1 L1692.3,442.5 L1692.8,444.0 L1693.2,445.4 L1693.6,446.8 L1694.1,448.3 L1694.5,449.7 L1695.0,451.1 L1695.4,452.6 L1695.9,454.0 L1696.3,455.4 L1696.8,456.8 L1697.3,458.3 L1697.7,459.7 L1698.2,461.1 L1698.6,462.5 L1699.1,464.0 L1699.6,465.4 L1700.1,466.8 L1700.5,468.2 L1701.0,469.7 L1701.5,471.1 L1702.0,472.5 L1702.5,473.9 L1702.9,475.3 L1703.4,476.8 L1703.9,478.2 L1704.4,479.6 L1704.9,481.0 L1705.4,482.4 L1705.9,483.8 L1706.4,485.3 L1706.9,486.7 L1707.4,488.1 L1707.9,489.5 L1708.4,490.9 L1708.9,492.3 L1709.5,493.7 L1710.0,495.1 L1710.5,496.6 L1711.0,498.0 L1711.6,499.4 L1712.1,500.8 L1712.6,502.2 L1713.1,503.6 L1713.7,505.0 L1714.2,506.4 L1714.7,507.8" stroke="#ffb0b0" stroke-width="2.25"/>
<path d="M1380.0,507.7 L1381.6,507.5 L1383.2,507.2 L1384.8,507.0 L1386.4,506.8 L1387.9,506.6 L1389.5,506.4 L1391.0,506.2 L1392.5,506.1 L1394.0,505.9 L1395.5,505.7 L1397.0,505.6 L1398.4,505.5 L1399.9,505.3 L1401.4,505.2 L1402.8,505.1 L1404.3,505.0 L1405.7,504.9 L1407.1,504.8 L1408.6,504.7 L1410.0,504.6 L1411.4,504.6 L1412.9,504.5 L1414.3,504.4 L1415.7,504.3 L1417.2,504.3 L1418.6,504.2 L1420.0,504.1 L1421.5,504.1 L1422.9,504.0 L1424.4,503.9 L1425.9,503.8 L1427.4,503.8 L1428.8,503.7 L1430.3,503.6 L1431.9,503.5 L1433.4,503.4 L1434.9,503.3 L1436.5,503.2 L1438.0,503.1 L1439.6,503.0 L1441.2,502.8 L1442.8,502.7 L1444.4,502.5 L1446.0,502.4 L1447.5,502.1 L1449.1,501.9 L1450.7,501.6 L1452.2,501.3 L1453.8,501.0 L1455.3,500.6 L1456.8,500.2 L1458.2,499.8 L1459.6,499.2 L1461.0,498.7 L1462.4,498.1 L1463.7,497.4 L1465.0,496.8 L1466.2,496.0 L1467.5,495.3 L1468.7,494.4 L1469.9,493.6 L1471.0,492.7 L1472.1,491.8 L1473.3,490.9 L1474.3,489.9 L1475.4,488.9 L1476.4,487.9 L1477.5,486.8 L1478.5,485.7 L1479.5,484.6 L1480.4,483.5 L1481.4,482.4 L1482.3,481.2 L1483.2,480.1 L1484.2,478.9 L1485.1,477.7 L1486.0,476.5 L1486.8,475.2 L1487.7,474.0 L1488.6,472.8 L1489.4,471.5 L1490.3,470.3 L1491.1,469.1 L1492.0,467.8 L1492.8,466.5 L1493.7,465.3 L1494.5,464.0 L1495.3,462.8 L1496.1,461.5 L1496.9,460.2 L1497.7,459.0 L1498.5,457.7 L1499.3,456.4 L1500.1,455.1 L1500.9,453.8 L1501.7,452.6 L1502.4,451.3 L1503.2,450.0 L1504.0,448.7 L1504.7,447.4 L1505.5,446.1 L1506.2,444.8 L1507.0,443.5 L1507.7,442.1 L1508.4,440.8 L1509.2,439.5 L1509.9,438.2 L1510.6,436.9 L1511.3,435.6 L1512.0,434.2 L1512.7,432.9 L1513.4,431.6 L1514.1,430.2 L1514.8,428.9 L1515.5,427.6 L1516.2,426.2 L1516.8,424.9 L1517.5,423.5 L1518.2,422.2 L1518.9,420.8 L1519.5,419.5 L1520.2,418.1 L1520.8,416.8 L1521.5,415.4 L1522.1,414.1 L1522.7,412.7 L1523.4,411.3 L1524.0,410.0 L1524.6,408.6 L1525.3,407.2 L1525.9,405.9 L1526.5,404.5 L1527.1,403.1 L1527.7,401.7 L1528.3,400.4 L1528.9,399.0 L1529.5,397.6 L1530.1,396.2 L1530.7,394.8 L1531.3,393.5 L1531.9,392.1 L1532.5,390.7 L1533.0,389.3 L1533.6,387.9 L1534.2,386.5 L1534.7,385.1 L1535.3,383.7 L1535.9,382.3 L1536.4,380.9 L1537.0,379.5 L1537.5,378.1 L1538.1,376.7 L1538.6,375.3 L1539.2,373.9 L1539.7,372.5 L1540.2,371.1 L1540.8,369.7 L1541.3,368.3 L1541.8,366.9 L1542.4,365.5 L1542.9,364.1 L1543.4,362.7 L1543.9,361.3 L1544.4,359.9 L1545.0,358.5 L1545.5,357.1 L1546.0,355.7 L1546.5,354.3 L1547.0,352.9 L1547.5,351.4 L1548.0,350.0 L1548.5,348.6 L1549.0,347.2 L1549.5,345.8 L1550.0,344.4 L1550.4,343.0 L1550.9,341.5 L1551.4,340.1 L1551.9,338.7 L1552.4,337.3 L1552.9,335.9 L1553.3,334.5 L1553.8,333.0 L1554.3,331.6 L1554.8,330.2 L1555.2,328.8 L1555.7,327.4 L1556.2,325.9 L1556.6,324.5 L1557.1,323.1 L1557.6,321.7 L1558.0,320.2 L1558.5,318.8 L1558.9,317.4 L1559.4,316.0 L1559.8,314.6 L1560.3,313.1 L1560.8,311.7 L1561.2,310.3 L1561.7,308.8 L1562.1,307.4 L1562.6,306.0 L1563.0,304.6 L1563.5,303.1 L1563.9,301.7 L1564.3,300.3 L1564.8,298.9 L1565.2,297.4 L1565.7,296.0 L1566.1,294.6 L1566.6,293.1 L1567.0,291.7 L1567.4,290.3 L1567.9,288.9 L1568.3,287.4 L1568.8,286.0 L1569.2,284.6 L1569.6,283.1 L1570.1,281.7 L1570.5,280.3 L1571.0,278.8 L1571.4,277.4 L1571.8,276.0 L1572.3,274.6 L1572.7,273.1 L1573.1,271.7 L1573.6,270.3 L1574.0,268.8 L1574.5,267.4 L1574.9,266.0 L1575.3,264.5 L1575.8,263.1 L1576.2,261.7 L1576.7,260.2 L1577.1,258.8 L1577.5,257.4 L1578.0,255.9 L1578.4,254.5 L1578.9,253.1 L1579.3,251.7 L1579.7,250.2 L1580.2,248.8 L1580.6,247.4 L1581.1,245.9 L1581.5,244.5 L1582.0,243.1 L1582.4,241.6 L1582.8,240.2 L1583.3,238.8 L1583.7,237.4 L1584.2,235.9 L1584.6,234.5 L1585.1,233.1 L1585.5,231.6 L1586.0,230.2 L1586.5,228.8 L1586.9,227.4 L1587.4,225.9 L1587.8,224.5 L1588.3,223.1 L1588.8,221.6 L1589.2,220.2 L1589.7,218.8 L1590.1,217.4 L1590.6,215.9 L1591.1,214.5 L1591.6,213.1 L1592.0,211.7 L1592.5,210.2 L1593.0,208.8 L1593.5,207.4 L1593.9,206.0 L1594.4,204.6 L1594.9,203.1 L1595.4,201.7 L1595.9,200.3 L1596.4,198.9 L1596.8,197.4 L1597.3,196.0 L1597.8,194.6 L1598.3,193.2 L1598.8,191.8 L1599.3,190.4 L1599.8,188.9 L1600.3,187.5 L1600.9,186.1 L1601.4,184.7 L1601.9,183.3 L1602.4,181.9 L1602.9,180.4 L1603.4,179.0 L1604.0,177.6 L1604.5,176.2 L1605.0,174.8 L1605.5,173.4 L1606.1,172.0 L1606.6,170.6 L1607.2,169.2 L1607.7,167.8 L1608.2,166.3 L1608.8,164.9 L1609.3,163.5 L1609.9,162.1 L1610.5,160.7 L1611.0,159.3 L1611.6,157.9 L1612.1,156.5 L1612.7,155.1 L1613.3,153.7 L1613.9,152.3 L1614.5,150.9 L1615.0,149.5 L1615.6,148.1 L1616.2,146.7 L1616.8,145.3 L1617.4,143.9 L1618.0,142.6 L1618.6,141.2 L1619.2,139.8 L1619.8,138.4 L1620.5,137.0 L1621.1,135.6 L1621.7,134.2 L1622.3,132.8 L1623.0,131.4 L1623.6,130.1 L1624.2,128.7 L1624.9,127.3 L1625.5,125.9 L1626.2,124.6 L1626.9,123.2 L1627.6,121.9 L1628.3,120.5 L1629.0,119.2 L1629.8,117.9 L1630.5,116.7 L1631.3,115.4 L1632.1,114.1 L1633.0,112.9 L1633.8,111.7 L1634.7,110.6 L1635.6,109.4 L1636.6,108.3 L1637.6,107.2 L1638.6,106.1 L1639.6,105.1 L1640.7,104.1 L1641.8,103.2 L1642.9,102.2 L1644.1,101.4 L1645.4,100.5 L1646.7,99.7 L1648.0,99.0 L1649.3,98.3 L1650.7,97.6 L1652.2,97.1 L1653.6,96.7 L1655.0,96.4 L1656.5,96.3 L1657.9,96.3 L1659.3,96.5 L1660.7,96.9 L1662.1,97.3 L1663.5,97.9 L1664.8,98.6 L1666.1,99.3 L1667.4,100.2 L1668.6,101.0 L1669.8,101.9 L1670.9,102.8 L1672.1,103.8 L1673.2,104.8 L1674.2,105.9 L1675.3,106.9 L1676.3,108.0 L1677.2,109.2 L1678.2,110.3 L1679.1,111.5 L1680.0,112.7 L1680.9,114.0 L1681.8,115.2 L1682.6,116.5 L1683.4,117.8 L1684.2,119.1 L1685.0,120.5 L1685.8,121.8 L1686.5,123.1 L1687.3,124.5 L1688.0,125.9 L1688.7,127.3 L1689.4,128.6 L1690.1,130.0 L1690.8,131.4 L1691.5,132.8 L1692.2,134.2 L1692.9,135.6 L1693.5,136.9 L1694.2,138.3 L1694.8,139.7 L1695.5,141.0 L1696.2,142.4 L1696.8,143.7 L1697.5,145.1 L1698.1,146.4 L1698.7,147.8 L1699.4,149.1 L1700.0,150.5 L1700.6,151.8 L1701.3,153.2 L1701.9,154.5 L1702.5,155.9 L1703.1,157.2 L1703.7,158.6 L1704.3,159.9 L1704.9,161.3 L1705.5,162.6 L1706.1,164.0 L1706.7,165.3 L1707.3,166.7 L1707.9,168.1 L1708.5,169.4 L1709.1,170.8 L1709.7,172.2 L1710.3,173.5 L1710.8,174.9 L1711.4,176.3 L1712.0,177.6 L1712.6,179.0 L1713.1,180.4 L1713.7,181.8 L1714.3,183.1 L1714.8,184.5 L1715.4,185.9 L1715.9,187.3 L1716.5,188.7 L1717.0,190.0 L1717.6,191.4 L1718.1,192.8 L1718.7,194.2 L1719.2,195.6 L1719.7,197.0 L1720.3,198.4 L1720.8,199.8 L1721.4,201.2 L1721.9,202.6 L1722.4,204.0 L1722.9,205.4 L1723.5,206.8 L1724.0,208.2 L1724.5,209.6 L1725.0,211.0 L1725.5,212.4 L1726.1,213.8 L1726.6,215.2 L1727.1,216.6 L1727.6,218.0 L1728.1,219.4 L1728.6,220.8 L1729.1,222.3 L1729.6,223.7 L1730.1,225.1 L1730.6,226.5 L1731.1,227.9 L1731.6,229.3 L1732.1,230.8 L1732.6,232.2 L1733.1,233.6 L1733.6,235.0 L1734.1,236.4 L1734.6,237.9 L1735.1,239.3 L1735.5,240.7 L1736.0,242.1 L1736.5,243.6 L1737.0,245.0 L1737.5,246.4 L1738.0,247.8 L1738.4,249.3 L1738.9,250.7 L1739.4,252.1 L1739.9,253.6 L1740.4,255.0 L1740.8,256.4 L1741.3,257.9 L1741.8,259.3 L1742.3,260.7 L1742.7,262.2 L1743.2,263.6 L1743.7,265.0 L1744.1,266.5 L1744.6,267.9 L1745.1,269.3 L1745.5,270.8 L1746.0,272.2 L1746.5,273.6 L1746.9,275.1 L1747.4,276.5 L1747.9,277.9 L1748.3,279.4 L1748.8,280.8 L1749.3,282.3 L1749.7,283.7 L1750.2,285.1 L1750.7,286.6 L1751.1,288.0 L1751.6,289.4 L1752.1,290.9 L1752.5,292.3 L1753.0,293.8 L1753.5,295.2 L1754.0,296.6 L1754.4,298.1 L1754.9,299.5 L1755.4,300.9 L1755.9,302.4 L1756.3,303.8 L1756.8,305.2 L1757.3,306.6 L1757.8,308.1 L1758.3,309.5 L1758.7,310.9 L1759.2,312.4 L1759.7,313.8 L1760.2,315.2 L1760.7,316.6 L1761.2,318.1 L1761.7,319.5 L1762.2,320.9 L1762.7,322.3 L1763.2,323.7 L1763.7,325.1 L1764.2,326.6 L1764.7,328.0 L1765.2,329.4 L1765.7,330.8 L1766.3,332.2 L1766.8,333.6 L1767.3,335.0 L1767.8,336.4 L1768.4,337.8 L1768.9,339.2 L1769.4,340.6 L1770.0,342.0 L1770.5,343.4 L1771.1,344.8 L1771.6,346.2 L1772.2,347.6 L1772.7,348.9 L1773.3,350.3 L1773.9,351.7 L1774.4,353.1 L1775.0,354.5 L1775.6,355.8 L1776.2,357.2 L1776.7,358.6 L1777.3,359.9 L1777.9,361.3 L1778.5,362.7 L1779.1,364.0 L1779.8,365.4 L1780.4,366.7 L1781.0,368.1 L1781.6,369.4 L1782.2,370.8 L1782.9,372.1 L1783.5,373.5 L1784.2,374.8 L1784.8,376.1 L1785.5,377.4 L1786.1,378.8 L1786.8,380.1 L1787.5,381.4 L1788.1,382.7 L1788.8,384.1 L1789.5,385.4 L1790.2,386.7 L1790.9,388.0 L1791.6,389.3 L1792.3,390.6 L1793.0,391.9 L1793.7,393.2 L1794.4,394.5 L1795.1,395.8 L1795.9,397.1 L1796.6,398.4 L1797.3,399.7 L1798.1,401.0 L1798.8,402.3 L1799.6,403.6 L1800.3,404.9 L1801.1,406.2 L1801.8,407.5 L1802.6,408.8 L1803.3,410.1 L1804.1,411.4 L1804.9,412.7 L1805.6,414.0 L1806.4,415.3 L1807.2,416.6 L1808.0,417.9 L1808.8,419.2 L1809.6,420.5 L1810.4,421.8 L1811.2,423.1 L1812.0,424.4 L1812.8,425.7 L1813.6,426.9 L1814.4,428.2 L1815.2,429.5 L1816.0,430.8 L1816.9,432.1 L1817.7,433.3 L1818.6,434.6 L1819.4,435.9 L1820.3,437.1 L1821.1,438.4 L1822.0,439.6 L1822.9,440.9 L1823.8,442.1 L1824.7,443.3 L1825.6,444.5 L1826.5,445.8 L1827.4,447.0 L1828.3,448.2 L1829.2,449.4 L1830.1,450.6 L1831.1,451.7 L1832.0,452.9 L1833.0,454.1 L1834.0,455.2 L1834.9,456.4 L1835.9,457.5 L1836.9,458.6 L1837.9,459.8 L1838.9,460.9 L1840.0,462.0 L1841.0,463.0 L1842.0,464.1 L1843.1,465.2 L1844.1,466.2 L1845.2,467.3 L1846.3,468.3 L1847.4,469.3 L1848.5,470.3 L1849.6,471.3 L1850.7,472.2 L1851.8,473.2 L1853.0,474.1 L1854.1,475.1 L1855.3,476.0 L1856.5,476.9 L1857.7,477.8 L1858.9,478.6 L1860.1,479.5 L1861.3,480.3 L1862.6,481.1 L1863.8,482.0 L1865.1,482.8 L1866.3,483.5 L1867.6,484.3 L1868.9,485.0 L1870.2,485.8 L1871.5,486.5 L1872.8,487.2 L1874.1,487.9 L1875.5,488.6 L1876.8,489.2 L1878.2,489.9 L1879.5,490.5 L1880.9,491.1 L1882.2,491.7 L1883.6,492.3 L1885.0,492.9 L1886.4,493.5 L1887.8,494.0 L1889.2,494.6 L1890.6,495.1 L1892.0,495.6 L1893.4,496.1 L1894.8,496.6 L1896.3,497.0 L1897.7,497.5 L1899.1,497.9 L1900.6,498.4 L1902.0,498.8 L1903.4,499.2 L1904.9,499.6 L1906.3,500.0 L1907.8,500.3 L1909.3,500.7 L1910.7,501.0 L1912.2,501.4 L1913.7,501.7 L1915.1,502.0 L1916.6,502.3 L1918.1,502.6 L1919.6,502.9 L1921.0,503.1 L1922.5,503.4 L1924.0,503.6 L1925.5,503.8 L1927.0,504.1 L1928.5,504.3 L1930.0,504.5 L1931.5,504.7 L1933.0,504.9 L1934.5,505.0 L1936.0,505.2 L1937.5,505.3 L1939.0,505.5 L1940.5,505.6 L1942.0,505.7 L1943.5,505.8 L1945.0,506.0 L1946.5,506.0 L1948.0,506.1 L1949.5,506.2 L1951.0,506.3 L1952.5,506.4 L1954.0,506.4 L1955.6,506.5 L1957.1,506.5 L1958.6,506.5 L1960.1,506.6 L1961.6,506.6 L1963.1,506.6 L1964.6,506.6 L1966.1,506.6 L1967.6,506.6 L1969.1,506.6 L1970.6,506.5 L1972.1,506.5 L1973.6,506.5 L1975.1,506.4 L1976.6,506.4 L1978.1,506.3 L1979.6,506.3 L1981.1,506.2 L1982.6,506.1 L1984.1,506.0 L1985.6,506.0 L1987.1,505.9 L1988.5,505.8 L1990.0,505.7 L1991.5,505.6 L1993.0,505.5 L1994.4,505.4 L1995.9,505.3 L1996.0,505.3" stroke="#ff5555" stroke-width="2.3"/>
<path d="M1380.0,507.7 L1381.3,507.0 L1382.6,506.3 L1383.9,505.6 L1385.2,504.8 L1386.5,504.1 L1387.8,503.3 L1389.0,502.6 L1390.3,501.8 L1391.6,501.0 L1392.9,500.2 L1394.2,499.4 L1395.5,498.6 L1396.7,497.9 L1398.0,497.1 L1399.3,496.3 L1400.6,495.5 L1401.9,494.7 L1403.2,493.9 L1404.4,493.1 L1405.7,492.3 L1407.0,491.5 L1408.3,490.7 L1409.6,490.0 L1410.9,489.2 L1412.2,488.4 L1413.5,487.7 L1414.8,487.0 L1416.2,486.2 L1417.5,485.5 L1418.8,484.8 L1420.1,484.1 L1421.5,483.4 L1422.8,482.8 L1424.2,482.1 L1425.5,481.5 L1426.9,480.9 L1428.3,480.3 L1429.6,479.7 L1431.0,479.1 L1432.4,478.6 L1433.8,478.0 L1435.2,477.5 L1436.6,476.9 L1438.0,476.4 L1439.4,475.9 L1440.8,475.4 L1442.2,474.9 L1443.6,474.4 L1445.1,474.0 L1446.5,473.5 L1447.9,473.0 L1449.3,472.5 L1450.7,472.1 L1452.2,471.6 L1453.6,471.1 L1455.0,470.7 L1456.4,470.2 L1457.9,469.7 L1459.3,469.2 L1460.7,468.7 L1462.1,468.2 L1463.5,467.8 L1465.0,467.2 L1466.4,466.7 L1467.8,466.2 L1469.2,465.7 L1470.6,465.1 L1472.0,464.6 L1473.4,464.0 L1474.8,463.4 L1476.2,462.9 L1477.5,462.3 L1478.9,461.6 L1480.3,461.0 L1481.7,460.3 L1483.0,459.7 L1484.4,459.0 L1485.7,458.3 L1487.0,457.6 L1488.4,456.9 L1489.7,456.1 L1491.0,455.4 L1492.3,454.6 L1493.6,453.8 L1494.8,453.0 L1496.1,452.2 L1497.4,451.4 L1498.6,450.5 L1499.8,449.7 L1501.0,448.8 L1502.2,447.9 L1503.4,447.0 L1504.6,446.1 L1505.8,445.1 L1506.9,444.2 L1508.1,443.2 L1509.2,442.2 L1510.3,441.2 L1511.4,440.2 L1512.4,439.2 L1513.5,438.1 L1514.5,437.1 L1515.5,436.0 L1516.5,434.9 L1517.5,433.8 L1518.5,432.7 L1519.5,431.5 L1520.4,430.4 L1521.3,429.2 L1522.3,428.1 L1523.2,426.9 L1524.1,425.7 L1524.9,424.5 L1525.8,423.2 L1526.7,422.0 L1527.5,420.8 L1528.3,419.5 L1529.1,418.3 L1530.0,417.0 L1530.7,415.7 L1531.5,414.5 L1532.3,413.2 L1533.1,411.9 L1533.8,410.6 L1534.6,409.3 L1535.3,408.0 L1536.1,406.6 L1536.8,405.3 L1537.5,404.0 L1538.2,402.6 L1539.0,401.3 L1539.7,400.0 L1540.4,398.6 L1541.1,397.3 L1541.7,395.9 L1542.4,394.6 L1543.1,393.2 L1543.8,391.9 L1544.4,390.5 L1545.1,389.2 L1545.8,387.8 L1546.4,386.5 L1547.1,385.1 L1547.7,383.7 L1548.4,382.4 L1549.0,381.0 L1549.7,379.6 L1550.3,378.3 L1550.9,376.9 L1551.5,375.5 L1552.2,374.2 L1552.8,372.8 L1553.4,371.4 L1554.0,370.1 L1554.6,368.7 L1555.2,367.3 L1555.8,365.9 L1556.4,364.6 L1557.0,363.2 L1557.6,361.8 L1558.2,360.4 L1558.8,359.0 L1559.4,357.6 L1559.9,356.3 L1560.5,354.9 L1561.1,353.5 L1561.6,352.1 L1562.2,350.7 L1562.8,349.3 L1563.3,347.9 L1563.9,346.5 L1564.4,345.2 L1565.0,343.8 L1565.5,342.4 L1566.1,341.0 L1566.6,339.6 L1567.1,338.2 L1567.7,336.8 L1568.2,335.4 L1568.7,334.0 L1569.3,332.6 L1569.8,331.2 L1570.3,329.8 L1570.8,328.4 L1571.3,327.0 L1571.9,325.6 L1572.4,324.2 L1572.9,322.7 L1573.4,321.3 L1573.9,319.9 L1574.4,318.5 L1574.9,317.1 L1575.4,315.7 L1575.9,314.3 L1576.4,312.9 L1576.9,311.5 L1577.3,310.0 L1577.8,308.6 L1578.3,307.2 L1578.8,305.8 L1579.3,304.4 L1579.8,303.0 L1580.2,301.5 L1580.7,300.1 L1581.2,298.7 L1581.6,297.3 L1582.1,295.9 L1582.6,294.4 L1583.0,293.0 L1583.5,291.6 L1584.0,290.2 L1584.4,288.7 L1584.9,287.3 L1585.4,285.9 L1585.8,284.5 L1586.3,283.0 L1586.7,281.6 L1587.2,280.2 L1587.6,278.8 L1588.1,277.3 L1588.5,275.9 L1589.0,274.5 L1589.4,273.0 L1589.9,271.6 L1590.3,270.2 L1590.7,268.8 L1591.2,267.3 L1591.6,265.9 L1592.1,264.5 L1592.5,263.0 L1592.9,261.6 L1593.4,260.2 L1593.8,258.7 L1594.2,257.3 L1594.7,255.8 L1595.1,254.4 L1595.5,253.0 L1596.0,251.5 L1596.4,250.1 L1596.8,248.7 L1597.3,247.2 L1597.7,245.8 L1598.1,244.4 L1598.6,242.9 L1599.0,241.5 L1599.4,240.0 L1599.8,238.6 L1600.3,237.2 L1600.7,235.7 L1601.1,234.3 L1601.5,232.8 L1602.0,231.4 L1602.4,230.0 L1602.8,228.5 L1603.2,227.1 L1603.7,225.6 L1604.1,224.2 L1604.5,222.8 L1605.0,221.3 L1605.4,219.9 L1605.8,218.4 L1606.2,217.0 L1606.7,215.6 L1607.1,214.1 L1607.5,212.7 L1607.9,211.2 L1608.4,209.8 L1608.8,208.4 L1609.2,206.9 L1609.7,205.5 L1610.1,204.0 L1610.5,202.6 L1611.0,201.1 L1611.4,199.7 L1611.8,198.3 L1612.3,196.8 L1612.7,195.4 L1613.1,193.9 L1613.6,192.5 L1614.0,191.1 L1614.4,189.6 L1614.9,188.2 L1615.3,186.7 L1615.8,185.3 L1616.2,183.9 L1616.7,182.4 L1617.1,181.0 L1617.6,179.6 L1618.0,178.1 L1618.5,176.7 L1619.0,175.3 L1619.5,173.8 L1619.9,172.4 L1620.4,171.0 L1620.9,169.6 L1621.4,168.2 L1621.9,166.7 L1622.4,165.3 L1622.9,163.9 L1623.4,162.5 L1624.0,161.1 L1624.5,159.7 L1625.0,158.3 L1625.6,156.9 L1626.1,155.5 L1626.7,154.1 L1627.3,152.7 L1627.8,151.3 L1628.4,150.0 L1629.0,148.6 L1629.6,147.2 L1630.2,145.8 L1630.9,144.5 L1631.5,143.1 L1632.2,141.8 L1632.8,140.4 L1633.5,139.1 L1634.2,137.7 L1634.8,136.4 L1635.5,135.1 L1636.3,133.7 L1637.0,132.4 L1637.7,131.1 L1638.5,129.8 L1639.2,128.5 L1640.0,127.2 L1640.8,125.9 L1641.6,124.6 L1642.4,123.3 L1643.2,122.0 L1644.1,120.8 L1644.9,119.5 L1645.8,118.3 L1646.7,117.0 L1647.6,115.8 L1648.5,114.5 L1649.5,113.3 L1650.4,112.1 L1651.4,110.9 L1652.4,109.7 L1653.4,108.5 L1654.4,107.3 L1655.4,106.2 L1656.5,105.0 L1657.5,104.0 L1658.6,102.9 L1659.8,102.0 L1660.9,101.0 L1662.0,100.2 L1663.2,99.4 L1664.4,98.7 L1665.6,98.0 L1666.9,97.4 L1668.1,97.0 L1669.4,96.6 L1670.7,96.3 L1672.0,96.1 L1673.4,96.0 L1674.8,96.1 L1676.2,96.2 L1677.6,96.5 L1679.0,96.9 L1680.4,97.3 L1681.7,97.9 L1683.1,98.5 L1684.4,99.2 L1685.7,100.0 L1686.9,100.9 L1688.1,101.8 L1689.2,102.8 L1690.3,103.9 L1691.3,105.0 L1692.3,106.1 L1693.2,107.3 L1694.1,108.5 L1695.0,109.8 L1695.8,111.0 L1696.6,112.3 L1697.4,113.7 L1698.2,115.0 L1698.9,116.3 L1699.7,117.7 L1700.4,119.1 L1701.2,120.4 L1701.9,121.8 L1702.6,123.1 L1703.4,124.5 L1704.1,125.8 L1704.8,127.2 L1705.5,128.6 L1706.2,129.9 L1706.9,131.3 L1707.6,132.7 L1708.2,134.0 L1708.9,135.4 L1709.6,136.8 L1710.2,138.2 L1710.9,139.5 L1711.5,140.9 L1712.2,142.3 L1712.8,143.7 L1713.4,145.0 L1714.0,146.4 L1714.7,147.8 L1715.3,149.2 L1715.9,150.6 L1716.5,152.0 L1717.1,153.4 L1717.7,154.7 L1718.3,156.1 L1718.8,157.5 L1719.4,158.9 L1720.0,160.3 L1720.5,161.7 L1721.1,163.1 L1721.7,164.5 L1722.2,165.9 L1722.8,167.3 L1723.3,168.7 L1723.8,170.1 L1724.4,171.5 L1724.9,172.9 L1725.4,174.3 L1726.0,175.7 L1726.5,177.2 L1727.0,178.6 L1727.5,180.0 L1728.0,181.4 L1728.5,182.8 L1729.0,184.2 L1729.5,185.6 L1730.0,187.0 L1730.5,188.5 L1731.0,189.9 L1731.4,191.3 L1731.9,192.7 L1732.4,194.1 L1732.9,195.5 L1733.3,197.0 L1733.8,198.4 L1734.3,199.8 L1734.7,201.2 L1735.2,202.7 L1735.6,204.1 L1736.1,205.5 L1736.5,206.9 L1737.0,208.4 L1737.4,209.8 L1737.9,211.2 L1738.3,212.6 L1738.7,214.1 L1739.2,215.5 L1739.6,216.9 L1740.0,218.4 L1740.5,219.8 L1740.9,221.2 L1741.3,222.7 L1741.7,224.1 L1742.2,225.5 L1742.6,227.0 L1743.0,228.4 L1743.4,229.8 L1743.8,231.3 L1744.2,232.7 L1744.6,234.1 L1745.1,235.6 L1745.5,237.0 L1745.9,238.5 L1746.3,239.9 L1746.7,241.3 L1747.1,242.8 L1747.5,244.2 L1747.9,245.6 L1748.3,247.1 L1748.7,248.5 L1749.1,250.0 L1749.5,251.4 L1749.9,252.9 L1750.3,254.3 L1750.7,255.7 L1751.1,257.2 L1751.5,258.6 L1751.9,260.1 L1752.3,261.5 L1752.7,262.9 L1753.1,264.4 L1753.5,265.8 L1753.9,267.3 L1754.3,268.7 L1754.7,270.2 L1755.1,271.6 L1755.5,273.0 L1755.9,274.5 L1756.3,275.9 L1756.7,277.4 L1757.2,278.8 L1757.6,280.2 L1758.0,281.7 L1758.4,283.1 L1758.8,284.6 L1759.2,286.0 L1759.6,287.5 L1760.0,288.9 L1760.4,290.3 L1760.8,291.8 L1761.2,293.2 L1761.7,294.7 L1762.1,296.1 L1762.5,297.6 L1762.9,299.0 L1763.3,300.4 L1763.7,301.9 L1764.1,303.3 L1764.6,304.8 L1765.0,306.2 L1765.4,307.6 L1765.8,309.1 L1766.2,310.5 L1766.7,312.0 L1767.1,313.4 L1767.5,314.8 L1767.9,316.3 L1768.3,317.7 L1768.8,319.2 L1769.2,320.6 L1769.6,322.0 L1770.0,323.5 L1770.5,324.9 L1770.9,326.4 L1771.3,327.8 L1771.8,329.2 L1772.2,330.7 L1772.6,332.1 L1773.1,333.5 L1773.5,335.0 L1773.9,336.4 L1774.4,337.9 L1774.8,339.3 L1775.3,340.7 L1775.7,342.2 L1776.1,343.6 L1776.6,345.0 L1777.0,346.5 L1777.5,347.9 L1777.9,349.3 L1778.4,350.8 L1778.8,352.2 L1779.3,353.6 L1779.7,355.1 L1780.2,356.5 L1780.6,357.9 L1781.1,359.4 L1781.5,360.8 L1782.0,362.2 L1782.5,363.7 L1782.9,365.1 L1783.4,366.5 L1783.8,368.0 L1784.3,369.4 L1784.8,370.8 L1785.2,372.2 L1785.7,373.7 L1786.2,375.1 L1786.6,376.5 L1787.1,377.9 L1787.6,379.4 L1788.1,380.8 L1788.5,382.2 L1789.0,383.6 L1789.5,385.1 L1790.0,386.5 L1790.5,387.9 L1790.9,389.3 L1791.4,390.8 L1791.9,392.2 L1792.4,393.6 L1792.9,395.0 L1793.4,396.4 L1793.9,397.9 L1794.4,399.3 L1794.9,400.7 L1795.4,402.1 L1795.9,403.5 L1796.4,405.0 L1796.9,406.4 L1797.4,407.8 L1797.9,409.2 L1798.4,410.6 L1798.9,412.0 L1799.4,413.4 L1799.9,414.9 L1800.4,416.3 L1800.9,417.7 L1801.5,419.1 L1802.0,420.5 L1802.5,421.9 L1803.0,423.3 L1803.5,424.7 L1804.1,426.1 L1804.6,427.5 L1805.1,428.9 L1805.7,430.3 L1806.2,431.8 L1806.7,433.2 L1807.3,434.6 L1807.8,436.0 L1808.4,437.4 L1808.9,438.8 L1809.4,440.2 L1810.0,441.6 L1810.5,443.0 L1811.1,444.4 L1811.7,445.8 L1812.2,447.1 L1812.8,448.5 L1813.4,449.9 L1813.9,451.3 L1814.5,452.7 L1815.1,454.1 L1815.7,455.4 L1816.3,456.8 L1816.9,458.2 L1817.5,459.6 L1818.1,460.9 L1818.7,462.3 L1819.3,463.6 L1820.0,465.0 L1820.6,466.3 L1821.3,467.7 L1821.9,469.0 L1822.6,470.4 L1823.3,471.7 L1824.0,473.0 L1824.7,474.3 L1825.4,475.6 L1826.1,477.0 L1826.8,478.3 L1827.5,479.6 L1828.3,480.8 L1829.0,482.1 L1829.8,483.4 L1830.6,484.7 L1831.4,485.9 L1832.2,487.2 L1833.0,488.4 L1833.8,489.7 L1834.7,490.9 L1835.5,492.1 L1836.4,493.4 L1837.3,494.6 L1838.2,495.8 L1839.1,497.0 L1840.0,498.1 L1841.0,499.3 L1841.9,500.5 L1842.9,501.6 L1843.9,502.8 L1844.9,503.9 L1845.9,505.0 L1847.0,506.2 L1848.0,507.3 L1848.5,507.8" stroke="#ff0000" stroke-width="2.45"/>
<path d="M1380.0,488.3 L1381.0,487.1 L1381.9,485.9 L1382.8,484.7 L1383.8,483.5 L1384.7,482.3 L1385.6,481.1 L1386.5,479.9 L1387.4,478.7 L1388.3,477.5 L1389.2,476.3 L1390.0,475.0 L1390.9,473.8 L1391.7,472.6 L1392.6,471.3 L1393.4,470.1 L1394.3,468.9 L1395.1,467.6 L1395.9,466.4 L1396.7,465.1 L1397.5,463.8 L1398.3,462.6 L1399.1,461.3 L1399.9,460.0 L1400.7,458.8 L1401.4,457.5 L1402.2,456.2 L1402.9,454.9 L1403.7,453.6 L1404.4,452.3 L1405.2,451.0 L1405.9,449.7 L1406.6,448.4 L1407.3,447.1 L1408.0,445.8 L1408.7,444.5 L1409.4,443.2 L1410.1,441.8 L1410.8,440.5 L1411.5,439.2 L1412.1,437.8 L1412.8,436.5 L1413.5,435.2 L1414.1,433.8 L1414.8,432.5 L1415.4,431.1 L1416.0,429.8 L1416.7,428.4 L1417.3,427.1 L1417.9,425.7 L1418.5,424.3 L1419.1,423.0 L1419.7,421.6 L1420.3,420.2 L1420.9,418.9 L1421.5,417.5 L1422.1,416.1 L1422.7,414.7 L1423.3,413.4 L1423.8,412.0 L1424.4,410.6 L1424.9,409.2 L1425.5,407.8 L1426.1,406.4 L1426.6,405.0 L1427.1,403.6 L1427.7,402.2 L1428.2,400.8 L1428.7,399.4 L1429.3,398.0 L1429.8,396.6 L1430.3,395.2 L1430.8,393.8 L1431.3,392.4 L1431.8,390.9 L1432.3,389.5 L1432.8,388.1 L1433.3,386.7 L1433.8,385.3 L1434.3,383.9 L1434.8,382.4 L1435.3,381.0 L1435.8,379.6 L1436.2,378.1 L1436.7,376.7 L1437.2,375.3 L1437.6,373.9 L1438.1,372.4 L1438.6,371.0 L1439.0,369.5 L1439.5,368.1 L1439.9,366.7 L1440.4,365.2 L1440.8,363.8 L1441.3,362.4 L1441.7,360.9 L1442.1,359.5 L1442.6,358.0 L1443.0,356.6 L1443.4,355.1 L1443.9,353.7 L1444.3,352.3 L1444.7,350.8 L1445.1,349.4 L1445.6,347.9 L1446.0,346.5 L1446.4,345.0 L1446.8,343.6 L1447.2,342.1 L1447.7,340.7 L1448.1,339.2 L1448.5,337.8 L1448.9,336.3 L1449.3,334.9 L1449.7,333.4 L1450.1,332.0 L1450.5,330.5 L1450.9,329.1 L1451.3,327.6 L1451.7,326.2 L1452.1,324.7 L1452.5,323.3 L1452.9,321.8 L1453.3,320.4 L1453.7,318.9 L1454.1,317.5 L1454.5,316.0 L1454.9,314.6 L1455.3,313.1 L1455.7,311.7 L1456.1,310.2 L1456.5,308.8 L1456.9,307.3 L1457.3,305.9 L1457.6,304.4 L1458.0,303.0 L1458.4,301.5 L1458.8,300.1 L1459.2,298.6 L1459.6,297.2 L1460.0,295.7 L1460.4,294.3 L1460.7,292.8 L1461.1,291.4 L1461.5,289.9 L1461.9,288.5 L1462.3,287.0 L1462.7,285.6 L1463.1,284.1 L1463.4,282.7 L1463.8,281.2 L1464.2,279.8 L1464.6,278.3 L1465.0,276.9 L1465.4,275.4 L1465.8,274.0 L1466.1,272.5 L1466.5,271.1 L1466.9,269.6 L1467.3,268.2 L1467.7,266.8 L1468.1,265.3 L1468.5,263.9 L1468.9,262.4 L1469.3,261.0 L1469.6,259.5 L1470.0,258.1 L1470.4,256.6 L1470.8,255.2 L1471.2,253.7 L1471.6,252.3 L1472.0,250.9 L1472.4,249.4 L1472.8,248.0 L1473.2,246.5 L1473.6,245.1 L1474.0,243.7 L1474.4,242.2 L1474.8,240.8 L1475.2,239.3 L1475.6,237.9 L1476.0,236.5 L1476.4,235.0 L1476.8,233.6 L1477.3,232.1 L1477.7,230.7 L1478.1,229.3 L1478.5,227.8 L1478.9,226.4 L1479.3,225.0 L1479.8,223.5 L1480.2,222.1 L1480.6,220.7 L1481.0,219.2 L1481.4,217.8 L1481.9,216.4 L1482.3,214.9 L1482.7,213.5 L1483.2,212.1 L1483.6,210.6 L1484.0,209.2 L1484.5,207.8 L1484.9,206.4 L1485.4,204.9 L1485.8,203.5 L1486.3,202.1 L1486.7,200.6 L1487.2,199.2 L1487.6,197.8 L1488.1,196.4 L1488.5,195.0 L1489.0,193.5 L1489.5,192.1 L1489.9,190.7 L1490.4,189.3 L1490.9,187.9 L1491.3,186.4 L1491.8,185.0 L1492.3,183.6 L1492.8,182.2 L1493.3,180.8 L1493.7,179.4 L1494.2,177.9 L1494.7,176.5 L1495.2,175.1 L1495.7,173.7 L1496.2,172.3 L1496.7,170.9 L1497.2,169.5 L1497.8,168.1 L1498.3,166.7 L1498.8,165.3 L1499.3,163.9 L1499.8,162.5 L1500.4,161.1 L1500.9,159.7 L1501.4,158.3 L1502.0,156.9 L1502.5,155.5 L1503.0,154.1 L1503.6,152.7 L1504.2,151.3 L1504.7,149.9 L1505.3,148.5 L1505.9,147.1 L1506.4,145.7 L1507.0,144.3 L1507.6,143.0 L1508.2,141.6 L1508.8,140.2 L1509.4,138.8 L1510.1,137.5 L1510.7,136.1 L1511.3,134.7 L1512.0,133.4 L1512.6,132.0 L1513.3,130.6 L1514.0,129.3 L1514.7,127.9 L1515.3,126.6 L1516.0,125.2 L1516.8,123.9 L1517.5,122.5 L1518.2,121.2 L1519.0,119.9 L1519.7,118.5 L1520.5,117.2 L1521.3,115.9 L1522.1,114.6 L1522.9,113.3 L1523.7,111.9 L1524.5,110.6 L1525.4,109.3 L1526.2,108.0 L1527.1,106.8 L1528.0,105.5 L1528.9,104.3 L1529.9,103.2 L1530.9,102.1 L1532.0,101.1 L1533.1,100.1 L1534.3,99.3 L1535.5,98.6 L1536.8,98.0 L1538.2,97.5 L1539.6,97.1 L1541.0,96.9 L1542.5,96.7 L1543.9,96.7 L1545.4,96.8 L1546.9,97.0 L1548.3,97.3 L1549.7,97.7 L1551.0,98.2 L1552.3,98.8 L1553.5,99.6 L1554.7,100.4 L1555.8,101.3 L1556.8,102.3 L1557.8,103.4 L1558.7,104.5 L1559.6,105.7 L1560.5,107.0 L1561.3,108.3 L1562.1,109.6 L1562.9,111.0 L1563.6,112.3 L1564.4,113.7 L1565.1,115.1 L1565.8,116.5 L1566.5,117.9 L1567.3,119.3 L1567.9,120.7 L1568.6,122.1 L1569.3,123.5 L1570.0,124.9 L1570.7,126.3 L1571.3,127.7 L1572.0,129.1 L1572.6,130.4 L1573.3,131.8 L1573.9,133.2 L1574.5,134.6 L1575.1,136.0 L1575.7,137.4 L1576.3,138.8 L1576.9,140.2 L1577.5,141.6 L1578.1,143.0 L1578.7,144.4 L1579.3,145.8 L1579.8,147.2 L1580.4,148.6 L1581.0,149.9 L1581.5,151.3 L1582.0,152.7 L1582.6,154.1 L1583.1,155.5 L1583.6,156.9 L1584.2,158.3 L1584.7,159.7 L1585.2,161.1 L1585.7,162.5 L1586.2,163.9 L1586.7,165.3 L1587.2,166.7 L1587.7,168.1 L1588.1,169.5 L1588.6,170.9 L1589.1,172.4 L1589.6,173.8 L1590.0,175.2 L1590.5,176.6 L1590.9,178.0 L1591.4,179.4 L1591.8,180.8 L1592.3,182.2 L1592.7,183.6 L1593.2,185.1 L1593.6,186.5 L1594.0,187.9 L1594.4,189.3 L1594.9,190.7 L1595.3,192.2 L1595.7,193.6 L1596.1,195.0 L1596.5,196.4 L1596.9,197.9 L1597.3,199.3 L1597.7,200.7 L1598.1,202.2 L1598.5,203.6 L1598.9,205.0 L1599.3,206.5 L1599.7,207.9 L1600.1,209.4 L1600.5,210.8 L1600.9,212.3 L1601.2,213.7 L1601.6,215.1 L1602.0,216.6 L1602.4,218.0 L1602.7,219.5 L1603.1,220.9 L1603.5,222.4 L1603.8,223.9 L1604.2,225.3 L1604.6,226.8 L1604.9,228.2 L1605.3,229.7 L1605.6,231.1 L1606.0,232.6 L1606.3,234.1 L1606.7,235.5 L1607.0,237.0 L1607.4,238.4 L1607.7,239.9 L1608.1,241.4 L1608.4,242.8 L1608.7,244.3 L1609.1,245.8 L1609.4,247.2 L1609.7,248.7 L1610.1,250.2 L1610.4,251.7 L1610.7,253.1 L1611.1,254.6 L1611.4,256.1 L1611.7,257.5 L1612.1,259.0 L1612.4,260.5 L1612.7,262.0 L1613.0,263.4 L1613.3,264.9 L1613.7,266.4 L1614.0,267.9 L1614.3,269.3 L1614.6,270.8 L1614.9,272.3 L1615.3,273.8 L1615.6,275.2 L1615.9,276.7 L1616.2,278.2 L1616.5,279.7 L1616.8,281.1 L1617.1,282.6 L1617.5,284.1 L1617.8,285.6 L1618.1,287.1 L1618.4,288.5 L1618.7,290.0 L1619.0,291.5 L1619.3,293.0 L1619.6,294.4 L1620.0,295.9 L1620.3,297.4 L1620.6,298.9 L1620.9,300.3 L1621.2,301.8 L1621.5,303.3 L1621.8,304.8 L1622.1,306.2 L1622.5,307.7 L1622.8,309.2 L1623.1,310.7 L1623.4,312.1 L1623.7,313.6 L1624.0,315.1 L1624.3,316.5 L1624.7,318.0 L1625.0,319.5 L1625.3,320.9 L1625.6,322.4 L1625.9,323.9 L1626.2,325.3 L1626.6,326.8 L1626.9,328.3 L1627.2,329.7 L1627.5,331.2 L1627.8,332.7 L1628.2,334.1 L1628.5,335.6 L1628.8,337.0 L1629.1,338.5 L1629.5,340.0 L1629.8,341.4 L1630.1,342.9 L1630.5,344.3 L1630.8,345.8 L1631.1,347.2 L1631.5,348.7 L1631.8,350.1 L1632.1,351.6 L1632.5,353.0 L1632.8,354.5 L1633.2,355.9 L1633.5,357.4 L1633.8,358.8 L1634.2,360.3 L1634.5,361.7 L1634.9,363.2 L1635.2,364.6 L1635.6,366.1 L1635.9,367.5 L1636.3,369.0 L1636.6,370.4 L1636.9,371.9 L1637.3,373.3 L1637.6,374.8 L1638.0,376.2 L1638.3,377.7 L1638.7,379.1 L1639.0,380.6 L1639.4,382.0 L1639.7,383.5 L1640.1,384.9 L1640.4,386.4 L1640.8,387.8 L1641.1,389.3 L1641.5,390.8 L1641.8,392.2 L1642.2,393.7 L1642.6,395.1 L1642.9,396.6 L1643.3,398.0 L1643.6,399.5 L1644.0,400.9 L1644.3,402.4 L1644.7,403.9 L1645.1,405.3 L1645.4,406.8 L1645.8,408.2 L1646.2,409.7 L1646.5,411.1 L1646.9,412.6 L1647.3,414.1 L1647.6,415.5 L1648.0,417.0 L1648.4,418.4 L1648.8,419.9 L1649.1,421.3 L1649.5,422.8 L1649.9,424.2 L1650.3,425.7 L1650.7,427.2 L1651.1,428.6 L1651.4,430.1 L1651.8,431.5 L1652.2,433.0 L1652.6,434.4 L1653.0,435.9 L1653.4,437.3 L1653.8,438.8 L1654.2,440.2 L1654.6,441.7 L1655.0,443.1 L1655.4,444.6 L1655.8,446.0 L1656.2,447.5 L1656.6,448.9 L1657.0,450.4 L1657.5,451.8 L1657.9,453.2 L1658.3,454.7 L1658.7,456.1 L1659.2,457.6 L1659.6,459.0 L1660.0,460.5 L1660.4,461.9 L1660.9,463.3 L1661.3,464.8 L1661.8,466.2 L1662.2,467.6 L1662.7,469.1 L1663.1,470.5 L1663.6,471.9 L1664.0,473.4 L1664.5,474.8 L1664.9,476.2 L1665.4,477.6 L1665.9,479.1 L1666.3,480.5 L1666.8,481.9 L1667.3,483.3 L1667.7,484.8 L1668.2,486.2 L1668.7,487.6 L1669.2,489.0 L1669.7,490.4 L1670.2,491.8 L1670.7,493.3 L1671.2,494.7 L1671.7,496.1 L1672.2,497.5 L1672.7,498.9 L1673.2,500.3 L1673.7,501.7 L1674.2,503.1 L1674.8,504.5 L1675.3,505.9 L1675.8,507.3 L1676.0,507.8" stroke="#b0bcff" stroke-width="2.25"/>
<path d="M1380.0,507.8 L1381.1,506.7 L1382.2,505.6 L1383.3,504.5 L1384.4,503.5 L1385.4,502.4 L1386.5,501.3 L1387.5,500.2 L1388.6,499.1 L1389.6,497.9 L1390.6,496.8 L1391.6,495.7 L1392.6,494.6 L1393.6,493.4 L1394.6,492.3 L1395.6,491.1 L1396.5,490.0 L1397.5,488.8 L1398.4,487.7 L1399.4,486.5 L1400.3,485.3 L1401.2,484.1 L1402.1,482.9 L1403.0,481.7 L1403.9,480.5 L1404.8,479.3 L1405.7,478.1 L1406.5,476.9 L1407.4,475.7 L1408.2,474.5 L1409.1,473.3 L1409.9,472.0 L1410.8,470.8 L1411.6,469.5 L1412.4,468.3 L1413.2,467.0 L1414.0,465.8 L1414.8,464.5 L1415.6,463.3 L1416.3,462.0 L1417.1,460.7 L1417.9,459.5 L1418.6,458.2 L1419.4,456.9 L1420.1,455.6 L1420.8,454.3 L1421.6,453.0 L1422.3,451.7 L1423.0,450.4 L1423.7,449.1 L1424.4,447.8 L1425.1,446.5 L1425.8,445.1 L1426.5,443.8 L1427.1,442.5 L1427.8,441.2 L1428.5,439.8 L1429.1,438.5 L1429.8,437.1 L1430.4,435.8 L1431.1,434.4 L1431.7,433.1 L1432.3,431.7 L1433.0,430.4 L1433.6,429.0 L1434.2,427.7 L1434.8,426.3 L1435.4,424.9 L1436.0,423.6 L1436.6,422.2 L1437.2,420.8 L1437.8,419.4 L1438.3,418.0 L1438.9,416.7 L1439.5,415.3 L1440.1,413.9 L1440.6,412.5 L1441.2,411.1 L1441.7,409.7 L1442.3,408.3 L1442.8,406.9 L1443.4,405.5 L1443.9,404.1 L1444.4,402.7 L1445.0,401.3 L1445.5,399.9 L1446.0,398.4 L1446.5,397.0 L1447.0,395.6 L1447.5,394.2 L1448.0,392.8 L1448.6,391.4 L1449.1,389.9 L1449.6,388.5 L1450.0,387.1 L1450.5,385.7 L1451.0,384.2 L1451.5,382.8 L1452.0,381.4 L1452.5,379.9 L1453.0,378.5 L1453.4,377.1 L1453.9,375.6 L1454.4,374.2 L1454.9,372.8 L1455.3,371.3 L1455.8,369.9 L1456.2,368.5 L1456.7,367.0 L1457.2,365.6 L1457.6,364.1 L1458.1,362.7 L1458.5,361.2 L1459.0,359.8 L1459.4,358.4 L1459.9,356.9 L1460.3,355.5 L1460.8,354.0 L1461.2,352.6 L1461.7,351.2 L1462.1,349.7 L1462.6,348.3 L1463.0,346.8 L1463.5,345.4 L1463.9,343.9 L1464.3,342.5 L1464.8,341.1 L1465.2,339.6 L1465.7,338.2 L1466.1,336.7 L1466.5,335.3 L1467.0,333.9 L1467.4,332.4 L1467.9,331.0 L1468.3,329.5 L1468.7,328.1 L1469.2,326.7 L1469.6,325.2 L1470.0,323.8 L1470.5,322.3 L1470.9,320.9 L1471.4,319.5 L1471.8,318.0 L1472.2,316.6 L1472.7,315.2 L1473.1,313.7 L1473.5,312.3 L1474.0,310.9 L1474.4,309.4 L1474.8,308.0 L1475.3,306.6 L1475.7,305.1 L1476.1,303.7 L1476.6,302.3 L1477.0,300.8 L1477.4,299.4 L1477.9,298.0 L1478.3,296.5 L1478.8,295.1 L1479.2,293.7 L1479.6,292.2 L1480.1,290.8 L1480.5,289.4 L1480.9,288.0 L1481.4,286.5 L1481.8,285.1 L1482.2,283.7 L1482.7,282.2 L1483.1,280.8 L1483.6,279.4 L1484.0,278.0 L1484.4,276.5 L1484.9,275.1 L1485.3,273.7 L1485.8,272.2 L1486.2,270.8 L1486.6,269.4 L1487.1,268.0 L1487.5,266.5 L1488.0,265.1 L1488.4,263.7 L1488.9,262.3 L1489.3,260.8 L1489.7,259.4 L1490.2,258.0 L1490.6,256.6 L1491.1,255.1 L1491.5,253.7 L1492.0,252.3 L1492.4,250.9 L1492.9,249.4 L1493.3,248.0 L1493.8,246.6 L1494.2,245.2 L1494.7,243.8 L1495.1,242.3 L1495.6,240.9 L1496.0,239.5 L1496.5,238.1 L1496.9,236.7 L1497.4,235.2 L1497.9,233.8 L1498.3,232.4 L1498.8,231.0 L1499.2,229.6 L1499.7,228.1 L1500.2,226.7 L1500.6,225.3 L1501.1,223.9 L1501.6,222.5 L1502.0,221.0 L1502.5,219.6 L1503.0,218.2 L1503.4,216.8 L1503.9,215.4 L1504.4,213.9 L1504.9,212.5 L1505.3,211.1 L1505.8,209.7 L1506.3,208.3 L1506.8,206.9 L1507.2,205.4 L1507.7,204.0 L1508.2,202.6 L1508.7,201.2 L1509.2,199.8 L1509.7,198.4 L1510.2,197.0 L1510.6,195.5 L1511.1,194.1 L1511.6,192.7 L1512.1,191.3 L1512.6,189.9 L1513.1,188.5 L1513.6,187.0 L1514.1,185.6 L1514.6,184.2 L1515.1,182.8 L1515.6,181.4 L1516.1,180.0 L1516.6,178.6 L1517.1,177.1 L1517.7,175.7 L1518.2,174.3 L1518.7,172.9 L1519.2,171.5 L1519.7,170.1 L1520.2,168.7 L1520.8,167.3 L1521.3,165.8 L1521.8,164.4 L1522.3,163.0 L1522.9,161.6 L1523.4,160.2 L1523.9,158.8 L1524.5,157.4 L1525.0,156.0 L1525.5,154.6 L1526.1,153.1 L1526.7,151.7 L1527.2,150.3 L1527.8,148.9 L1528.4,147.5 L1528.9,146.2 L1529.5,144.8 L1530.1,143.4 L1530.8,142.0 L1531.4,140.6 L1532.0,139.2 L1532.7,137.9 L1533.3,136.5 L1534.0,135.1 L1534.7,133.8 L1535.4,132.4 L1536.1,131.1 L1536.8,129.8 L1537.6,128.4 L1538.3,127.1 L1539.1,125.8 L1539.9,124.5 L1540.7,123.2 L1541.5,121.9 L1542.4,120.6 L1543.2,119.3 L1544.1,118.1 L1545.0,116.8 L1546.0,115.6 L1546.9,114.3 L1547.9,113.1 L1548.9,111.9 L1549.9,110.7 L1550.9,109.5 L1552.0,108.4 L1553.1,107.2 L1554.2,106.2 L1555.4,105.1 L1556.5,104.1 L1557.7,103.2 L1558.9,102.3 L1560.1,101.5 L1561.4,100.8 L1562.7,100.1 L1564.0,99.6 L1565.3,99.1 L1566.6,98.6 L1568.0,98.3 L1569.3,98.0 L1570.7,97.8 L1572.0,97.7 L1573.4,97.6 L1574.8,97.7 L1576.1,97.8 L1577.5,98.0 L1578.8,98.3 L1580.1,98.7 L1581.4,99.1 L1582.7,99.7 L1583.9,100.3 L1585.2,101.0 L1586.4,101.8 L1587.6,102.6 L1588.7,103.6 L1589.8,104.5 L1590.9,105.6 L1592.0,106.7 L1593.1,107.8 L1594.1,108.9 L1595.1,110.1 L1596.1,111.3 L1597.1,112.5 L1598.1,113.8 L1599.0,115.0 L1599.9,116.3 L1600.8,117.5 L1601.7,118.8 L1602.5,120.0 L1603.4,121.3 L1604.2,122.6 L1605.0,123.9 L1605.8,125.2 L1606.6,126.5 L1607.3,127.8 L1608.1,129.1 L1608.8,130.4 L1609.5,131.8 L1610.2,133.1 L1610.9,134.4 L1611.5,135.8 L1612.2,137.1 L1612.8,138.5 L1613.4,139.8 L1614.0,141.2 L1614.6,142.6 L1615.2,144.0 L1615.8,145.3 L1616.4,146.7 L1616.9,148.1 L1617.4,149.5 L1618.0,150.9 L1618.5,152.3 L1619.0,153.7 L1619.5,155.2 L1620.0,156.6 L1620.4,158.0 L1620.9,159.4 L1621.4,160.8 L1621.8,162.3 L1622.3,163.7 L1622.7,165.2 L1623.1,166.6 L1623.6,168.0 L1624.0,169.5 L1624.4,170.9 L1624.8,172.4 L1625.2,173.8 L1625.6,175.3 L1626.0,176.7 L1626.3,178.2 L1626.7,179.7 L1627.1,181.1 L1627.5,182.6 L1627.8,184.0 L1628.2,185.5 L1628.6,187.0 L1628.9,188.4 L1629.3,189.9 L1629.7,191.4 L1630.0,192.8 L1630.4,194.3 L1630.7,195.8 L1631.1,197.2 L1631.4,198.7 L1631.8,200.2 L1632.1,201.6 L1632.5,203.1 L1632.9,204.6 L1633.2,206.0 L1633.6,207.5 L1633.9,209.0 L1634.3,210.4 L1634.6,211.9 L1635.0,213.3 L1635.3,214.8 L1635.7,216.3 L1636.1,217.7 L1636.4,219.2 L1636.8,220.7 L1637.1,222.1 L1637.5,223.6 L1637.8,225.1 L1638.2,226.5 L1638.5,228.0 L1638.9,229.4 L1639.3,230.9 L1639.6,232.4 L1640.0,233.8 L1640.3,235.3 L1640.7,236.8 L1641.0,238.2 L1641.4,239.7 L1641.8,241.1 L1642.1,242.6 L1642.5,244.1 L1642.8,245.5 L1643.2,247.0 L1643.6,248.4 L1643.9,249.9 L1644.3,251.4 L1644.6,252.8 L1645.0,254.3 L1645.3,255.7 L1645.7,257.2 L1646.1,258.7 L1646.4,260.1 L1646.8,261.6 L1647.2,263.0 L1647.5,264.5 L1647.9,265.9 L1648.2,267.4 L1648.6,268.9 L1649.0,270.3 L1649.3,271.8 L1649.7,273.2 L1650.1,274.7 L1650.4,276.1 L1650.8,277.6 L1651.2,279.0 L1651.5,280.5 L1651.9,281.9 L1652.3,283.4 L1652.6,284.9 L1653.0,286.3 L1653.4,287.8 L1653.8,289.2 L1654.1,290.7 L1654.5,292.1 L1654.9,293.6 L1655.2,295.0 L1655.6,296.5 L1656.0,297.9 L1656.4,299.4 L1656.7,300.8 L1657.1,302.3 L1657.5,303.7 L1657.9,305.2 L1658.2,306.6 L1658.6,308.1 L1659.0,309.5 L1659.4,311.0 L1659.8,312.4 L1660.1,313.9 L1660.5,315.3 L1660.9,316.8 L1661.3,318.2 L1661.7,319.7 L1662.1,321.1 L1662.4,322.6 L1662.8,324.0 L1663.2,325.5 L1663.6,326.9 L1664.0,328.3 L1664.4,329.8 L1664.8,331.2 L1665.2,332.7 L1665.6,334.1 L1666.0,335.6 L1666.4,337.0 L1666.7,338.5 L1667.1,339.9 L1667.5,341.3 L1667.9,342.8 L1668.3,344.2 L1668.7,345.7 L1669.1,347.1 L1669.5,348.6 L1669.9,350.0 L1670.3,351.4 L1670.7,352.9 L1671.2,354.3 L1671.6,355.8 L1672.0,357.2 L1672.4,358.6 L1672.8,360.1 L1673.2,361.5 L1673.6,363.0 L1674.0,364.4 L1674.4,365.8 L1674.8,367.3 L1675.3,368.7 L1675.7,370.1 L1676.1,371.6 L1676.5,373.0 L1676.9,374.4 L1677.4,375.9 L1677.8,377.3 L1678.2,378.7 L1678.6,380.2 L1679.1,381.6 L1679.5,383.0 L1679.9,384.5 L1680.3,385.9 L1680.8,387.3 L1681.2,388.8 L1681.6,390.2 L1682.1,391.6 L1682.5,393.1 L1682.9,394.5 L1683.4,395.9 L1683.8,397.4 L1684.3,398.8 L1684.7,400.2 L1685.2,401.6 L1685.6,403.1 L1686.0,404.5 L1686.5,405.9 L1686.9,407.4 L1687.4,408.8 L1687.8,410.2 L1688.3,411.6 L1688.8,413.1 L1689.2,414.5 L1689.7,415.9 L1690.1,417.3 L1690.6,418.8 L1691.0,420.2 L1691.5,421.6 L1692.0,423.0 L1692.4,424.5 L1692.9,425.9 L1693.4,427.3 L1693.9,428.7 L1694.3,430.1 L1694.8,431.6 L1695.3,433.0 L1695.8,434.4 L1696.2,435.8 L1696.7,437.2 L1697.2,438.7 L1697.7,440.1 L1698.2,441.5 L1698.6,442.9 L1699.1,444.3 L1699.6,445.7 L1700.1,447.2 L1700.6,448.6 L1701.1,450.0 L1701.6,451.4 L1702.1,452.8 L1702.6,454.2 L1703.1,455.6 L1703.6,457.1 L1704.1,458.5 L1704.6,459.9 L1705.1,461.3 L1705.6,462.7 L1706.1,464.1 L1706.7,465.5 L1707.2,466.9 L1707.7,468.3 L1708.2,469.8 L1708.7,471.2 L1709.3,472.6 L1709.8,474.0 L1710.3,475.4 L1710.8,476.8 L1711.4,478.2 L1711.9,479.6 L1712.4,481.0 L1713.0,482.4 L1713.5,483.8 L1714.0,485.2 L1714.6,486.6 L1715.1,488.0 L1715.7,489.4 L1716.2,490.8 L1716.8,492.2 L1717.3,493.6 L1717.9,495.0 L1718.4,496.4 L1719.0,497.8 L1719.5,499.2 L1720.1,500.6 L1720.7,502.0 L1721.2,503.4 L1721.8,504.8 L1722.4,506.2 L1722.9,507.6 L1723.0,507.8" stroke="#4d62ff" stroke-width="2.3"/>
<path d="M1380.0,507.7 L1381.1,506.8 L1382.2,505.8 L1383.3,504.8 L1384.4,503.8 L1385.5,502.8 L1386.6,501.9 L1387.7,500.9 L1388.9,499.9 L1390.0,498.9 L1391.1,498.0 L1392.3,497.0 L1393.4,496.1 L1394.6,495.1 L1395.7,494.1 L1396.9,493.2 L1398.0,492.2 L1399.2,491.3 L1400.4,490.3 L1401.5,489.4 L1402.7,488.4 L1403.9,487.5 L1405.0,486.5 L1406.2,485.5 L1407.4,484.6 L1408.5,483.6 L1409.7,482.7 L1410.9,481.7 L1412.0,480.8 L1413.2,479.8 L1414.4,478.8 L1415.6,477.9 L1416.7,476.9 L1417.9,475.9 L1419.0,475.0 L1420.2,474.0 L1421.4,473.0 L1422.5,472.0 L1423.7,471.1 L1424.8,470.1 L1425.9,469.1 L1427.1,468.1 L1428.2,467.1 L1429.3,466.1 L1430.5,465.1 L1431.6,464.1 L1432.7,463.1 L1433.8,462.0 L1434.9,461.0 L1436.0,460.0 L1437.1,459.0 L1438.1,457.9 L1439.2,456.9 L1440.3,455.8 L1441.3,454.7 L1442.4,453.7 L1443.4,452.6 L1444.4,451.5 L1445.5,450.4 L1446.5,449.3 L1447.5,448.2 L1448.5,447.1 L1449.4,446.0 L1450.4,444.9 L1451.4,443.8 L1452.3,442.6 L1453.3,441.5 L1454.2,440.3 L1455.1,439.1 L1456.0,438.0 L1456.9,436.8 L1457.8,435.6 L1458.6,434.4 L1459.5,433.2 L1460.3,431.9 L1461.2,430.7 L1462.0,429.5 L1462.8,428.2 L1463.6,427.0 L1464.4,425.7 L1465.2,424.5 L1465.9,423.2 L1466.7,421.9 L1467.5,420.6 L1468.2,419.3 L1468.9,418.0 L1469.7,416.7 L1470.4,415.4 L1471.1,414.1 L1471.8,412.8 L1472.5,411.4 L1473.2,410.1 L1473.9,408.8 L1474.5,407.4 L1475.2,406.1 L1475.9,404.7 L1476.5,403.4 L1477.2,402.0 L1477.8,400.6 L1478.4,399.3 L1479.1,397.9 L1479.7,396.5 L1480.3,395.2 L1480.9,393.8 L1481.5,392.4 L1482.1,391.0 L1482.7,389.6 L1483.3,388.2 L1483.9,386.8 L1484.5,385.4 L1485.1,384.0 L1485.6,382.6 L1486.2,381.2 L1486.8,379.8 L1487.4,378.4 L1487.9,377.0 L1488.5,375.6 L1489.0,374.2 L1489.6,372.8 L1490.2,371.4 L1490.7,370.0 L1491.3,368.6 L1491.8,367.2 L1492.4,365.7 L1492.9,364.3 L1493.5,362.9 L1494.0,361.5 L1494.6,360.1 L1495.1,358.7 L1495.6,357.3 L1496.2,355.9 L1496.7,354.5 L1497.3,353.1 L1497.8,351.7 L1498.3,350.2 L1498.9,348.8 L1499.4,347.4 L1499.9,346.0 L1500.4,344.6 L1501.0,343.2 L1501.5,341.8 L1502.0,340.4 L1502.5,339.0 L1503.1,337.5 L1503.6,336.1 L1504.1,334.7 L1504.6,333.3 L1505.1,331.9 L1505.7,330.5 L1506.2,329.1 L1506.7,327.7 L1507.2,326.3 L1507.7,324.8 L1508.2,323.4 L1508.7,322.0 L1509.2,320.6 L1509.7,319.2 L1510.2,317.8 L1510.8,316.4 L1511.3,315.0 L1511.8,313.5 L1512.3,312.1 L1512.8,310.7 L1513.3,309.3 L1513.8,307.9 L1514.3,306.5 L1514.8,305.1 L1515.2,303.7 L1515.7,302.2 L1516.2,300.8 L1516.7,299.4 L1517.2,298.0 L1517.7,296.6 L1518.2,295.2 L1518.7,293.8 L1519.2,292.3 L1519.7,290.9 L1520.2,289.5 L1520.7,288.1 L1521.1,286.7 L1521.6,285.3 L1522.1,283.9 L1522.6,282.4 L1523.1,281.0 L1523.6,279.6 L1524.1,278.2 L1524.5,276.8 L1525.0,275.4 L1525.5,274.0 L1526.0,272.5 L1526.5,271.1 L1527.0,269.7 L1527.4,268.3 L1527.9,266.9 L1528.4,265.5 L1528.9,264.0 L1529.4,262.6 L1529.8,261.2 L1530.3,259.8 L1530.8,258.4 L1531.3,257.0 L1531.8,255.6 L1532.2,254.1 L1532.7,252.7 L1533.2,251.3 L1533.7,249.9 L1534.1,248.5 L1534.6,247.1 L1535.1,245.6 L1535.6,244.2 L1536.1,242.8 L1536.5,241.4 L1537.0,240.0 L1537.5,238.6 L1538.0,237.1 L1538.4,235.7 L1538.9,234.3 L1539.4,232.9 L1539.9,231.5 L1540.3,230.1 L1540.8,228.6 L1541.3,227.2 L1541.8,225.8 L1542.3,224.4 L1542.7,223.0 L1543.2,221.6 L1543.7,220.1 L1544.2,218.7 L1544.7,217.3 L1545.1,215.9 L1545.6,214.5 L1546.1,213.1 L1546.6,211.6 L1547.1,210.2 L1547.5,208.8 L1548.0,207.4 L1548.5,206.0 L1549.0,204.6 L1549.5,203.1 L1549.9,201.7 L1550.4,200.3 L1550.9,198.9 L1551.4,197.5 L1551.9,196.1 L1552.4,194.6 L1552.9,193.2 L1553.3,191.8 L1553.8,190.4 L1554.3,189.0 L1554.8,187.6 L1555.3,186.1 L1555.8,184.7 L1556.3,183.3 L1556.8,181.9 L1557.3,180.5 L1557.8,179.1 L1558.2,177.6 L1558.7,176.2 L1559.2,174.8 L1559.7,173.4 L1560.2,172.0 L1560.7,170.6 L1561.2,169.1 L1561.7,167.7 L1562.2,166.3 L1562.7,164.9 L1563.2,163.5 L1563.7,162.1 L1564.2,160.7 L1564.8,159.2 L1565.3,157.8 L1565.8,156.4 L1566.3,155.0 L1566.8,153.6 L1567.4,152.2 L1567.9,150.8 L1568.4,149.4 L1569.0,148.0 L1569.5,146.6 L1570.1,145.2 L1570.7,143.8 L1571.2,142.4 L1571.8,141.0 L1572.4,139.6 L1573.0,138.2 L1573.6,136.9 L1574.3,135.5 L1574.9,134.1 L1575.6,132.8 L1576.2,131.4 L1576.9,130.1 L1577.6,128.7 L1578.3,127.4 L1579.0,126.1 L1579.8,124.7 L1580.5,123.4 L1581.3,122.1 L1582.1,120.8 L1582.9,119.5 L1583.7,118.2 L1584.5,116.9 L1585.4,115.6 L1586.3,114.4 L1587.2,113.1 L1588.1,111.9 L1589.0,110.6 L1590.0,109.4 L1590.9,108.2 L1591.9,107.0 L1593.0,105.9 L1594.0,104.8 L1595.1,103.8 L1596.3,102.8 L1597.4,101.8 L1598.6,101.0 L1599.8,100.2 L1601.1,99.5 L1602.4,98.8 L1603.8,98.3 L1605.1,97.8 L1606.5,97.5 L1607.9,97.2 L1609.3,97.0 L1610.8,96.8 L1612.2,96.8 L1613.6,96.8 L1615.1,96.9 L1616.5,97.1 L1617.9,97.4 L1619.3,97.8 L1620.7,98.3 L1622.0,98.8 L1623.3,99.4 L1624.6,100.1 L1625.9,100.9 L1627.1,101.8 L1628.2,102.7 L1629.4,103.7 L1630.5,104.8 L1631.5,105.9 L1632.6,107.1 L1633.6,108.3 L1634.5,109.5 L1635.5,110.8 L1636.4,112.1 L1637.2,113.4 L1638.1,114.8 L1638.9,116.1 L1639.7,117.4 L1640.4,118.8 L1641.2,120.1 L1641.9,121.5 L1642.6,122.8 L1643.3,124.2 L1643.9,125.6 L1644.5,127.0 L1645.2,128.3 L1645.8,129.7 L1646.4,131.1 L1647.0,132.5 L1647.5,133.9 L1648.1,135.3 L1648.6,136.7 L1649.2,138.1 L1649.8,139.4 L1650.3,140.8 L1650.8,142.2 L1651.4,143.6 L1651.9,145.0 L1652.5,146.4 L1653.0,147.8 L1653.5,149.2 L1654.1,150.6 L1654.6,152.0 L1655.1,153.4 L1655.7,154.8 L1656.2,156.2 L1656.7,157.6 L1657.3,159.0 L1657.8,160.4 L1658.3,161.8 L1658.8,163.2 L1659.3,164.6 L1659.9,166.0 L1660.4,167.4 L1660.9,168.8 L1661.4,170.3 L1661.9,171.7 L1662.4,173.1 L1662.9,174.5 L1663.4,175.9 L1664.0,177.3 L1664.5,178.7 L1665.0,180.1 L1665.5,181.5 L1666.0,182.9 L1666.5,184.3 L1667.0,185.7 L1667.5,187.1 L1668.0,188.6 L1668.5,190.0 L1668.9,191.4 L1669.4,192.8 L1669.9,194.2 L1670.4,195.6 L1670.9,197.0 L1671.4,198.4 L1671.9,199.9 L1672.4,201.3 L1672.9,202.7 L1673.3,204.1 L1673.8,205.5 L1674.3,206.9 L1674.8,208.3 L1675.3,209.8 L1675.7,211.2 L1676.2,212.6 L1676.7,214.0 L1677.2,215.4 L1677.6,216.9 L1678.1,218.3 L1678.6,219.7 L1679.1,221.1 L1679.5,222.5 L1680.0,224.0 L1680.5,225.4 L1680.9,226.8 L1681.4,228.2 L1681.9,229.6 L1682.3,231.1 L1682.8,232.5 L1683.2,233.9 L1683.7,235.3 L1684.2,236.8 L1684.6,238.2 L1685.1,239.6 L1685.5,241.0 L1686.0,242.5 L1686.5,243.9 L1686.9,245.3 L1687.4,246.7 L1687.8,248.2 L1688.3,249.6 L1688.7,251.0 L1689.2,252.5 L1689.6,253.9 L1690.1,255.3 L1690.5,256.7 L1691.0,258.2 L1691.4,259.6 L1691.9,261.0 L1692.3,262.5 L1692.8,263.9 L1693.2,265.3 L1693.7,266.8 L1694.1,268.2 L1694.5,269.6 L1695.0,271.1 L1695.4,272.5 L1695.9,273.9 L1696.3,275.4 L1696.8,276.8 L1697.2,278.2 L1697.6,279.7 L1698.1,281.1 L1698.5,282.6 L1699.0,284.0 L1699.4,285.4 L1699.8,286.9 L1700.3,288.3 L1700.7,289.7 L1701.2,291.2 L1701.6,292.6 L1702.0,294.1 L1702.5,295.5 L1702.9,296.9 L1703.4,298.4 L1703.8,299.8 L1704.2,301.2 L1704.7,302.7 L1705.1,304.1 L1705.6,305.6 L1706.0,307.0 L1706.4,308.4 L1706.9,309.9 L1707.3,311.3 L1707.8,312.8 L1708.2,314.2 L1708.6,315.6 L1709.1,317.1 L1709.5,318.5 L1710.0,319.9 L1710.4,321.4 L1710.9,322.8 L1711.3,324.3 L1711.8,325.7 L1712.2,327.1 L1712.7,328.6 L1713.1,330.0 L1713.5,331.4 L1714.0,332.9 L1714.4,334.3 L1714.9,335.8 L1715.4,337.2 L1715.8,338.6 L1716.3,340.1 L1716.7,341.5 L1717.2,342.9 L1717.6,344.4 L1718.1,345.8 L1718.5,347.2 L1719.0,348.7 L1719.5,350.1 L1719.9,351.5 L1720.4,353.0 L1720.9,354.4 L1721.3,355.8 L1721.8,357.2 L1722.3,358.7 L1722.7,360.1 L1723.2,361.5 L1723.7,363.0 L1724.1,364.4 L1724.6,365.8 L1725.1,367.2 L1725.6,368.7 L1726.1,370.1 L1726.5,371.5 L1727.0,372.9 L1727.5,374.4 L1728.0,375.8 L1728.5,377.2 L1729.0,378.6 L1729.5,380.0 L1730.0,381.4 L1730.5,382.9 L1731.0,384.3 L1731.5,385.7 L1732.0,387.1 L1732.5,388.5 L1733.0,389.9 L1733.5,391.4 L1734.0,392.8 L1734.5,394.2 L1735.0,395.6 L1735.5,397.0 L1736.0,398.4 L1736.6,399.8 L1737.1,401.2 L1737.6,402.6 L1738.1,404.0 L1738.7,405.4 L1739.2,406.8 L1739.7,408.2 L1740.3,409.6 L1740.8,411.0 L1741.3,412.4 L1741.9,413.8 L1742.4,415.2 L1743.0,416.6 L1743.5,418.0 L1744.1,419.4 L1744.6,420.8 L1745.2,422.2 L1745.8,423.5 L1746.3,424.9 L1746.9,426.3 L1747.5,427.7 L1748.0,429.1 L1748.6,430.5 L1749.2,431.8 L1749.8,433.2 L1750.4,434.6 L1751.0,436.0 L1751.5,437.3 L1752.1,438.7 L1752.7,440.1 L1753.3,441.5 L1753.9,442.8 L1754.5,444.2 L1755.2,445.6 L1755.8,446.9 L1756.4,448.3 L1757.0,449.6 L1757.6,451.0 L1758.3,452.4 L1758.9,453.7 L1759.5,455.1 L1760.2,456.4 L1760.8,457.8 L1761.4,459.1 L1762.1,460.5 L1762.7,461.8 L1763.4,463.2 L1764.1,464.5 L1764.7,465.8 L1765.4,467.2 L1766.0,468.5 L1766.7,469.9 L1767.4,471.2 L1768.1,472.5 L1768.8,473.9 L1769.4,475.2 L1770.1,476.5 L1770.8,477.8 L1771.5,479.2 L1772.2,480.5 L1772.9,481.8 L1773.7,483.1 L1774.4,484.4 L1775.1,485.7 L1775.8,487.1 L1776.6,488.4 L1777.3,489.7 L1778.0,491.0 L1778.8,492.3 L1779.5,493.6 L1780.3,494.9 L1781.0,496.2 L1781.8,497.5 L1782.5,498.8 L1783.3,500.1 L1784.1,501.3 L1784.9,502.6 L1785.6,503.9 L1786.4,505.2 L1787.2,506.5 L1788.0,507.8" stroke="#0426ff" stroke-width="2.45"/>
</g>
<g class="t" font-size="19" text-anchor="middle" fill="#000">
<text x="1379.7" y="532.1">0</text>
<text x="1456.7" y="532.1">10</text>
<text x="1533.7" y="532.1">20</text>
<text x="1610.7" y="532.1">30</text>
<text x="1687.7" y="532.1">40</text>
<text x="1764.6" y="532.1">50</text>
<text x="1841.6" y="532.1">60</text>
<text x="1918.6" y="532.1">70</text>
<text x="1995.6" y="532.1">80</text>
</g>
<text x="1687.7" y="568.6" font-size="23.5" class="t" text-anchor="middle">Ion energy [eV]</text>
<rect x="305" y="3.9" width="189" height="46.800000000000004" fill="#c0c0c0"/>
<text x="399.5" y="40.9" font-size="41.7" font-weight="bold" text-anchor="middle">500 sccm</text>
<rect x="935.5" y="2.5" width="188.5" height="46.7" fill="#c0c0c0"/>
<text x="1029.8" y="40.0" font-size="41.7" font-weight="bold" text-anchor="middle">750 sccm</text>
<rect x="1583.7" y="1.25" width="211.89999999999986" height="46.45" fill="#c0c0c0"/>
<text x="1689.7" y="38.3" font-size="41.7" font-weight="bold" text-anchor="middle">1000 sccm</text>
<text x="738.7" y="98.3" font-size="42.2" font-weight="bold">(b)</text>
<text x="1389.8" y="97.3" font-size="42.0" font-weight="bold">(c)</text>
<text class="tb" x="205.5" y="90.1" font-size="19.15" fill="#0000ff">24 eV</text>
<text class="tb" x="271" y="88.3" font-size="19.15" fill="#0000ff">28 eV</text>
<text class="tb" x="327.5" y="88.3" font-size="19.15" fill="#0000ff">35 eV</text>
<text class="tr" x="382" y="87.8" font-size="19.15" fill="#ff0000">42 eV</text>
<text class="tr" x="441.5" y="87.8" font-size="19.15" fill="#ff0000">46 eV</text>
<text class="tr" x="543.5" y="89.3" font-size="19.15" fill="#ff0000">63 eV</text>
<text class="tb" x="807.5" y="90.3" font-size="19.15" fill="#0000ff">22 eV</text>
<text class="tb" x="874" y="90.3" font-size="19.15" fill="#0000ff">27 eV</text>
<text class="tb" x="942.5" y="89.8" font-size="19.15" fill="#0000ff">32 eV</text>
<text class="tr" x="996" y="88.3" font-size="19.15" fill="#ff0000">38 eV</text>
<text class="tr" x="1050" y="89.3" font-size="19.15" fill="#ff0000">41 eV</text>
<text class="tr" x="782.5" y="141.8" font-size="19.15" fill="#ff0000">26 eV</text>
<text class="tb" x="1457.5" y="89.6" font-size="19.15" fill="#0000ff">21 eV</text>
<text class="tb" x="1535" y="88.6" font-size="19.15" fill="#0000ff">25 eV</text>
<text class="tb" x="1584.5" y="88.6" font-size="19.15" fill="#0000ff">31 eV</text>
<text class="tr" x="1636" y="88.6" font-size="19.15" fill="#ff0000">36 eV</text>
<text class="tr" x="1693" y="88.6" font-size="19.15" fill="#ff0000">38 eV</text>
<text class="tr" x="1432.5" y="140.6" font-size="19.15" fill="#ff0000">25 eV</text>
<path d="M841.2,93.2 L878.3,96.9" stroke="#0000ff" stroke-width="0.7" fill="none"/>
<path d="M889.2,98.0 L878.0,99.9 L878.5,93.9 Z" fill="#0000ff"/>
<path d="M900.0,89.2 L926.7,94.2" stroke="#0000ff" stroke-width="0.7" fill="none"/>
<path d="M937.5,96.2 L926.1,97.2 L927.2,91.3 Z" fill="#0000ff"/>
<path d="M817.5,126.2 L915.6,99.2" stroke="#ff0000" stroke-width="0.7" fill="none"/>
<path d="M926.2,96.2 L916.4,102.1 L914.8,96.3 Z" fill="#ff0000"/>
<path d="M1483.8,92.5 L1526.5,94.5" stroke="#0000ff" stroke-width="0.7" fill="none"/>
<path d="M1537.5,95.0 L1526.4,97.5 L1526.7,91.5 Z" fill="#0000ff"/>
<path d="M1458.8,124.5 L1554.4,99.8" stroke="#ff0000" stroke-width="0.7" fill="none"/>
<path d="M1565.0,97.0 L1555.1,102.7 L1553.6,96.9 Z" fill="#ff0000"/>
<path d="M1701.2,91.2 L1682.2,93.6" stroke="#ff0000" stroke-width="0.7" fill="none"/>
<path d="M1671.2,95.0 L1681.8,90.7 L1682.5,96.6 Z" fill="#ff0000"/>
<rect x="1777.1" y="77.1" width="199.30000000000018" height="145.0" fill="#fff" stroke="#7f7f7f" stroke-width="1.2"/>
<path d="M1780,90.8 H1822.6" stroke="#0426ff" stroke-width="2.4" stroke-linecap="round" fill="none"/>
<text class="t" x="1827.7" y="97.2" font-size="19.5">300 A (Icoil:10 A)</text>
<path d="M1780,114.4 H1822.6" stroke="#4d62ff" stroke-width="2.4" stroke-linecap="round" fill="none"/>
<text class="t" x="1827.7" y="120.8" font-size="19.5">200 A (Icoil:10 A)</text>
<path d="M1780,138.1 H1822.6" stroke="#b0bcff" stroke-width="2.4" stroke-linecap="round" fill="none"/>
<text class="t" x="1827.7" y="144.5" font-size="19.5">100 A (Icoil:10 A)</text>
<path d="M1780,161.7 H1822.6" stroke="#ff0000" stroke-width="2.4" stroke-linecap="round" fill="none"/>
<text class="t" x="1827.7" y="168.1" font-size="19.5">300 A (Icoil:40 A)</text>
<path d="M1780,185.3 H1822.6" stroke="#ff5555" stroke-width="2.4" stroke-linecap="round" fill="none"/>
<text class="t" x="1827.7" y="191.8" font-size="19.5">200 A (Icoil:40 A)</text>
<path d="M1780,209.0 H1822.6" stroke="#ffb0b0" stroke-width="2.4" stroke-linecap="round" fill="none"/>
<text class="t" x="1827.7" y="215.4" font-size="19.5">100 A (Icoil:40 A)</text>
</svg>
</body></html>
